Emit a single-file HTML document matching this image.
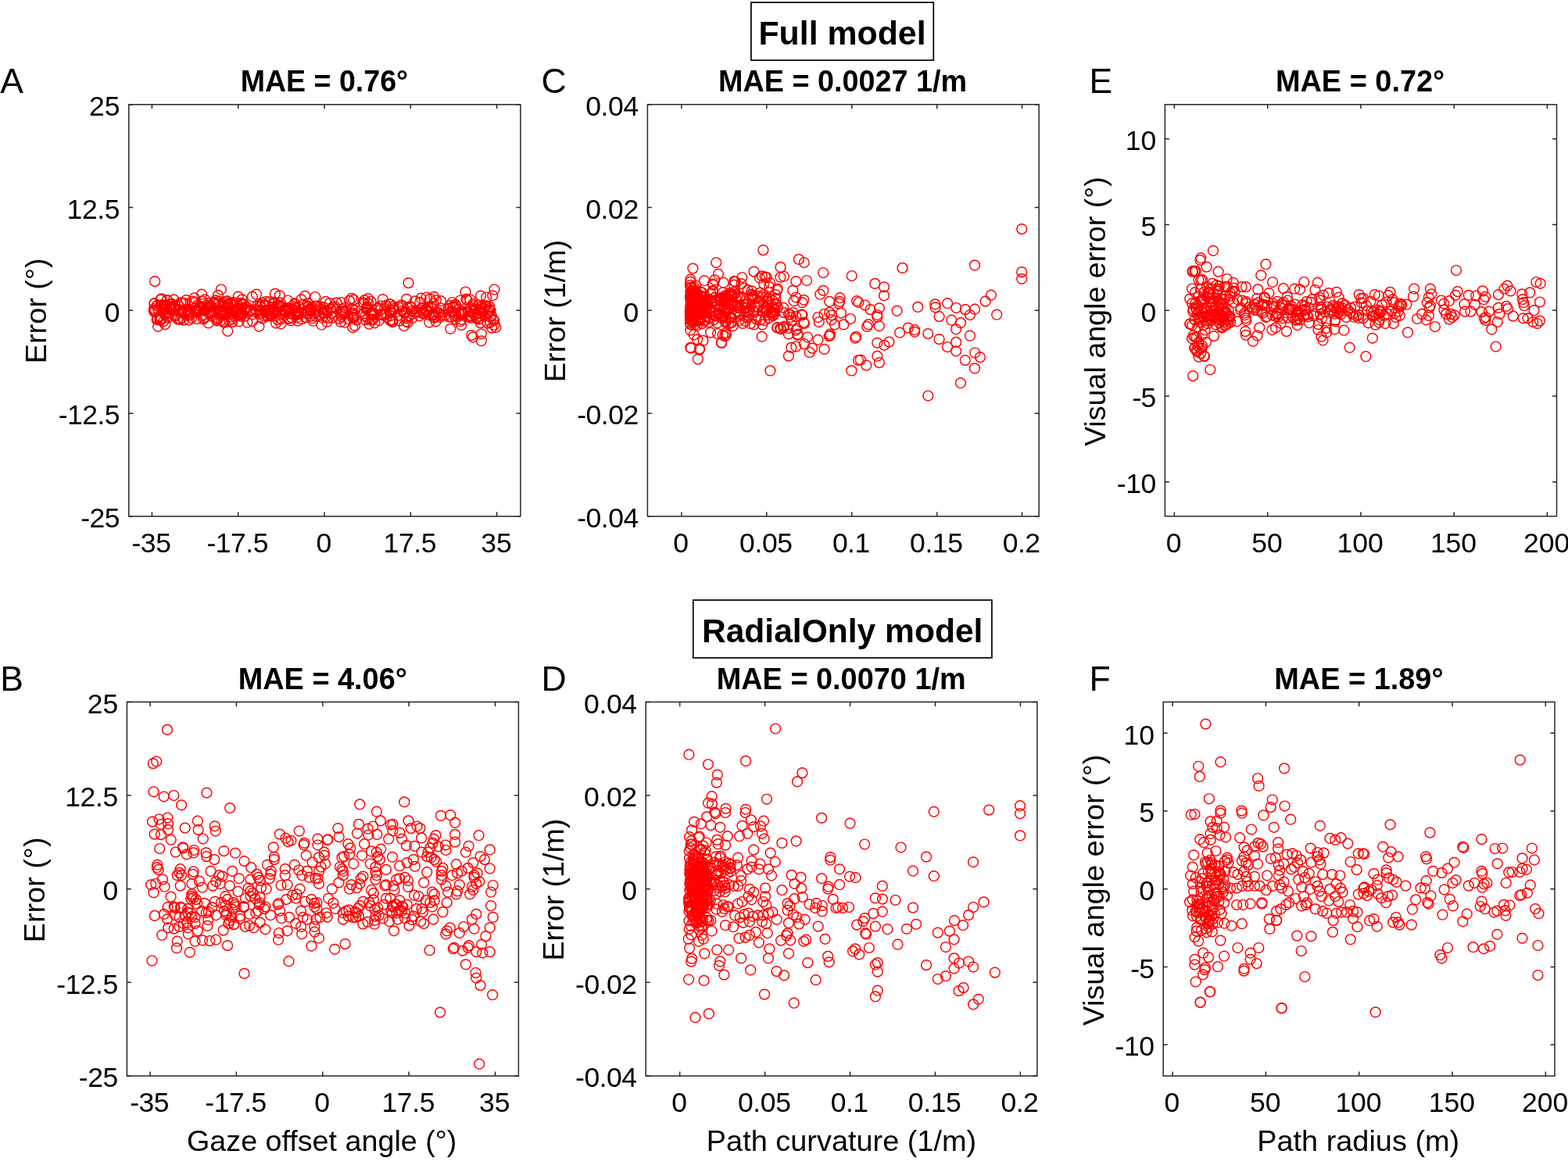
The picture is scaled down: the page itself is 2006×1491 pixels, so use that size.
<!DOCTYPE html><html><head><meta charset="utf-8"><title>Model error figure</title><style>html,body{margin:0;padding:0;background:#fff;overflow:hidden}svg{display:block}text{font-family:"Liberation Sans",Arial,Helvetica,sans-serif;fill:#000}</style></head><body>
<svg width="2006" height="1491" viewBox="0 0 2006 1491">
<rect width="2006" height="1491" fill="#fff"/>
<g fill="none" stroke="#f00" stroke-width="1.45">
<circle cx="337.8" cy="404.7" r="6.4"/>
<circle cx="227.7" cy="407.5" r="6.4"/>
<circle cx="430.7" cy="395.5" r="6.4"/>
<circle cx="418.3" cy="399.7" r="6.4"/>
<circle cx="212.4" cy="394.5" r="6.4"/>
<circle cx="235.7" cy="398.8" r="6.4"/>
<circle cx="381.9" cy="399.5" r="6.4"/>
<circle cx="293.8" cy="393.6" r="6.4"/>
<circle cx="470.8" cy="408.1" r="6.4"/>
<circle cx="369.7" cy="393.9" r="6.4"/>
<circle cx="623.6" cy="413.6" r="6.4"/>
<circle cx="322.8" cy="402.3" r="6.4"/>
<circle cx="259.2" cy="402.9" r="6.4"/>
<circle cx="553.5" cy="402.4" r="6.4"/>
<circle cx="275.2" cy="386.9" r="6.4"/>
<circle cx="359.1" cy="391.5" r="6.4"/>
<circle cx="435.9" cy="400.3" r="6.4"/>
<circle cx="286.2" cy="398.6" r="6.4"/>
<circle cx="494.0" cy="390.9" r="6.4"/>
<circle cx="452.5" cy="400.7" r="6.4"/>
<circle cx="394.5" cy="392.8" r="6.4"/>
<circle cx="502.2" cy="411.9" r="6.4"/>
<circle cx="302.9" cy="388.2" r="6.4"/>
<circle cx="579.3" cy="392.8" r="6.4"/>
<circle cx="515.5" cy="391.9" r="6.4"/>
<circle cx="379.1" cy="397.7" r="6.4"/>
<circle cx="410.2" cy="392.6" r="6.4"/>
<circle cx="213.2" cy="390.4" r="6.4"/>
<circle cx="447.0" cy="384.9" r="6.4"/>
<circle cx="579.5" cy="392.4" r="6.4"/>
<circle cx="456.3" cy="409.6" r="6.4"/>
<circle cx="450.0" cy="381.8" r="6.4"/>
<circle cx="609.8" cy="401.9" r="6.4"/>
<circle cx="403.7" cy="396.0" r="6.4"/>
<circle cx="503.3" cy="394.9" r="6.4"/>
<circle cx="479.4" cy="413.3" r="6.4"/>
<circle cx="320.7" cy="396.8" r="6.4"/>
<circle cx="365.0" cy="396.6" r="6.4"/>
<circle cx="398.2" cy="395.9" r="6.4"/>
<circle cx="269.6" cy="399.7" r="6.4"/>
<circle cx="532.5" cy="399.5" r="6.4"/>
<circle cx="252.7" cy="397.6" r="6.4"/>
<circle cx="577.7" cy="406.0" r="6.4"/>
<circle cx="231.3" cy="387.3" r="6.4"/>
<circle cx="582.9" cy="400.9" r="6.4"/>
<circle cx="554.8" cy="402.0" r="6.4"/>
<circle cx="377.9" cy="392.3" r="6.4"/>
<circle cx="353.1" cy="413.5" r="6.4"/>
<circle cx="262.1" cy="383.3" r="6.4"/>
<circle cx="273.2" cy="398.2" r="6.4"/>
<circle cx="408.4" cy="403.7" r="6.4"/>
<circle cx="454.0" cy="397.4" r="6.4"/>
<circle cx="379.5" cy="398.3" r="6.4"/>
<circle cx="357.7" cy="378.3" r="6.4"/>
<circle cx="498.4" cy="389.0" r="6.4"/>
<circle cx="421.8" cy="388.1" r="6.4"/>
<circle cx="219.6" cy="388.9" r="6.4"/>
<circle cx="590.0" cy="400.7" r="6.4"/>
<circle cx="545.5" cy="380.5" r="6.4"/>
<circle cx="367.9" cy="394.3" r="6.4"/>
<circle cx="473.8" cy="399.9" r="6.4"/>
<circle cx="223.3" cy="402.8" r="6.4"/>
<circle cx="267.1" cy="399.9" r="6.4"/>
<circle cx="344.9" cy="397.7" r="6.4"/>
<circle cx="262.3" cy="397.6" r="6.4"/>
<circle cx="240.4" cy="396.2" r="6.4"/>
<circle cx="579.0" cy="399.0" r="6.4"/>
<circle cx="465.0" cy="401.4" r="6.4"/>
<circle cx="348.2" cy="402.7" r="6.4"/>
<circle cx="355.5" cy="409.3" r="6.4"/>
<circle cx="631.0" cy="409.0" r="6.4"/>
<circle cx="400.1" cy="393.9" r="6.4"/>
<circle cx="240.8" cy="397.9" r="6.4"/>
<circle cx="346.1" cy="396.0" r="6.4"/>
<circle cx="266.7" cy="413.4" r="6.4"/>
<circle cx="206.1" cy="407.4" r="6.4"/>
<circle cx="260.2" cy="394.3" r="6.4"/>
<circle cx="433.9" cy="407.8" r="6.4"/>
<circle cx="624.6" cy="399.3" r="6.4"/>
<circle cx="574.1" cy="395.3" r="6.4"/>
<circle cx="356.6" cy="391.3" r="6.4"/>
<circle cx="269.2" cy="398.9" r="6.4"/>
<circle cx="537.2" cy="387.1" r="6.4"/>
<circle cx="340.4" cy="400.1" r="6.4"/>
<circle cx="627.4" cy="412.8" r="6.4"/>
<circle cx="569.5" cy="402.9" r="6.4"/>
<circle cx="520.1" cy="382.8" r="6.4"/>
<circle cx="295.3" cy="389.6" r="6.4"/>
<circle cx="208.7" cy="396.6" r="6.4"/>
<circle cx="208.2" cy="396.3" r="6.4"/>
<circle cx="499.3" cy="404.0" r="6.4"/>
<circle cx="615.0" cy="378.6" r="6.4"/>
<circle cx="628.8" cy="404.0" r="6.4"/>
<circle cx="614.3" cy="393.5" r="6.4"/>
<circle cx="295.4" cy="402.0" r="6.4"/>
<circle cx="282.2" cy="400.9" r="6.4"/>
<circle cx="590.3" cy="408.9" r="6.4"/>
<circle cx="564.1" cy="385.2" r="6.4"/>
<circle cx="546.2" cy="399.1" r="6.4"/>
<circle cx="233.1" cy="387.6" r="6.4"/>
<circle cx="538.6" cy="381.7" r="6.4"/>
<circle cx="524.6" cy="392.2" r="6.4"/>
<circle cx="541.6" cy="398.2" r="6.4"/>
<circle cx="341.6" cy="404.6" r="6.4"/>
<circle cx="371.8" cy="410.4" r="6.4"/>
<circle cx="270.5" cy="393.0" r="6.4"/>
<circle cx="251.6" cy="408.2" r="6.4"/>
<circle cx="549.2" cy="412.5" r="6.4"/>
<circle cx="260.0" cy="408.5" r="6.4"/>
<circle cx="349.5" cy="393.2" r="6.4"/>
<circle cx="202.2" cy="396.1" r="6.4"/>
<circle cx="621.2" cy="391.4" r="6.4"/>
<circle cx="604.9" cy="389.1" r="6.4"/>
<circle cx="386.0" cy="408.5" r="6.4"/>
<circle cx="288.4" cy="386.0" r="6.4"/>
<circle cx="306.3" cy="395.8" r="6.4"/>
<circle cx="452.9" cy="403.6" r="6.4"/>
<circle cx="309.6" cy="393.6" r="6.4"/>
<circle cx="594.6" cy="399.7" r="6.4"/>
<circle cx="351.0" cy="386.6" r="6.4"/>
<circle cx="592.1" cy="400.4" r="6.4"/>
<circle cx="380.2" cy="406.2" r="6.4"/>
<circle cx="428.9" cy="392.5" r="6.4"/>
<circle cx="425.3" cy="406.6" r="6.4"/>
<circle cx="276.2" cy="398.6" r="6.4"/>
<circle cx="197.7" cy="399.1" r="6.4"/>
<circle cx="403.4" cy="392.5" r="6.4"/>
<circle cx="513.6" cy="390.4" r="6.4"/>
<circle cx="423.0" cy="394.9" r="6.4"/>
<circle cx="439.3" cy="398.4" r="6.4"/>
<circle cx="441.4" cy="393.6" r="6.4"/>
<circle cx="304.8" cy="395.0" r="6.4"/>
<circle cx="418.4" cy="411.9" r="6.4"/>
<circle cx="442.0" cy="398.7" r="6.4"/>
<circle cx="390.1" cy="378.8" r="6.4"/>
<circle cx="464.3" cy="387.3" r="6.4"/>
<circle cx="499.4" cy="397.1" r="6.4"/>
<circle cx="394.1" cy="388.0" r="6.4"/>
<circle cx="608.4" cy="395.5" r="6.4"/>
<circle cx="502.3" cy="412.0" r="6.4"/>
<circle cx="309.7" cy="383.3" r="6.4"/>
<circle cx="441.1" cy="412.7" r="6.4"/>
<circle cx="256.1" cy="391.8" r="6.4"/>
<circle cx="249.3" cy="394.4" r="6.4"/>
<circle cx="301.4" cy="398.7" r="6.4"/>
<circle cx="228.0" cy="390.3" r="6.4"/>
<circle cx="588.9" cy="384.5" r="6.4"/>
<circle cx="263.6" cy="394.9" r="6.4"/>
<circle cx="258.6" cy="385.3" r="6.4"/>
<circle cx="582.7" cy="403.4" r="6.4"/>
<circle cx="613.2" cy="396.3" r="6.4"/>
<circle cx="560.6" cy="399.6" r="6.4"/>
<circle cx="266.7" cy="388.2" r="6.4"/>
<circle cx="344.5" cy="401.8" r="6.4"/>
<circle cx="281.7" cy="391.8" r="6.4"/>
<circle cx="204.5" cy="409.9" r="6.4"/>
<circle cx="438.7" cy="396.0" r="6.4"/>
<circle cx="341.2" cy="398.1" r="6.4"/>
<circle cx="469.3" cy="394.4" r="6.4"/>
<circle cx="627.5" cy="397.3" r="6.4"/>
<circle cx="541.3" cy="401.4" r="6.4"/>
<circle cx="312.3" cy="396.8" r="6.4"/>
<circle cx="213.3" cy="398.7" r="6.4"/>
<circle cx="252.7" cy="390.9" r="6.4"/>
<circle cx="380.9" cy="410.8" r="6.4"/>
<circle cx="309.3" cy="389.2" r="6.4"/>
<circle cx="261.4" cy="407.2" r="6.4"/>
<circle cx="502.8" cy="392.1" r="6.4"/>
<circle cx="235.2" cy="409.6" r="6.4"/>
<circle cx="382.3" cy="402.1" r="6.4"/>
<circle cx="227.7" cy="408.7" r="6.4"/>
<circle cx="547.1" cy="392.9" r="6.4"/>
<circle cx="232.7" cy="399.5" r="6.4"/>
<circle cx="573.9" cy="395.0" r="6.4"/>
<circle cx="394.8" cy="391.8" r="6.4"/>
<circle cx="601.9" cy="406.6" r="6.4"/>
<circle cx="313.3" cy="404.7" r="6.4"/>
<circle cx="300.4" cy="405.0" r="6.4"/>
<circle cx="243.9" cy="398.9" r="6.4"/>
<circle cx="284.4" cy="399.8" r="6.4"/>
<circle cx="332.7" cy="392.6" r="6.4"/>
<circle cx="323.0" cy="411.0" r="6.4"/>
<circle cx="415.0" cy="400.9" r="6.4"/>
<circle cx="204.0" cy="404.6" r="6.4"/>
<circle cx="305.7" cy="411.3" r="6.4"/>
<circle cx="437.4" cy="398.8" r="6.4"/>
<circle cx="279.0" cy="377.9" r="6.4"/>
<circle cx="242.6" cy="400.6" r="6.4"/>
<circle cx="554.7" cy="388.5" r="6.4"/>
<circle cx="561.6" cy="401.6" r="6.4"/>
<circle cx="368.2" cy="384.5" r="6.4"/>
<circle cx="626.3" cy="397.0" r="6.4"/>
<circle cx="346.1" cy="404.1" r="6.4"/>
<circle cx="474.6" cy="385.9" r="6.4"/>
<circle cx="373.3" cy="395.9" r="6.4"/>
<circle cx="252.9" cy="399.8" r="6.4"/>
<circle cx="227.0" cy="397.1" r="6.4"/>
<circle cx="267.5" cy="391.0" r="6.4"/>
<circle cx="233.0" cy="406.8" r="6.4"/>
<circle cx="489.7" cy="383.1" r="6.4"/>
<circle cx="319.5" cy="397.8" r="6.4"/>
<circle cx="397.2" cy="404.6" r="6.4"/>
<circle cx="265.0" cy="391.2" r="6.4"/>
<circle cx="617.3" cy="399.7" r="6.4"/>
<circle cx="622.0" cy="391.4" r="6.4"/>
<circle cx="619.0" cy="395.6" r="6.4"/>
<circle cx="331.6" cy="397.3" r="6.4"/>
<circle cx="363.2" cy="397.8" r="6.4"/>
<circle cx="403.9" cy="391.8" r="6.4"/>
<circle cx="417.1" cy="397.4" r="6.4"/>
<circle cx="198.2" cy="397.2" r="6.4"/>
<circle cx="371.0" cy="401.2" r="6.4"/>
<circle cx="214.3" cy="404.7" r="6.4"/>
<circle cx="298.0" cy="398.5" r="6.4"/>
<circle cx="452.5" cy="383.6" r="6.4"/>
<circle cx="484.0" cy="394.9" r="6.4"/>
<circle cx="509.6" cy="403.6" r="6.4"/>
<circle cx="338.8" cy="391.7" r="6.4"/>
<circle cx="627.3" cy="405.6" r="6.4"/>
<circle cx="477.7" cy="408.5" r="6.4"/>
<circle cx="215.2" cy="406.7" r="6.4"/>
<circle cx="470.8" cy="382.1" r="6.4"/>
<circle cx="517.4" cy="399.3" r="6.4"/>
<circle cx="425.4" cy="393.2" r="6.4"/>
<circle cx="416.9" cy="405.3" r="6.4"/>
<circle cx="558.0" cy="384.3" r="6.4"/>
<circle cx="451.8" cy="407.6" r="6.4"/>
<circle cx="499.7" cy="389.5" r="6.4"/>
<circle cx="296.7" cy="402.0" r="6.4"/>
<circle cx="354.0" cy="398.4" r="6.4"/>
<circle cx="242.0" cy="403.1" r="6.4"/>
<circle cx="471.0" cy="388.2" r="6.4"/>
<circle cx="470.3" cy="393.3" r="6.4"/>
<circle cx="197.5" cy="388.6" r="6.4"/>
<circle cx="545.4" cy="397.4" r="6.4"/>
<circle cx="430.4" cy="387.4" r="6.4"/>
<circle cx="484.8" cy="410.2" r="6.4"/>
<circle cx="306.5" cy="403.1" r="6.4"/>
<circle cx="228.6" cy="396.2" r="6.4"/>
<circle cx="285.9" cy="411.2" r="6.4"/>
<circle cx="520.0" cy="407.3" r="6.4"/>
<circle cx="363.6" cy="396.0" r="6.4"/>
<circle cx="405.8" cy="391.6" r="6.4"/>
<circle cx="466.2" cy="384.2" r="6.4"/>
<circle cx="477.5" cy="401.7" r="6.4"/>
<circle cx="307.2" cy="399.7" r="6.4"/>
<circle cx="521.5" cy="393.8" r="6.4"/>
<circle cx="201.5" cy="407.9" r="6.4"/>
<circle cx="222.6" cy="396.0" r="6.4"/>
<circle cx="499.2" cy="410.1" r="6.4"/>
<circle cx="492.0" cy="394.9" r="6.4"/>
<circle cx="399.5" cy="407.4" r="6.4"/>
<circle cx="400.3" cy="410.7" r="6.4"/>
<circle cx="283.3" cy="409.7" r="6.4"/>
<circle cx="624.4" cy="399.0" r="6.4"/>
<circle cx="397.0" cy="396.9" r="6.4"/>
<circle cx="555.1" cy="406.6" r="6.4"/>
<circle cx="313.7" cy="395.7" r="6.4"/>
<circle cx="287.9" cy="403.0" r="6.4"/>
<circle cx="450.7" cy="395.5" r="6.4"/>
<circle cx="258.1" cy="376.7" r="6.4"/>
<circle cx="254.1" cy="394.3" r="6.4"/>
<circle cx="555.3" cy="379.8" r="6.4"/>
<circle cx="504.1" cy="396.5" r="6.4"/>
<circle cx="297.3" cy="405.4" r="6.4"/>
<circle cx="206.9" cy="391.6" r="6.4"/>
<circle cx="197.6" cy="388.2" r="6.4"/>
<circle cx="328.3" cy="398.0" r="6.4"/>
<circle cx="257.6" cy="393.4" r="6.4"/>
<circle cx="564.0" cy="403.7" r="6.4"/>
<circle cx="196.8" cy="397.6" r="6.4"/>
<circle cx="248.6" cy="381.3" r="6.4"/>
<circle cx="601.8" cy="393.3" r="6.4"/>
<circle cx="322.9" cy="379.7" r="6.4"/>
<circle cx="454.1" cy="416.9" r="6.4"/>
<circle cx="354.0" cy="391.4" r="6.4"/>
<circle cx="217.1" cy="400.5" r="6.4"/>
<circle cx="240.5" cy="401.0" r="6.4"/>
<circle cx="605.8" cy="391.5" r="6.4"/>
<circle cx="305.2" cy="396.5" r="6.4"/>
<circle cx="279.2" cy="407.6" r="6.4"/>
<circle cx="359.5" cy="414.5" r="6.4"/>
<circle cx="551.6" cy="392.7" r="6.4"/>
<circle cx="472.3" cy="414.8" r="6.4"/>
<circle cx="436.6" cy="387.0" r="6.4"/>
<circle cx="511.2" cy="410.6" r="6.4"/>
<circle cx="393.5" cy="401.7" r="6.4"/>
<circle cx="525.7" cy="393.2" r="6.4"/>
<circle cx="217.5" cy="392.0" r="6.4"/>
<circle cx="601.9" cy="404.2" r="6.4"/>
<circle cx="346.5" cy="404.4" r="6.4"/>
<circle cx="326.4" cy="395.9" r="6.4"/>
<circle cx="483.3" cy="394.1" r="6.4"/>
<circle cx="368.7" cy="407.8" r="6.4"/>
<circle cx="269.3" cy="400.6" r="6.4"/>
<circle cx="592.8" cy="402.4" r="6.4"/>
<circle cx="413.7" cy="401.0" r="6.4"/>
<circle cx="632.5" cy="415.7" r="6.4"/>
<circle cx="393.1" cy="401.1" r="6.4"/>
<circle cx="235.7" cy="401.8" r="6.4"/>
<circle cx="345.8" cy="402.8" r="6.4"/>
<circle cx="309.2" cy="400.9" r="6.4"/>
<circle cx="445.5" cy="408.2" r="6.4"/>
<circle cx="376.8" cy="388.3" r="6.4"/>
<circle cx="377.3" cy="389.3" r="6.4"/>
<circle cx="344.1" cy="396.2" r="6.4"/>
<circle cx="223.2" cy="393.7" r="6.4"/>
<circle cx="416.5" cy="385.9" r="6.4"/>
<circle cx="290.6" cy="385.2" r="6.4"/>
<circle cx="314.7" cy="397.6" r="6.4"/>
<circle cx="391.3" cy="406.1" r="6.4"/>
<circle cx="613.8" cy="407.5" r="6.4"/>
<circle cx="205.6" cy="383.4" r="6.4"/>
<circle cx="210.1" cy="393.0" r="6.4"/>
<circle cx="403.3" cy="380.0" r="6.4"/>
<circle cx="453.2" cy="406.0" r="6.4"/>
<circle cx="602.0" cy="397.5" r="6.4"/>
<circle cx="557.6" cy="411.5" r="6.4"/>
<circle cx="304.8" cy="379.6" r="6.4"/>
<circle cx="243.8" cy="403.3" r="6.4"/>
<circle cx="494.7" cy="406.0" r="6.4"/>
<circle cx="608.4" cy="395.3" r="6.4"/>
<circle cx="531.0" cy="385.4" r="6.4"/>
<circle cx="396.3" cy="395.2" r="6.4"/>
<circle cx="538.6" cy="396.7" r="6.4"/>
<circle cx="297.9" cy="408.2" r="6.4"/>
<circle cx="329.1" cy="391.6" r="6.4"/>
<circle cx="252.0" cy="397.4" r="6.4"/>
<circle cx="502.0" cy="409.6" r="6.4"/>
<circle cx="245.1" cy="406.9" r="6.4"/>
<circle cx="451.3" cy="401.9" r="6.4"/>
<circle cx="366.0" cy="399.4" r="6.4"/>
<circle cx="200.6" cy="408.9" r="6.4"/>
<circle cx="328.1" cy="376.7" r="6.4"/>
<circle cx="478.3" cy="402.8" r="6.4"/>
<circle cx="583.1" cy="391.4" r="6.4"/>
<circle cx="304.2" cy="398.5" r="6.4"/>
<circle cx="616.7" cy="395.5" r="6.4"/>
<circle cx="205.5" cy="390.5" r="6.4"/>
<circle cx="414.3" cy="393.4" r="6.4"/>
<circle cx="308.7" cy="389.6" r="6.4"/>
<circle cx="488.3" cy="402.9" r="6.4"/>
<circle cx="210.9" cy="394.7" r="6.4"/>
<circle cx="344.1" cy="386.2" r="6.4"/>
<circle cx="282.8" cy="403.7" r="6.4"/>
<circle cx="545.1" cy="396.8" r="6.4"/>
<circle cx="285.9" cy="387.4" r="6.4"/>
<circle cx="620.8" cy="391.5" r="6.4"/>
<circle cx="297.1" cy="412.1" r="6.4"/>
<circle cx="293.0" cy="398.0" r="6.4"/>
<circle cx="612.9" cy="390.4" r="6.4"/>
<circle cx="413.1" cy="399.8" r="6.4"/>
<circle cx="378.7" cy="403.1" r="6.4"/>
<circle cx="487.4" cy="402.0" r="6.4"/>
<circle cx="368.3" cy="396.0" r="6.4"/>
<circle cx="289.3" cy="402.1" r="6.4"/>
<circle cx="218.7" cy="396.7" r="6.4"/>
<circle cx="222.3" cy="383.3" r="6.4"/>
<circle cx="583.0" cy="408.8" r="6.4"/>
<circle cx="516.9" cy="417.2" r="6.4"/>
<circle cx="340.2" cy="397.2" r="6.4"/>
<circle cx="277.3" cy="410.5" r="6.4"/>
<circle cx="210.0" cy="392.0" r="6.4"/>
<circle cx="487.0" cy="391.6" r="6.4"/>
<circle cx="341.3" cy="403.2" r="6.4"/>
<circle cx="270.1" cy="404.4" r="6.4"/>
<circle cx="349.9" cy="397.6" r="6.4"/>
<circle cx="614.5" cy="413.1" r="6.4"/>
<circle cx="286.8" cy="412.9" r="6.4"/>
<circle cx="352.2" cy="404.4" r="6.4"/>
<circle cx="385.4" cy="383.3" r="6.4"/>
<circle cx="217.6" cy="389.4" r="6.4"/>
<circle cx="598.7" cy="398.9" r="6.4"/>
<circle cx="280.5" cy="385.6" r="6.4"/>
<circle cx="209.3" cy="411.2" r="6.4"/>
<circle cx="375.9" cy="403.0" r="6.4"/>
<circle cx="213.8" cy="384.1" r="6.4"/>
<circle cx="211.3" cy="415.1" r="6.4"/>
<circle cx="308.6" cy="404.8" r="6.4"/>
<circle cx="523.3" cy="403.7" r="6.4"/>
<circle cx="315.3" cy="392.9" r="6.4"/>
<circle cx="615.5" cy="392.6" r="6.4"/>
<circle cx="509.9" cy="393.1" r="6.4"/>
<circle cx="334.6" cy="397.4" r="6.4"/>
<circle cx="527.0" cy="398.2" r="6.4"/>
<circle cx="597.4" cy="383.9" r="6.4"/>
<circle cx="206.6" cy="382.3" r="6.4"/>
<circle cx="613.8" cy="400.8" r="6.4"/>
<circle cx="365.3" cy="397.4" r="6.4"/>
<circle cx="412.1" cy="406.5" r="6.4"/>
<circle cx="602.5" cy="403.8" r="6.4"/>
<circle cx="519.5" cy="411.5" r="6.4"/>
<circle cx="556.4" cy="399.2" r="6.4"/>
<circle cx="339.6" cy="386.0" r="6.4"/>
<circle cx="336.0" cy="387.9" r="6.4"/>
<circle cx="230.6" cy="408.8" r="6.4"/>
<circle cx="282.4" cy="397.6" r="6.4"/>
<circle cx="224.4" cy="391.1" r="6.4"/>
<circle cx="210.8" cy="390.4" r="6.4"/>
<circle cx="625.4" cy="395.1" r="6.4"/>
<circle cx="583.0" cy="404.1" r="6.4"/>
<circle cx="232.8" cy="397.0" r="6.4"/>
<circle cx="238.2" cy="384.1" r="6.4"/>
<circle cx="391.8" cy="397.6" r="6.4"/>
<circle cx="298.6" cy="387.2" r="6.4"/>
<circle cx="491.3" cy="403.4" r="6.4"/>
<circle cx="523.6" cy="404.7" r="6.4"/>
<circle cx="249.1" cy="387.2" r="6.4"/>
<circle cx="564.3" cy="394.5" r="6.4"/>
<circle cx="359.4" cy="408.1" r="6.4"/>
<circle cx="519.3" cy="399.5" r="6.4"/>
<circle cx="303.5" cy="403.6" r="6.4"/>
<circle cx="263.2" cy="405.8" r="6.4"/>
<circle cx="338.9" cy="390.1" r="6.4"/>
<circle cx="369.5" cy="407.6" r="6.4"/>
<circle cx="297.3" cy="397.0" r="6.4"/>
<circle cx="550.1" cy="382.6" r="6.4"/>
<circle cx="403.9" cy="404.4" r="6.4"/>
<circle cx="596.5" cy="382.7" r="6.4"/>
<circle cx="213.7" cy="396.3" r="6.4"/>
<circle cx="279.0" cy="401.6" r="6.4"/>
<circle cx="622.2" cy="380.5" r="6.4"/>
<circle cx="359.0" cy="387.7" r="6.4"/>
<circle cx="575.4" cy="391.2" r="6.4"/>
<circle cx="536.7" cy="399.6" r="6.4"/>
<circle cx="610.2" cy="406.5" r="6.4"/>
<circle cx="467.5" cy="404.6" r="6.4"/>
<circle cx="291.3" cy="394.3" r="6.4"/>
<circle cx="285.3" cy="400.9" r="6.4"/>
<circle cx="307.7" cy="387.5" r="6.4"/>
<circle cx="285.1" cy="390.3" r="6.4"/>
<circle cx="201.0" cy="391.5" r="6.4"/>
<circle cx="277.1" cy="408.8" r="6.4"/>
<circle cx="332.7" cy="401.9" r="6.4"/>
<circle cx="436.0" cy="412.0" r="6.4"/>
<circle cx="223.7" cy="404.4" r="6.4"/>
<circle cx="437.0" cy="402.6" r="6.4"/>
<circle cx="476.0" cy="401.8" r="6.4"/>
<circle cx="500.6" cy="400.3" r="6.4"/>
<circle cx="375.5" cy="396.0" r="6.4"/>
<circle cx="613.5" cy="404.6" r="6.4"/>
<circle cx="332.8" cy="390.2" r="6.4"/>
<circle cx="378.4" cy="394.3" r="6.4"/>
<circle cx="574.5" cy="405.6" r="6.4"/>
<circle cx="282.4" cy="397.3" r="6.4"/>
<circle cx="514.9" cy="397.8" r="6.4"/>
<circle cx="590.9" cy="398.4" r="6.4"/>
<circle cx="381.6" cy="401.2" r="6.4"/>
<circle cx="582.7" cy="389.7" r="6.4"/>
<circle cx="397.9" cy="398.3" r="6.4"/>
<circle cx="437.6" cy="398.8" r="6.4"/>
<circle cx="476.6" cy="400.6" r="6.4"/>
<circle cx="468.5" cy="395.5" r="6.4"/>
<circle cx="358.4" cy="392.7" r="6.4"/>
<circle cx="320.1" cy="397.4" r="6.4"/>
<circle cx="424.3" cy="401.1" r="6.4"/>
<circle cx="410.8" cy="395.7" r="6.4"/>
<circle cx="548.5" cy="403.0" r="6.4"/>
<circle cx="251.5" cy="396.3" r="6.4"/>
<circle cx="609.1" cy="407.1" r="6.4"/>
<circle cx="219.4" cy="396.0" r="6.4"/>
<circle cx="601.7" cy="383.5" r="6.4"/>
<circle cx="467.7" cy="409.4" r="6.4"/>
<circle cx="557.2" cy="405.5" r="6.4"/>
<circle cx="293.3" cy="410.1" r="6.4"/>
<circle cx="373.2" cy="406.6" r="6.4"/>
<circle cx="276.1" cy="384.4" r="6.4"/>
<circle cx="291.5" cy="389.2" r="6.4"/>
<circle cx="364.0" cy="403.5" r="6.4"/>
<circle cx="249.9" cy="397.8" r="6.4"/>
<circle cx="589.0" cy="411.2" r="6.4"/>
<circle cx="214.0" cy="384.3" r="6.4"/>
<circle cx="212.7" cy="392.0" r="6.4"/>
<circle cx="563.1" cy="406.0" r="6.4"/>
<circle cx="436.9" cy="405.3" r="6.4"/>
<circle cx="470.6" cy="394.4" r="6.4"/>
<circle cx="451.2" cy="405.8" r="6.4"/>
<circle cx="382.5" cy="392.5" r="6.4"/>
<circle cx="388.0" cy="389.7" r="6.4"/>
<circle cx="206.2" cy="390.3" r="6.4"/>
<circle cx="299.0" cy="390.8" r="6.4"/>
<circle cx="530.4" cy="399.3" r="6.4"/>
<circle cx="274.7" cy="388.3" r="6.4"/>
<circle cx="403.3" cy="401.0" r="6.4"/>
<circle cx="384.6" cy="400.3" r="6.4"/>
<circle cx="236.2" cy="388.0" r="6.4"/>
<circle cx="213.9" cy="401.1" r="6.4"/>
<circle cx="474.8" cy="409.5" r="6.4"/>
<circle cx="536.6" cy="404.3" r="6.4"/>
<circle cx="420.0" cy="407.0" r="6.4"/>
<circle cx="361.5" cy="400.9" r="6.4"/>
<circle cx="612.5" cy="408.5" r="6.4"/>
<circle cx="632.3" cy="410.2" r="6.4"/>
<circle cx="516.7" cy="399.7" r="6.4"/>
<circle cx="626.0" cy="392.4" r="6.4"/>
<circle cx="411.4" cy="415.7" r="6.4"/>
<circle cx="268.3" cy="392.4" r="6.4"/>
<circle cx="541.3" cy="400.3" r="6.4"/>
<circle cx="349.7" cy="396.2" r="6.4"/>
<circle cx="527.2" cy="407.3" r="6.4"/>
<circle cx="316.4" cy="412.7" r="6.4"/>
<circle cx="553.2" cy="403.7" r="6.4"/>
<circle cx="598.9" cy="405.4" r="6.4"/>
<circle cx="287.2" cy="396.7" r="6.4"/>
<circle cx="335.8" cy="407.6" r="6.4"/>
<circle cx="212.1" cy="399.6" r="6.4"/>
<circle cx="606.1" cy="402.1" r="6.4"/>
<circle cx="493.7" cy="401.6" r="6.4"/>
<circle cx="539.8" cy="394.3" r="6.4"/>
<circle cx="246.4" cy="385.6" r="6.4"/>
<circle cx="353.6" cy="395.2" r="6.4"/>
<circle cx="578.4" cy="387.0" r="6.4"/>
<circle cx="582.6" cy="393.7" r="6.4"/>
<circle cx="241.8" cy="409.5" r="6.4"/>
<circle cx="368.7" cy="397.0" r="6.4"/>
<circle cx="545.4" cy="395.1" r="6.4"/>
<circle cx="353.8" cy="398.3" r="6.4"/>
<circle cx="273.4" cy="388.4" r="6.4"/>
<circle cx="521.7" cy="412.5" r="6.4"/>
<circle cx="307.1" cy="402.2" r="6.4"/>
<circle cx="476.0" cy="408.7" r="6.4"/>
<circle cx="486.7" cy="396.4" r="6.4"/>
<circle cx="332.9" cy="399.7" r="6.4"/>
<circle cx="261.4" cy="397.5" r="6.4"/>
<circle cx="465.8" cy="388.2" r="6.4"/>
<circle cx="588.2" cy="401.7" r="6.4"/>
<circle cx="253.8" cy="399.3" r="6.4"/>
<circle cx="205.8" cy="409.7" r="6.4"/>
<circle cx="197.1" cy="395.0" r="6.4"/>
<circle cx="352.4" cy="400.7" r="6.4"/>
<circle cx="294.2" cy="387.7" r="6.4"/>
<circle cx="285.4" cy="391.8" r="6.4"/>
<circle cx="469.3" cy="393.0" r="6.4"/>
<circle cx="606.2" cy="398.2" r="6.4"/>
<circle cx="302.7" cy="399.8" r="6.4"/>
<circle cx="475.5" cy="400.6" r="6.4"/>
<circle cx="577.6" cy="399.2" r="6.4"/>
<circle cx="311.7" cy="389.1" r="6.4"/>
<circle cx="201.0" cy="390.8" r="6.4"/>
<circle cx="349.4" cy="388.9" r="6.4"/>
<circle cx="198.2" cy="360.1" r="6.4"/>
<circle cx="282.9" cy="370.5" r="6.4"/>
<circle cx="351.9" cy="375.9" r="6.4"/>
<circle cx="291.3" cy="423.8" r="6.4"/>
<circle cx="202.1" cy="417.8" r="6.4"/>
<circle cx="331.4" cy="417.8" r="6.4"/>
<circle cx="522.5" cy="362.1" r="6.4"/>
<circle cx="451.3" cy="419.0" r="6.4"/>
<circle cx="603.2" cy="429.1" r="6.4"/>
<circle cx="615.8" cy="427.3" r="6.4"/>
<circle cx="615.8" cy="436.3" r="6.4"/>
<circle cx="605.0" cy="431.5" r="6.4"/>
<circle cx="632.5" cy="370.5" r="6.4"/>
<circle cx="630.2" cy="378.3" r="6.4"/>
<circle cx="634.3" cy="419.0" r="6.4"/>
<circle cx="629.0" cy="419.6" r="6.4"/>
<circle cx="595.5" cy="373.5" r="6.4"/>
<circle cx="576.3" cy="420.8" r="6.4"/>
<circle cx="590.1" cy="416.0" r="6.4"/>
</g>
<g fill="none" stroke="#f00" stroke-width="1.45">
<circle cx="976.4" cy="320.1" r="6.4"/>
<circle cx="916.3" cy="336.0" r="6.4"/>
<circle cx="886.4" cy="343.6" r="6.4"/>
<circle cx="919.0" cy="350.7" r="6.4"/>
<circle cx="964.6" cy="347.6" r="6.4"/>
<circle cx="998.6" cy="341.9" r="6.4"/>
<circle cx="1002.9" cy="353.7" r="6.4"/>
<circle cx="1021.9" cy="331.9" r="6.4"/>
<circle cx="1028.8" cy="336.0" r="6.4"/>
<circle cx="1053.2" cy="349.0" r="6.4"/>
<circle cx="1089.7" cy="353.0" r="6.4"/>
<circle cx="1018.3" cy="360.1" r="6.4"/>
<circle cx="1032.1" cy="359.0" r="6.4"/>
<circle cx="1014.3" cy="371.8" r="6.4"/>
<circle cx="1053.2" cy="371.8" r="6.4"/>
<circle cx="1049.2" cy="376.7" r="6.4"/>
<circle cx="1018.3" cy="380.5" r="6.4"/>
<circle cx="1028.4" cy="383.8" r="6.4"/>
<circle cx="1026.4" cy="387.2" r="6.4"/>
<circle cx="1015.6" cy="385.2" r="6.4"/>
<circle cx="1061.2" cy="385.9" r="6.4"/>
<circle cx="1074.6" cy="381.2" r="6.4"/>
<circle cx="1074.0" cy="385.9" r="6.4"/>
<circle cx="1073.3" cy="388.5" r="6.4"/>
<circle cx="1096.1" cy="385.2" r="6.4"/>
<circle cx="1076.0" cy="400.6" r="6.4"/>
<circle cx="1088.1" cy="408.0" r="6.4"/>
<circle cx="1061.2" cy="399.9" r="6.4"/>
<circle cx="1063.9" cy="403.3" r="6.4"/>
<circle cx="1054.5" cy="402.0" r="6.4"/>
<circle cx="1046.5" cy="406.0" r="6.4"/>
<circle cx="1047.8" cy="412.0" r="6.4"/>
<circle cx="1063.9" cy="409.3" r="6.4"/>
<circle cx="1067.9" cy="415.4" r="6.4"/>
<circle cx="1079.3" cy="415.4" r="6.4"/>
<circle cx="1026.4" cy="403.3" r="6.4"/>
<circle cx="1029.0" cy="414.0" r="6.4"/>
<circle cx="1002.2" cy="393.9" r="6.4"/>
<circle cx="1008.9" cy="402.0" r="6.4"/>
<circle cx="1011.6" cy="406.0" r="6.4"/>
<circle cx="994.2" cy="419.4" r="6.4"/>
<circle cx="1002.2" cy="419.4" r="6.4"/>
<circle cx="1008.9" cy="427.4" r="6.4"/>
<circle cx="1019.6" cy="420.7" r="6.4"/>
<circle cx="1020.3" cy="428.8" r="6.4"/>
<circle cx="1033.1" cy="431.5" r="6.4"/>
<circle cx="1046.5" cy="434.8" r="6.4"/>
<circle cx="1061.9" cy="429.5" r="6.4"/>
<circle cx="1094.1" cy="432.8" r="6.4"/>
<circle cx="1029.0" cy="440.2" r="6.4"/>
<circle cx="1039.1" cy="445.6" r="6.4"/>
<circle cx="1018.3" cy="443.5" r="6.4"/>
<circle cx="1012.3" cy="444.9" r="6.4"/>
<circle cx="1054.5" cy="446.9" r="6.4"/>
<circle cx="1035.7" cy="450.9" r="6.4"/>
<circle cx="1008.9" cy="455.6" r="6.4"/>
<circle cx="1098.1" cy="461.0" r="6.4"/>
<circle cx="985.4" cy="474.4" r="6.4"/>
<circle cx="1089.4" cy="474.4" r="6.4"/>
<circle cx="974.7" cy="430.8" r="6.4"/>
<circle cx="892.9" cy="459.6" r="6.4"/>
<circle cx="884.1" cy="445.6" r="6.4"/>
<circle cx="894.9" cy="447.6" r="6.4"/>
<circle cx="923.1" cy="438.2" r="6.4"/>
<circle cx="949.2" cy="355.0" r="6.4"/>
<circle cx="972.0" cy="355.7" r="6.4"/>
<circle cx="978.7" cy="354.3" r="6.4"/>
<circle cx="984.1" cy="367.1" r="6.4"/>
<circle cx="994.2" cy="371.1" r="6.4"/>
<circle cx="992.1" cy="377.1" r="6.4"/>
<circle cx="979.4" cy="380.5" r="6.4"/>
<circle cx="956.6" cy="371.1" r="6.4"/>
<circle cx="948.5" cy="363.1" r="6.4"/>
<circle cx="940.5" cy="360.4" r="6.4"/>
<circle cx="962.0" cy="383.2" r="6.4"/>
<circle cx="953.9" cy="393.9" r="6.4"/>
<circle cx="947.2" cy="402.0" r="6.4"/>
<circle cx="964.6" cy="399.3" r="6.4"/>
<circle cx="980.7" cy="396.6" r="6.4"/>
<circle cx="987.4" cy="393.9" r="6.4"/>
<circle cx="988.8" cy="403.3" r="6.4"/>
<circle cx="978.1" cy="410.0" r="6.4"/>
<circle cx="964.6" cy="415.4" r="6.4"/>
<circle cx="953.9" cy="411.3" r="6.4"/>
<circle cx="945.9" cy="410.0" r="6.4"/>
<circle cx="936.5" cy="412.7" r="6.4"/>
<circle cx="975.4" cy="415.4" r="6.4"/>
<circle cx="983.4" cy="407.3" r="6.4"/>
<circle cx="928.4" cy="426.1" r="6.4"/>
<circle cx="927.1" cy="430.1" r="6.4"/>
<circle cx="1307.2" cy="293.1" r="6.4"/>
<circle cx="1307.2" cy="348.1" r="6.4"/>
<circle cx="1307.2" cy="356.8" r="6.4"/>
<circle cx="1247.0" cy="339.4" r="6.4"/>
<circle cx="1154.5" cy="342.9" r="6.4"/>
<circle cx="1119.3" cy="362.9" r="6.4"/>
<circle cx="1131.0" cy="367.3" r="6.4"/>
<circle cx="1131.0" cy="378.3" r="6.4"/>
<circle cx="1098.4" cy="387.0" r="6.4"/>
<circle cx="1106.6" cy="390.5" r="6.4"/>
<circle cx="1113.5" cy="396.1" r="6.4"/>
<circle cx="1124.9" cy="394.3" r="6.4"/>
<circle cx="1122.3" cy="403.0" r="6.4"/>
<circle cx="1122.3" cy="405.6" r="6.4"/>
<circle cx="1147.6" cy="397.8" r="6.4"/>
<circle cx="1174.2" cy="392.9" r="6.4"/>
<circle cx="1196.4" cy="389.4" r="6.4"/>
<circle cx="1196.7" cy="393.4" r="6.4"/>
<circle cx="1212.1" cy="388.2" r="6.4"/>
<circle cx="1223.4" cy="394.0" r="6.4"/>
<circle cx="1234.8" cy="396.1" r="6.4"/>
<circle cx="1247.0" cy="395.7" r="6.4"/>
<circle cx="1240.9" cy="403.0" r="6.4"/>
<circle cx="1260.6" cy="385.6" r="6.4"/>
<circle cx="1267.9" cy="377.7" r="6.4"/>
<circle cx="1275.2" cy="402.7" r="6.4"/>
<circle cx="1201.6" cy="405.1" r="6.4"/>
<circle cx="1217.3" cy="409.7" r="6.4"/>
<circle cx="1229.0" cy="413.2" r="6.4"/>
<circle cx="1223.1" cy="421.3" r="6.4"/>
<circle cx="1240.9" cy="429.7" r="6.4"/>
<circle cx="1109.2" cy="417.9" r="6.4"/>
<circle cx="1110.9" cy="415.2" r="6.4"/>
<circle cx="1124.9" cy="417.3" r="6.4"/>
<circle cx="1095.2" cy="430.9" r="6.4"/>
<circle cx="1151.1" cy="425.7" r="6.4"/>
<circle cx="1161.9" cy="419.6" r="6.4"/>
<circle cx="1170.2" cy="422.2" r="6.4"/>
<circle cx="1170.2" cy="424.8" r="6.4"/>
<circle cx="1187.3" cy="427.1" r="6.4"/>
<circle cx="1122.3" cy="438.8" r="6.4"/>
<circle cx="1131.3" cy="441.8" r="6.4"/>
<circle cx="1137.4" cy="437.6" r="6.4"/>
<circle cx="1201.6" cy="434.1" r="6.4"/>
<circle cx="1223.1" cy="437.9" r="6.4"/>
<circle cx="1212.1" cy="444.0" r="6.4"/>
<circle cx="1223.1" cy="449.3" r="6.4"/>
<circle cx="1247.3" cy="451.5" r="6.4"/>
<circle cx="1254.0" cy="457.1" r="6.4"/>
<circle cx="1234.8" cy="461.1" r="6.4"/>
<circle cx="1247.0" cy="471.4" r="6.4"/>
<circle cx="1100.8" cy="460.6" r="6.4"/>
<circle cx="1108.3" cy="467.6" r="6.4"/>
<circle cx="1122.3" cy="455.7" r="6.4"/>
<circle cx="1124.9" cy="464.1" r="6.4"/>
<circle cx="1229.0" cy="490.2" r="6.4"/>
<circle cx="1187.3" cy="506.5" r="6.4"/>
<circle cx="883.3" cy="444.8" r="6.4"/>
<circle cx="895.1" cy="446.2" r="6.4"/>
<circle cx="923.1" cy="438.9" r="6.4"/>
<circle cx="924.6" cy="428.5" r="6.4"/>
<circle cx="929.0" cy="428.5" r="6.4"/>
<circle cx="918.0" cy="427.0" r="6.4"/>
<circle cx="909.1" cy="425.6" r="6.4"/>
<circle cx="883.3" cy="422.6" r="6.4"/>
<circle cx="887.7" cy="428.5" r="6.4"/>
<circle cx="892.1" cy="434.4" r="6.4"/>
<circle cx="899.5" cy="435.9" r="6.4"/>
<circle cx="994.7" cy="419.0" r="6.4"/>
<circle cx="999.1" cy="421.2" r="6.4"/>
<circle cx="974.8" cy="353.3" r="6.4"/>
<circle cx="980.7" cy="354.8" r="6.4"/>
<circle cx="883.3" cy="357.7" r="6.4"/>
<circle cx="883.3" cy="360.7" r="6.4"/>
<circle cx="901.0" cy="359.2" r="6.4"/>
<circle cx="914.3" cy="358.4" r="6.4"/>
<circle cx="939.4" cy="359.9" r="6.4"/>
<circle cx="985.1" cy="362.1" r="6.4"/>
<circle cx="994.7" cy="369.5" r="6.4"/>
<circle cx="998.4" cy="354.8" r="6.4"/>
<circle cx="890.1" cy="365.5" r="6.4"/>
<circle cx="892.1" cy="401.8" r="6.4"/>
<circle cx="884.8" cy="395.0" r="6.4"/>
<circle cx="888.1" cy="389.9" r="6.4"/>
<circle cx="886.4" cy="392.3" r="6.4"/>
<circle cx="893.4" cy="396.1" r="6.4"/>
<circle cx="882.9" cy="364.9" r="6.4"/>
<circle cx="883.9" cy="383.0" r="6.4"/>
<circle cx="884.4" cy="380.9" r="6.4"/>
<circle cx="890.0" cy="383.0" r="6.4"/>
<circle cx="894.6" cy="396.7" r="6.4"/>
<circle cx="885.3" cy="401.2" r="6.4"/>
<circle cx="883.1" cy="408.1" r="6.4"/>
<circle cx="891.6" cy="378.6" r="6.4"/>
<circle cx="882.8" cy="403.1" r="6.4"/>
<circle cx="887.2" cy="375.5" r="6.4"/>
<circle cx="892.3" cy="383.8" r="6.4"/>
<circle cx="883.6" cy="394.5" r="6.4"/>
<circle cx="884.7" cy="402.5" r="6.4"/>
<circle cx="892.5" cy="394.6" r="6.4"/>
<circle cx="891.1" cy="402.7" r="6.4"/>
<circle cx="885.0" cy="376.4" r="6.4"/>
<circle cx="888.4" cy="372.5" r="6.4"/>
<circle cx="888.0" cy="400.3" r="6.4"/>
<circle cx="885.0" cy="372.5" r="6.4"/>
<circle cx="884.5" cy="367.8" r="6.4"/>
<circle cx="897.6" cy="401.3" r="6.4"/>
<circle cx="884.7" cy="392.9" r="6.4"/>
<circle cx="892.3" cy="410.7" r="6.4"/>
<circle cx="885.6" cy="385.2" r="6.4"/>
<circle cx="897.7" cy="387.8" r="6.4"/>
<circle cx="899.5" cy="399.8" r="6.4"/>
<circle cx="889.8" cy="385.8" r="6.4"/>
<circle cx="887.2" cy="375.4" r="6.4"/>
<circle cx="895.6" cy="384.3" r="6.4"/>
<circle cx="886.8" cy="369.6" r="6.4"/>
<circle cx="891.8" cy="382.7" r="6.4"/>
<circle cx="884.5" cy="387.6" r="6.4"/>
<circle cx="889.6" cy="415.3" r="6.4"/>
<circle cx="883.9" cy="404.4" r="6.4"/>
<circle cx="883.0" cy="413.6" r="6.4"/>
<circle cx="885.8" cy="409.1" r="6.4"/>
<circle cx="883.9" cy="395.4" r="6.4"/>
<circle cx="891.1" cy="392.6" r="6.4"/>
<circle cx="889.8" cy="385.6" r="6.4"/>
<circle cx="883.3" cy="373.5" r="6.4"/>
<circle cx="889.0" cy="377.5" r="6.4"/>
<circle cx="894.8" cy="408.7" r="6.4"/>
<circle cx="898.3" cy="414.1" r="6.4"/>
<circle cx="900.0" cy="401.7" r="6.4"/>
<circle cx="903.0" cy="398.4" r="6.4"/>
<circle cx="883.6" cy="397.1" r="6.4"/>
<circle cx="883.0" cy="404.6" r="6.4"/>
<circle cx="889.8" cy="374.1" r="6.4"/>
<circle cx="895.0" cy="385.3" r="6.4"/>
<circle cx="883.5" cy="384.7" r="6.4"/>
<circle cx="883.5" cy="392.4" r="6.4"/>
<circle cx="885.5" cy="383.9" r="6.4"/>
<circle cx="886.7" cy="401.2" r="6.4"/>
<circle cx="885.1" cy="393.2" r="6.4"/>
<circle cx="891.6" cy="384.9" r="6.4"/>
<circle cx="887.7" cy="399.8" r="6.4"/>
<circle cx="896.1" cy="389.8" r="6.4"/>
<circle cx="886.5" cy="390.0" r="6.4"/>
<circle cx="886.8" cy="393.6" r="6.4"/>
<circle cx="891.3" cy="381.0" r="6.4"/>
<circle cx="888.2" cy="397.0" r="6.4"/>
<circle cx="883.5" cy="415.4" r="6.4"/>
<circle cx="894.8" cy="392.3" r="6.4"/>
<circle cx="884.4" cy="392.5" r="6.4"/>
<circle cx="892.9" cy="393.1" r="6.4"/>
<circle cx="887.5" cy="391.8" r="6.4"/>
<circle cx="887.5" cy="394.2" r="6.4"/>
<circle cx="887.6" cy="384.7" r="6.4"/>
<circle cx="885.8" cy="396.6" r="6.4"/>
<circle cx="903.0" cy="383.9" r="6.4"/>
<circle cx="885.1" cy="396.1" r="6.4"/>
<circle cx="887.6" cy="410.2" r="6.4"/>
<circle cx="883.6" cy="388.8" r="6.4"/>
<circle cx="893.7" cy="388.3" r="6.4"/>
<circle cx="891.2" cy="395.9" r="6.4"/>
<circle cx="885.9" cy="375.6" r="6.4"/>
<circle cx="886.4" cy="372.1" r="6.4"/>
<circle cx="883.4" cy="407.5" r="6.4"/>
<circle cx="898.2" cy="400.1" r="6.4"/>
<circle cx="884.9" cy="393.3" r="6.4"/>
<circle cx="899.0" cy="380.3" r="6.4"/>
<circle cx="897.9" cy="391.9" r="6.4"/>
<circle cx="884.7" cy="377.7" r="6.4"/>
<circle cx="892.6" cy="395.6" r="6.4"/>
<circle cx="892.6" cy="385.3" r="6.4"/>
<circle cx="885.6" cy="383.2" r="6.4"/>
<circle cx="884.0" cy="401.8" r="6.4"/>
<circle cx="892.3" cy="377.3" r="6.4"/>
<circle cx="884.1" cy="372.8" r="6.4"/>
<circle cx="888.9" cy="399.8" r="6.4"/>
<circle cx="883.7" cy="367.7" r="6.4"/>
<circle cx="884.7" cy="397.9" r="6.4"/>
<circle cx="884.3" cy="386.1" r="6.4"/>
<circle cx="895.8" cy="409.7" r="6.4"/>
<circle cx="884.0" cy="397.0" r="6.4"/>
<circle cx="885.6" cy="399.5" r="6.4"/>
<circle cx="888.0" cy="397.7" r="6.4"/>
<circle cx="884.3" cy="401.1" r="6.4"/>
<circle cx="891.9" cy="416.7" r="6.4"/>
<circle cx="883.6" cy="410.3" r="6.4"/>
<circle cx="886.2" cy="413.2" r="6.4"/>
<circle cx="892.1" cy="389.8" r="6.4"/>
<circle cx="886.8" cy="397.7" r="6.4"/>
<circle cx="883.6" cy="408.1" r="6.4"/>
<circle cx="884.4" cy="389.6" r="6.4"/>
<circle cx="886.4" cy="394.0" r="6.4"/>
<circle cx="893.8" cy="387.1" r="6.4"/>
<circle cx="889.8" cy="378.7" r="6.4"/>
<circle cx="887.2" cy="402.3" r="6.4"/>
<circle cx="886.4" cy="404.7" r="6.4"/>
<circle cx="892.3" cy="402.7" r="6.4"/>
<circle cx="888.8" cy="385.0" r="6.4"/>
<circle cx="892.5" cy="384.4" r="6.4"/>
<circle cx="891.8" cy="396.1" r="6.4"/>
<circle cx="897.6" cy="394.8" r="6.4"/>
<circle cx="896.2" cy="373.6" r="6.4"/>
<circle cx="890.8" cy="383.7" r="6.4"/>
<circle cx="885.4" cy="381.7" r="6.4"/>
<circle cx="889.7" cy="402.2" r="6.4"/>
<circle cx="893.5" cy="399.2" r="6.4"/>
<circle cx="891.5" cy="385.8" r="6.4"/>
<circle cx="886.7" cy="385.4" r="6.4"/>
<circle cx="887.1" cy="383.1" r="6.4"/>
<circle cx="890.7" cy="383.5" r="6.4"/>
<circle cx="901.4" cy="399.1" r="6.4"/>
<circle cx="893.3" cy="408.0" r="6.4"/>
<circle cx="883.1" cy="394.1" r="6.4"/>
<circle cx="888.3" cy="403.1" r="6.4"/>
<circle cx="902.6" cy="409.7" r="6.4"/>
<circle cx="887.9" cy="404.6" r="6.4"/>
<circle cx="888.3" cy="401.3" r="6.4"/>
<circle cx="891.6" cy="374.9" r="6.4"/>
<circle cx="895.2" cy="390.7" r="6.4"/>
<circle cx="888.0" cy="367.3" r="6.4"/>
<circle cx="884.5" cy="407.6" r="6.4"/>
<circle cx="890.9" cy="376.1" r="6.4"/>
<circle cx="883.7" cy="404.7" r="6.4"/>
<circle cx="885.9" cy="401.0" r="6.4"/>
<circle cx="886.4" cy="395.3" r="6.4"/>
<circle cx="882.9" cy="381.1" r="6.4"/>
<circle cx="891.2" cy="398.1" r="6.4"/>
<circle cx="885.8" cy="391.2" r="6.4"/>
<circle cx="892.3" cy="400.5" r="6.4"/>
<circle cx="902.5" cy="383.7" r="6.4"/>
<circle cx="894.1" cy="390.6" r="6.4"/>
<circle cx="886.3" cy="393.5" r="6.4"/>
<circle cx="893.3" cy="398.1" r="6.4"/>
<circle cx="894.4" cy="383.0" r="6.4"/>
<circle cx="888.6" cy="381.9" r="6.4"/>
<circle cx="884.6" cy="402.9" r="6.4"/>
<circle cx="889.9" cy="389.5" r="6.4"/>
<circle cx="894.8" cy="397.4" r="6.4"/>
<circle cx="885.2" cy="379.7" r="6.4"/>
<circle cx="888.4" cy="408.1" r="6.4"/>
<circle cx="885.9" cy="408.1" r="6.4"/>
<circle cx="896.1" cy="390.7" r="6.4"/>
<circle cx="884.8" cy="403.6" r="6.4"/>
<circle cx="886.7" cy="392.3" r="6.4"/>
<circle cx="891.8" cy="392.8" r="6.4"/>
<circle cx="885.1" cy="392.3" r="6.4"/>
<circle cx="887.4" cy="402.2" r="6.4"/>
<circle cx="886.7" cy="380.5" r="6.4"/>
<circle cx="886.0" cy="378.6" r="6.4"/>
<circle cx="901.3" cy="394.5" r="6.4"/>
<circle cx="895.1" cy="388.7" r="6.4"/>
<circle cx="899.3" cy="393.4" r="6.4"/>
<circle cx="895.3" cy="385.5" r="6.4"/>
<circle cx="889.8" cy="393.8" r="6.4"/>
<circle cx="904.0" cy="392.2" r="6.4"/>
<circle cx="890.3" cy="392.0" r="6.4"/>
<circle cx="883.9" cy="397.6" r="6.4"/>
<circle cx="884.7" cy="393.8" r="6.4"/>
<circle cx="884.0" cy="381.1" r="6.4"/>
<circle cx="899.2" cy="393.9" r="6.4"/>
<circle cx="898.3" cy="385.0" r="6.4"/>
<circle cx="889.4" cy="395.5" r="6.4"/>
<circle cx="898.5" cy="374.5" r="6.4"/>
<circle cx="893.7" cy="396.2" r="6.4"/>
<circle cx="891.1" cy="385.2" r="6.4"/>
<circle cx="888.1" cy="391.3" r="6.4"/>
<circle cx="897.8" cy="379.1" r="6.4"/>
<circle cx="888.5" cy="391.2" r="6.4"/>
<circle cx="883.9" cy="400.7" r="6.4"/>
<circle cx="887.6" cy="404.6" r="6.4"/>
<circle cx="883.9" cy="396.8" r="6.4"/>
<circle cx="887.5" cy="377.1" r="6.4"/>
<circle cx="896.7" cy="392.2" r="6.4"/>
<circle cx="882.8" cy="399.3" r="6.4"/>
<circle cx="888.6" cy="380.7" r="6.4"/>
<circle cx="890.5" cy="398.3" r="6.4"/>
<circle cx="886.6" cy="382.2" r="6.4"/>
<circle cx="883.3" cy="380.9" r="6.4"/>
<circle cx="883.0" cy="379.1" r="6.4"/>
<circle cx="889.4" cy="380.6" r="6.4"/>
<circle cx="911.9" cy="363.6" r="6.4"/>
<circle cx="935.3" cy="376.1" r="6.4"/>
<circle cx="932.3" cy="390.0" r="6.4"/>
<circle cx="901.2" cy="387.4" r="6.4"/>
<circle cx="912.2" cy="373.1" r="6.4"/>
<circle cx="931.0" cy="381.2" r="6.4"/>
<circle cx="918.9" cy="402.0" r="6.4"/>
<circle cx="927.7" cy="394.4" r="6.4"/>
<circle cx="915.2" cy="404.5" r="6.4"/>
<circle cx="919.9" cy="396.0" r="6.4"/>
<circle cx="929.8" cy="381.4" r="6.4"/>
<circle cx="914.5" cy="380.7" r="6.4"/>
<circle cx="918.2" cy="390.8" r="6.4"/>
<circle cx="935.1" cy="378.0" r="6.4"/>
<circle cx="911.9" cy="372.0" r="6.4"/>
<circle cx="911.4" cy="385.7" r="6.4"/>
<circle cx="922.9" cy="407.5" r="6.4"/>
<circle cx="928.2" cy="411.2" r="6.4"/>
<circle cx="931.9" cy="396.2" r="6.4"/>
<circle cx="919.6" cy="401.5" r="6.4"/>
<circle cx="900.2" cy="394.4" r="6.4"/>
<circle cx="906.8" cy="406.7" r="6.4"/>
<circle cx="923.7" cy="382.6" r="6.4"/>
<circle cx="928.4" cy="406.1" r="6.4"/>
<circle cx="922.2" cy="381.4" r="6.4"/>
<circle cx="922.6" cy="385.2" r="6.4"/>
<circle cx="924.5" cy="374.5" r="6.4"/>
<circle cx="907.7" cy="383.8" r="6.4"/>
<circle cx="927.5" cy="378.5" r="6.4"/>
<circle cx="903.6" cy="392.5" r="6.4"/>
<circle cx="927.9" cy="394.2" r="6.4"/>
<circle cx="932.9" cy="384.0" r="6.4"/>
<circle cx="929.6" cy="380.7" r="6.4"/>
<circle cx="928.3" cy="381.7" r="6.4"/>
<circle cx="910.9" cy="387.2" r="6.4"/>
<circle cx="915.2" cy="385.2" r="6.4"/>
<circle cx="923.1" cy="403.5" r="6.4"/>
<circle cx="933.6" cy="406.9" r="6.4"/>
<circle cx="901.4" cy="396.7" r="6.4"/>
<circle cx="904.3" cy="397.3" r="6.4"/>
<circle cx="933.1" cy="375.2" r="6.4"/>
<circle cx="916.1" cy="403.8" r="6.4"/>
<circle cx="921.3" cy="392.1" r="6.4"/>
<circle cx="933.8" cy="405.7" r="6.4"/>
<circle cx="914.8" cy="389.2" r="6.4"/>
<circle cx="903.7" cy="385.5" r="6.4"/>
<circle cx="905.5" cy="383.9" r="6.4"/>
<circle cx="900.6" cy="410.7" r="6.4"/>
<circle cx="904.4" cy="391.6" r="6.4"/>
<circle cx="934.8" cy="413.3" r="6.4"/>
<circle cx="904.6" cy="404.8" r="6.4"/>
<circle cx="900.6" cy="389.1" r="6.4"/>
<circle cx="926.4" cy="381.5" r="6.4"/>
<circle cx="906.7" cy="412.3" r="6.4"/>
<circle cx="925.7" cy="397.9" r="6.4"/>
<circle cx="930.8" cy="390.3" r="6.4"/>
<circle cx="922.6" cy="385.6" r="6.4"/>
<circle cx="925.5" cy="361.7" r="6.4"/>
<circle cx="909.1" cy="398.4" r="6.4"/>
<circle cx="934.7" cy="390.6" r="6.4"/>
<circle cx="900.5" cy="389.1" r="6.4"/>
<circle cx="923.4" cy="393.2" r="6.4"/>
<circle cx="911.2" cy="386.2" r="6.4"/>
<circle cx="926.3" cy="404.0" r="6.4"/>
<circle cx="917.5" cy="413.3" r="6.4"/>
<circle cx="902.2" cy="379.5" r="6.4"/>
<circle cx="915.8" cy="403.6" r="6.4"/>
<circle cx="924.4" cy="405.2" r="6.4"/>
<circle cx="913.1" cy="409.3" r="6.4"/>
<circle cx="923.2" cy="381.7" r="6.4"/>
<circle cx="913.9" cy="381.2" r="6.4"/>
<circle cx="928.3" cy="412.4" r="6.4"/>
<circle cx="920.4" cy="383.3" r="6.4"/>
<circle cx="925.3" cy="404.1" r="6.4"/>
<circle cx="929.8" cy="382.3" r="6.4"/>
<circle cx="935.2" cy="406.4" r="6.4"/>
<circle cx="929.9" cy="382.0" r="6.4"/>
<circle cx="915.4" cy="384.4" r="6.4"/>
<circle cx="932.0" cy="376.9" r="6.4"/>
<circle cx="921.7" cy="404.8" r="6.4"/>
<circle cx="932.3" cy="394.7" r="6.4"/>
<circle cx="900.1" cy="381.1" r="6.4"/>
<circle cx="909.5" cy="375.7" r="6.4"/>
<circle cx="929.4" cy="399.1" r="6.4"/>
<circle cx="931.9" cy="414.7" r="6.4"/>
<circle cx="929.2" cy="397.5" r="6.4"/>
<circle cx="931.2" cy="381.6" r="6.4"/>
<circle cx="930.6" cy="386.5" r="6.4"/>
<circle cx="929.1" cy="379.5" r="6.4"/>
<circle cx="912.5" cy="364.6" r="6.4"/>
<circle cx="939.2" cy="364.7" r="6.4"/>
<circle cx="946.2" cy="381.1" r="6.4"/>
<circle cx="979.8" cy="400.0" r="6.4"/>
<circle cx="971.0" cy="385.4" r="6.4"/>
<circle cx="975.3" cy="380.0" r="6.4"/>
<circle cx="949.5" cy="392.2" r="6.4"/>
<circle cx="979.8" cy="394.3" r="6.4"/>
<circle cx="939.3" cy="373.9" r="6.4"/>
<circle cx="983.2" cy="391.5" r="6.4"/>
<circle cx="969.4" cy="379.2" r="6.4"/>
<circle cx="988.7" cy="403.7" r="6.4"/>
<circle cx="963.1" cy="378.0" r="6.4"/>
<circle cx="969.9" cy="393.7" r="6.4"/>
<circle cx="945.0" cy="399.1" r="6.4"/>
<circle cx="976.8" cy="377.4" r="6.4"/>
<circle cx="958.6" cy="404.7" r="6.4"/>
<circle cx="965.6" cy="392.7" r="6.4"/>
<circle cx="994.8" cy="393.6" r="6.4"/>
<circle cx="956.8" cy="406.7" r="6.4"/>
<circle cx="982.0" cy="403.1" r="6.4"/>
<circle cx="943.5" cy="378.7" r="6.4"/>
<circle cx="965.7" cy="382.1" r="6.4"/>
<circle cx="986.8" cy="399.6" r="6.4"/>
<circle cx="963.7" cy="379.3" r="6.4"/>
<circle cx="981.5" cy="385.2" r="6.4"/>
<circle cx="960.0" cy="414.2" r="6.4"/>
<circle cx="983.9" cy="381.6" r="6.4"/>
<circle cx="992.8" cy="389.9" r="6.4"/>
<circle cx="946.3" cy="394.2" r="6.4"/>
<circle cx="945.0" cy="394.2" r="6.4"/>
<circle cx="968.0" cy="392.4" r="6.4"/>
<circle cx="989.5" cy="399.4" r="6.4"/>
<circle cx="937.9" cy="377.7" r="6.4"/>
<circle cx="941.3" cy="381.3" r="6.4"/>
<circle cx="992.5" cy="389.1" r="6.4"/>
<circle cx="973.1" cy="409.3" r="6.4"/>
<circle cx="992.3" cy="382.8" r="6.4"/>
<circle cx="961.3" cy="376.9" r="6.4"/>
<circle cx="947.5" cy="380.1" r="6.4"/>
<circle cx="936.4" cy="389.5" r="6.4"/>
<circle cx="989.1" cy="404.0" r="6.4"/>
<circle cx="989.2" cy="392.4" r="6.4"/>
<circle cx="982.0" cy="386.0" r="6.4"/>
<circle cx="977.3" cy="363.6" r="6.4"/>
<circle cx="942.8" cy="391.1" r="6.4"/>
<circle cx="952.2" cy="368.8" r="6.4"/>
<circle cx="940.4" cy="376.3" r="6.4"/>
<circle cx="953.8" cy="389.7" r="6.4"/>
<circle cx="963.4" cy="397.7" r="6.4"/>
<circle cx="944.3" cy="390.6" r="6.4"/>
<circle cx="975.3" cy="398.3" r="6.4"/>
<circle cx="934.8" cy="388.0" r="6.4"/>
<circle cx="936.2" cy="380.3" r="6.4"/>
<circle cx="990.6" cy="396.4" r="6.4"/>
<circle cx="988.2" cy="400.4" r="6.4"/>
<circle cx="939.9" cy="402.6" r="6.4"/>
<circle cx="990.7" cy="401.6" r="6.4"/>
<circle cx="961.6" cy="372.3" r="6.4"/>
<circle cx="954.7" cy="397.6" r="6.4"/>
<circle cx="972.3" cy="374.7" r="6.4"/>
<circle cx="942.7" cy="390.9" r="6.4"/>
<circle cx="977.5" cy="395.0" r="6.4"/>
<circle cx="967.8" cy="408.6" r="6.4"/>
<circle cx="950.3" cy="413.9" r="6.4"/>
<circle cx="959.1" cy="396.7" r="6.4"/>
<circle cx="985.2" cy="399.9" r="6.4"/>
<circle cx="954.4" cy="398.6" r="6.4"/>
<circle cx="953.4" cy="405.2" r="6.4"/>
<circle cx="937.5" cy="417.3" r="6.4"/>
<circle cx="988.6" cy="384.9" r="6.4"/>
<circle cx="963.1" cy="381.0" r="6.4"/>
<circle cx="951.5" cy="389.5" r="6.4"/>
<circle cx="956.2" cy="400.1" r="6.4"/>
<circle cx="940.0" cy="389.6" r="6.4"/>
<circle cx="951.7" cy="394.1" r="6.4"/>
<circle cx="1003.2" cy="400.1" r="6.4"/>
<circle cx="1010.7" cy="402.6" r="6.4"/>
<circle cx="1018.2" cy="405.1" r="6.4"/>
<circle cx="1013.2" cy="410.2" r="6.4"/>
<circle cx="1025.7" cy="402.6" r="6.4"/>
<circle cx="1008.2" cy="420.2" r="6.4"/>
<circle cx="1018.2" cy="422.7" r="6.4"/>
<circle cx="1020.7" cy="427.7" r="6.4"/>
<circle cx="1003.2" cy="417.7" r="6.4"/>
<circle cx="998.2" cy="420.2" r="6.4"/>
<circle cx="1014.4" cy="400.1" r="6.4"/>
<circle cx="1028.2" cy="412.7" r="6.4"/>
<circle cx="1060.7" cy="430.2" r="6.4"/>
<circle cx="1062.0" cy="427.7" r="6.4"/>
</g>
<g fill="none" stroke="#f00" stroke-width="1.45">
<circle cx="1552.0" cy="320.8" r="6.4"/>
<circle cx="1536.2" cy="330.2" r="6.4"/>
<circle cx="1535.5" cy="332.9" r="6.4"/>
<circle cx="1543.6" cy="341.6" r="6.4"/>
<circle cx="1528.2" cy="346.9" r="6.4"/>
<circle cx="1525.5" cy="347.6" r="6.4"/>
<circle cx="1619.4" cy="338.2" r="6.4"/>
<circle cx="1613.3" cy="352.3" r="6.4"/>
<circle cx="1558.6" cy="347.6" r="6.4"/>
<circle cx="1536.2" cy="358.3" r="6.4"/>
<circle cx="1628.1" cy="361.0" r="6.4"/>
<circle cx="1641.9" cy="369.1" r="6.4"/>
<circle cx="1656.2" cy="369.7" r="6.4"/>
<circle cx="1663.0" cy="370.4" r="6.4"/>
<circle cx="1668.3" cy="361.0" r="6.4"/>
<circle cx="1685.8" cy="361.7" r="6.4"/>
<circle cx="1682.4" cy="371.1" r="6.4"/>
<circle cx="1699.8" cy="375.1" r="6.4"/>
<circle cx="1709.9" cy="373.8" r="6.4"/>
<circle cx="1738.7" cy="377.1" r="6.4"/>
<circle cx="1609.3" cy="370.4" r="6.4"/>
<circle cx="1593.9" cy="367.1" r="6.4"/>
<circle cx="1588.5" cy="367.1" r="6.4"/>
<circle cx="1577.8" cy="361.7" r="6.4"/>
<circle cx="1569.7" cy="357.0" r="6.4"/>
<circle cx="1526.2" cy="481.1" r="6.4"/>
<circle cx="1548.3" cy="473.0" r="6.4"/>
<circle cx="1726.7" cy="444.8" r="6.4"/>
<circle cx="1540.2" cy="455.6" r="6.4"/>
<circle cx="1531.5" cy="450.2" r="6.4"/>
<circle cx="1537.6" cy="445.5" r="6.4"/>
<circle cx="1528.2" cy="445.5" r="6.4"/>
<circle cx="1553.0" cy="430.1" r="6.4"/>
<circle cx="1530.8" cy="432.1" r="6.4"/>
<circle cx="1602.9" cy="436.8" r="6.4"/>
<circle cx="1608.6" cy="429.4" r="6.4"/>
<circle cx="1593.9" cy="428.8" r="6.4"/>
<circle cx="1593.2" cy="424.1" r="6.4"/>
<circle cx="1611.3" cy="419.4" r="6.4"/>
<circle cx="1627.4" cy="422.0" r="6.4"/>
<circle cx="1632.1" cy="419.4" r="6.4"/>
<circle cx="1645.9" cy="424.1" r="6.4"/>
<circle cx="1659.6" cy="416.0" r="6.4"/>
<circle cx="1675.0" cy="413.3" r="6.4"/>
<circle cx="1686.4" cy="422.0" r="6.4"/>
<circle cx="1690.5" cy="430.8" r="6.4"/>
<circle cx="1692.5" cy="435.5" r="6.4"/>
<circle cx="1697.2" cy="425.4" r="6.4"/>
<circle cx="1707.2" cy="421.4" r="6.4"/>
<circle cx="1719.3" cy="422.7" r="6.4"/>
<circle cx="1696.5" cy="420.0" r="6.4"/>
<circle cx="1741.4" cy="381.8" r="6.4"/>
<circle cx="1583.2" cy="383.2" r="6.4"/>
<circle cx="1593.9" cy="385.8" r="6.4"/>
<circle cx="1599.2" cy="392.5" r="6.4"/>
<circle cx="1604.6" cy="396.6" r="6.4"/>
<circle cx="1587.2" cy="396.6" r="6.4"/>
<circle cx="1610.0" cy="387.2" r="6.4"/>
<circle cx="1618.0" cy="380.5" r="6.4"/>
<circle cx="1623.4" cy="375.1" r="6.4"/>
<circle cx="1620.7" cy="391.2" r="6.4"/>
<circle cx="1615.3" cy="400.6" r="6.4"/>
<circle cx="1619.4" cy="406.0" r="6.4"/>
<circle cx="1628.8" cy="388.5" r="6.4"/>
<circle cx="1634.1" cy="385.8" r="6.4"/>
<circle cx="1638.1" cy="393.9" r="6.4"/>
<circle cx="1642.2" cy="387.2" r="6.4"/>
<circle cx="1647.5" cy="384.5" r="6.4"/>
<circle cx="1634.1" cy="401.9" r="6.4"/>
<circle cx="1640.8" cy="407.3" r="6.4"/>
<circle cx="1650.2" cy="396.6" r="6.4"/>
<circle cx="1654.2" cy="406.0" r="6.4"/>
<circle cx="1660.9" cy="407.3" r="6.4"/>
<circle cx="1667.7" cy="404.6" r="6.4"/>
<circle cx="1671.7" cy="385.8" r="6.4"/>
<circle cx="1678.4" cy="383.2" r="6.4"/>
<circle cx="1674.4" cy="393.9" r="6.4"/>
<circle cx="1687.8" cy="380.5" r="6.4"/>
<circle cx="1693.1" cy="377.8" r="6.4"/>
<circle cx="1690.5" cy="393.9" r="6.4"/>
<circle cx="1689.1" cy="401.9" r="6.4"/>
<circle cx="1694.5" cy="399.2" r="6.4"/>
<circle cx="1698.5" cy="392.5" r="6.4"/>
<circle cx="1705.2" cy="391.2" r="6.4"/>
<circle cx="1711.9" cy="392.5" r="6.4"/>
<circle cx="1717.3" cy="388.5" r="6.4"/>
<circle cx="1728.0" cy="393.9" r="6.4"/>
<circle cx="1730.7" cy="401.9" r="6.4"/>
<circle cx="1582.5" cy="411.3" r="6.4"/>
<circle cx="1593.9" cy="407.3" r="6.4"/>
<circle cx="1707.9" cy="411.3" r="6.4"/>
<circle cx="1863.0" cy="346.0" r="6.4"/>
<circle cx="1809.1" cy="369.5" r="6.4"/>
<circle cx="1808.1" cy="379.5" r="6.4"/>
<circle cx="1965.3" cy="361.0" r="6.4"/>
<circle cx="1970.7" cy="362.8" r="6.4"/>
<circle cx="1778.5" cy="373.8" r="6.4"/>
<circle cx="1758.8" cy="377.1" r="6.4"/>
<circle cx="1763.9" cy="378.5" r="6.4"/>
<circle cx="1744.0" cy="381.8" r="6.4"/>
<circle cx="1753.4" cy="385.8" r="6.4"/>
<circle cx="1748.0" cy="391.2" r="6.4"/>
<circle cx="1773.5" cy="386.5" r="6.4"/>
<circle cx="1781.6" cy="383.2" r="6.4"/>
<circle cx="1782.9" cy="387.2" r="6.4"/>
<circle cx="1791.0" cy="388.5" r="6.4"/>
<circle cx="1792.3" cy="391.2" r="6.4"/>
<circle cx="1789.6" cy="392.5" r="6.4"/>
<circle cx="1793.0" cy="389.9" r="6.4"/>
<circle cx="1762.8" cy="396.6" r="6.4"/>
<circle cx="1766.8" cy="399.2" r="6.4"/>
<circle cx="1760.1" cy="403.3" r="6.4"/>
<circle cx="1770.8" cy="403.9" r="6.4"/>
<circle cx="1774.9" cy="401.9" r="6.4"/>
<circle cx="1780.2" cy="397.9" r="6.4"/>
<circle cx="1785.6" cy="406.0" r="6.4"/>
<circle cx="1744.0" cy="407.3" r="6.4"/>
<circle cx="1750.7" cy="413.3" r="6.4"/>
<circle cx="1764.1" cy="412.7" r="6.4"/>
<circle cx="1772.2" cy="414.0" r="6.4"/>
<circle cx="1782.9" cy="414.0" r="6.4"/>
<circle cx="1764.8" cy="409.3" r="6.4"/>
<circle cx="1756.1" cy="404.6" r="6.4"/>
<circle cx="1829.9" cy="369.7" r="6.4"/>
<circle cx="1831.2" cy="376.4" r="6.4"/>
<circle cx="1827.8" cy="380.5" r="6.4"/>
<circle cx="1825.8" cy="387.2" r="6.4"/>
<circle cx="1829.9" cy="391.2" r="6.4"/>
<circle cx="1828.5" cy="393.9" r="6.4"/>
<circle cx="1819.1" cy="401.9" r="6.4"/>
<circle cx="1813.1" cy="408.0" r="6.4"/>
<circle cx="1824.5" cy="409.3" r="6.4"/>
<circle cx="1827.8" cy="403.9" r="6.4"/>
<circle cx="1835.9" cy="418.0" r="6.4"/>
<circle cx="1801.0" cy="425.4" r="6.4"/>
<circle cx="1755.8" cy="432.8" r="6.4"/>
<circle cx="1747.4" cy="456.2" r="6.4"/>
<circle cx="1843.9" cy="384.5" r="6.4"/>
<circle cx="1847.3" cy="388.5" r="6.4"/>
<circle cx="1854.0" cy="385.2" r="6.4"/>
<circle cx="1847.3" cy="396.6" r="6.4"/>
<circle cx="1850.0" cy="401.9" r="6.4"/>
<circle cx="1856.0" cy="401.9" r="6.4"/>
<circle cx="1854.0" cy="408.6" r="6.4"/>
<circle cx="1858.0" cy="406.0" r="6.4"/>
<circle cx="1860.7" cy="403.3" r="6.4"/>
<circle cx="1864.7" cy="373.1" r="6.4"/>
<circle cx="1862.0" cy="377.8" r="6.4"/>
<circle cx="1873.4" cy="389.2" r="6.4"/>
<circle cx="1878.8" cy="377.8" r="6.4"/>
<circle cx="1888.2" cy="378.5" r="6.4"/>
<circle cx="1896.9" cy="372.4" r="6.4"/>
<circle cx="1900.3" cy="379.8" r="6.4"/>
<circle cx="1898.3" cy="383.2" r="6.4"/>
<circle cx="1886.9" cy="389.9" r="6.4"/>
<circle cx="1874.1" cy="398.6" r="6.4"/>
<circle cx="1881.5" cy="398.6" r="6.4"/>
<circle cx="1895.6" cy="399.2" r="6.4"/>
<circle cx="1905.0" cy="398.6" r="6.4"/>
<circle cx="1898.9" cy="407.3" r="6.4"/>
<circle cx="1900.3" cy="410.0" r="6.4"/>
<circle cx="1900.9" cy="406.0" r="6.4"/>
<circle cx="1908.3" cy="421.4" r="6.4"/>
<circle cx="1913.7" cy="443.5" r="6.4"/>
<circle cx="1915.7" cy="412.0" r="6.4"/>
<circle cx="1918.4" cy="401.9" r="6.4"/>
<circle cx="1917.0" cy="393.9" r="6.4"/>
<circle cx="1927.1" cy="391.9" r="6.4"/>
<circle cx="1929.1" cy="395.2" r="6.4"/>
<circle cx="1917.0" cy="377.1" r="6.4"/>
<circle cx="1924.4" cy="369.7" r="6.4"/>
<circle cx="1928.4" cy="365.7" r="6.4"/>
<circle cx="1932.5" cy="372.4" r="6.4"/>
<circle cx="1935.8" cy="404.6" r="6.4"/>
<circle cx="1947.2" cy="376.4" r="6.4"/>
<circle cx="1947.9" cy="383.2" r="6.4"/>
<circle cx="1949.2" cy="387.2" r="6.4"/>
<circle cx="1949.9" cy="391.2" r="6.4"/>
<circle cx="1957.3" cy="374.4" r="6.4"/>
<circle cx="1970.0" cy="386.5" r="6.4"/>
<circle cx="1962.6" cy="397.2" r="6.4"/>
<circle cx="1948.6" cy="407.3" r="6.4"/>
<circle cx="1954.6" cy="407.3" r="6.4"/>
<circle cx="1961.3" cy="412.0" r="6.4"/>
<circle cx="1966.7" cy="414.0" r="6.4"/>
<circle cx="1970.0" cy="410.6" r="6.4"/>
<circle cx="1560.5" cy="402.9" r="6.4"/>
<circle cx="1537.6" cy="406.8" r="6.4"/>
<circle cx="1564.8" cy="404.8" r="6.4"/>
<circle cx="1540.1" cy="405.4" r="6.4"/>
<circle cx="1566.1" cy="405.5" r="6.4"/>
<circle cx="1549.9" cy="409.2" r="6.4"/>
<circle cx="1570.3" cy="414.8" r="6.4"/>
<circle cx="1533.6" cy="400.1" r="6.4"/>
<circle cx="1531.5" cy="402.6" r="6.4"/>
<circle cx="1562.8" cy="403.4" r="6.4"/>
<circle cx="1526.2" cy="398.6" r="6.4"/>
<circle cx="1526.6" cy="395.9" r="6.4"/>
<circle cx="1536.5" cy="397.6" r="6.4"/>
<circle cx="1532.9" cy="393.1" r="6.4"/>
<circle cx="1565.0" cy="394.8" r="6.4"/>
<circle cx="1552.9" cy="406.1" r="6.4"/>
<circle cx="1560.8" cy="408.5" r="6.4"/>
<circle cx="1543.6" cy="404.4" r="6.4"/>
<circle cx="1565.0" cy="401.7" r="6.4"/>
<circle cx="1539.8" cy="415.9" r="6.4"/>
<circle cx="1548.1" cy="388.2" r="6.4"/>
<circle cx="1522.8" cy="414.6" r="6.4"/>
<circle cx="1568.2" cy="398.9" r="6.4"/>
<circle cx="1536.1" cy="412.4" r="6.4"/>
<circle cx="1541.5" cy="422.4" r="6.4"/>
<circle cx="1530.7" cy="395.7" r="6.4"/>
<circle cx="1522.2" cy="414.7" r="6.4"/>
<circle cx="1549.6" cy="393.7" r="6.4"/>
<circle cx="1528.4" cy="409.0" r="6.4"/>
<circle cx="1559.9" cy="413.1" r="6.4"/>
<circle cx="1539.0" cy="386.7" r="6.4"/>
<circle cx="1559.7" cy="392.7" r="6.4"/>
<circle cx="1525.2" cy="416.3" r="6.4"/>
<circle cx="1568.3" cy="416.2" r="6.4"/>
<circle cx="1549.2" cy="401.7" r="6.4"/>
<circle cx="1550.1" cy="403.0" r="6.4"/>
<circle cx="1573.3" cy="404.5" r="6.4"/>
<circle cx="1533.9" cy="406.9" r="6.4"/>
<circle cx="1535.3" cy="409.2" r="6.4"/>
<circle cx="1565.3" cy="409.4" r="6.4"/>
<circle cx="1559.0" cy="405.8" r="6.4"/>
<circle cx="1532.3" cy="418.4" r="6.4"/>
<circle cx="1552.6" cy="406.5" r="6.4"/>
<circle cx="1549.7" cy="403.6" r="6.4"/>
<circle cx="1568.1" cy="400.5" r="6.4"/>
<circle cx="1560.0" cy="409.9" r="6.4"/>
<circle cx="1548.2" cy="406.4" r="6.4"/>
<circle cx="1548.5" cy="404.1" r="6.4"/>
<circle cx="1543.5" cy="410.0" r="6.4"/>
<circle cx="1529.3" cy="388.3" r="6.4"/>
<circle cx="1529.8" cy="394.2" r="6.4"/>
<circle cx="1552.4" cy="404.9" r="6.4"/>
<circle cx="1565.8" cy="399.0" r="6.4"/>
<circle cx="1571.7" cy="397.0" r="6.4"/>
<circle cx="1566.5" cy="411.7" r="6.4"/>
<circle cx="1549.9" cy="386.1" r="6.4"/>
<circle cx="1563.2" cy="419.5" r="6.4"/>
<circle cx="1539.9" cy="405.5" r="6.4"/>
<circle cx="1545.1" cy="414.0" r="6.4"/>
<circle cx="1574.0" cy="412.4" r="6.4"/>
<circle cx="1566.9" cy="416.4" r="6.4"/>
<circle cx="1572.8" cy="409.0" r="6.4"/>
<circle cx="1571.5" cy="405.0" r="6.4"/>
<circle cx="1555.5" cy="415.5" r="6.4"/>
<circle cx="1541.3" cy="401.3" r="6.4"/>
<circle cx="1545.0" cy="404.3" r="6.4"/>
<circle cx="1548.8" cy="410.4" r="6.4"/>
<circle cx="1573.4" cy="405.7" r="6.4"/>
<circle cx="1563.2" cy="418.1" r="6.4"/>
<circle cx="1564.9" cy="399.5" r="6.4"/>
<circle cx="1568.9" cy="407.0" r="6.4"/>
<circle cx="1556.0" cy="403.2" r="6.4"/>
<circle cx="1545.5" cy="374.5" r="6.4"/>
<circle cx="1558.5" cy="370.8" r="6.4"/>
<circle cx="1576.4" cy="372.5" r="6.4"/>
<circle cx="1557.5" cy="372.8" r="6.4"/>
<circle cx="1553.4" cy="385.8" r="6.4"/>
<circle cx="1547.4" cy="375.5" r="6.4"/>
<circle cx="1563.4" cy="387.8" r="6.4"/>
<circle cx="1577.9" cy="387.2" r="6.4"/>
<circle cx="1557.1" cy="376.7" r="6.4"/>
<circle cx="1558.1" cy="389.1" r="6.4"/>
<circle cx="1540.0" cy="381.8" r="6.4"/>
<circle cx="1546.8" cy="381.7" r="6.4"/>
<circle cx="1552.1" cy="376.2" r="6.4"/>
<circle cx="1537.1" cy="385.3" r="6.4"/>
<circle cx="1558.7" cy="385.3" r="6.4"/>
<circle cx="1559.8" cy="366.4" r="6.4"/>
<circle cx="1563.6" cy="382.8" r="6.4"/>
<circle cx="1554.7" cy="393.0" r="6.4"/>
<circle cx="1558.8" cy="369.5" r="6.4"/>
<circle cx="1547.6" cy="370.7" r="6.4"/>
<circle cx="1544.4" cy="380.1" r="6.4"/>
<circle cx="1551.0" cy="389.8" r="6.4"/>
<circle cx="1560.5" cy="387.3" r="6.4"/>
<circle cx="1573.5" cy="378.7" r="6.4"/>
<circle cx="1544.2" cy="367.1" r="6.4"/>
<circle cx="1546.4" cy="373.9" r="6.4"/>
<circle cx="1579.4" cy="373.1" r="6.4"/>
<circle cx="1540.5" cy="394.5" r="6.4"/>
<circle cx="1536.1" cy="385.4" r="6.4"/>
<circle cx="1535.9" cy="370.2" r="6.4"/>
<circle cx="1551.2" cy="362.8" r="6.4"/>
<circle cx="1538.1" cy="384.0" r="6.4"/>
<circle cx="1543.6" cy="393.8" r="6.4"/>
<circle cx="1540.3" cy="373.9" r="6.4"/>
<circle cx="1548.8" cy="369.0" r="6.4"/>
<circle cx="1562.0" cy="390.0" r="6.4"/>
<circle cx="1572.9" cy="383.2" r="6.4"/>
<circle cx="1567.7" cy="367.1" r="6.4"/>
<circle cx="1567.9" cy="378.7" r="6.4"/>
<circle cx="1569.9" cy="366.7" r="6.4"/>
<circle cx="1566.3" cy="382.5" r="6.4"/>
<circle cx="1573.9" cy="375.3" r="6.4"/>
<circle cx="1533.2" cy="379.3" r="6.4"/>
<circle cx="1556.4" cy="364.8" r="6.4"/>
<circle cx="1578.2" cy="368.6" r="6.4"/>
<circle cx="1528.8" cy="431.5" r="6.4"/>
<circle cx="1533.5" cy="438.0" r="6.4"/>
<circle cx="1538.2" cy="442.7" r="6.4"/>
<circle cx="1530.7" cy="448.4" r="6.4"/>
<circle cx="1536.3" cy="452.1" r="6.4"/>
<circle cx="1541.0" cy="455.9" r="6.4"/>
<circle cx="1526.9" cy="429.6" r="6.4"/>
<circle cx="1532.5" cy="442.7" r="6.4"/>
<circle cx="1528.8" cy="445.6" r="6.4"/>
<circle cx="1535.4" cy="446.5" r="6.4"/>
<circle cx="1525.0" cy="433.3" r="6.4"/>
<circle cx="1538.2" cy="428.6" r="6.4"/>
<circle cx="1542.9" cy="438.0" r="6.4"/>
<circle cx="1533.5" cy="456.8" r="6.4"/>
<circle cx="1526.0" cy="346.9" r="6.4"/>
<circle cx="1529.7" cy="346.9" r="6.4"/>
<circle cx="1533.5" cy="358.2" r="6.4"/>
<circle cx="1538.2" cy="358.2" r="6.4"/>
<circle cx="1525.0" cy="369.5" r="6.4"/>
<circle cx="1528.8" cy="374.2" r="6.4"/>
<circle cx="1522.2" cy="382.6" r="6.4"/>
<circle cx="1525.0" cy="388.2" r="6.4"/>
<circle cx="1706.5" cy="393.4" r="6.4"/>
<circle cx="1721.1" cy="390.9" r="6.4"/>
<circle cx="1652.2" cy="392.1" r="6.4"/>
<circle cx="1653.1" cy="395.9" r="6.4"/>
<circle cx="1642.1" cy="390.4" r="6.4"/>
<circle cx="1669.1" cy="391.7" r="6.4"/>
<circle cx="1707.1" cy="401.7" r="6.4"/>
<circle cx="1717.3" cy="388.3" r="6.4"/>
<circle cx="1608.2" cy="397.0" r="6.4"/>
<circle cx="1627.9" cy="403.4" r="6.4"/>
<circle cx="1673.4" cy="405.3" r="6.4"/>
<circle cx="1592.4" cy="403.2" r="6.4"/>
<circle cx="1716.3" cy="393.6" r="6.4"/>
<circle cx="1715.5" cy="402.2" r="6.4"/>
<circle cx="1647.9" cy="395.6" r="6.4"/>
<circle cx="1727.3" cy="399.5" r="6.4"/>
<circle cx="1670.6" cy="397.2" r="6.4"/>
<circle cx="1659.6" cy="409.1" r="6.4"/>
<circle cx="1666.3" cy="390.4" r="6.4"/>
<circle cx="1741.7" cy="387.4" r="6.4"/>
<circle cx="1690.4" cy="395.9" r="6.4"/>
<circle cx="1641.9" cy="390.3" r="6.4"/>
<circle cx="1635.6" cy="405.4" r="6.4"/>
<circle cx="1733.5" cy="392.6" r="6.4"/>
<circle cx="1594.2" cy="388.3" r="6.4"/>
<circle cx="1639.4" cy="388.7" r="6.4"/>
<circle cx="1672.1" cy="403.0" r="6.4"/>
<circle cx="1722.3" cy="406.0" r="6.4"/>
<circle cx="1650.2" cy="395.0" r="6.4"/>
<circle cx="1680.4" cy="404.3" r="6.4"/>
<circle cx="1664.9" cy="396.8" r="6.4"/>
<circle cx="1711.8" cy="400.3" r="6.4"/>
<circle cx="1738.5" cy="403.1" r="6.4"/>
<circle cx="1713.5" cy="393.1" r="6.4"/>
<circle cx="1724.7" cy="396.7" r="6.4"/>
<circle cx="1691.1" cy="407.4" r="6.4"/>
<circle cx="1647.0" cy="400.7" r="6.4"/>
<circle cx="1661.9" cy="402.5" r="6.4"/>
<circle cx="1660.8" cy="398.9" r="6.4"/>
<circle cx="1681.3" cy="401.7" r="6.4"/>
<circle cx="1712.7" cy="380.7" r="6.4"/>
<circle cx="1589.3" cy="384.5" r="6.4"/>
<circle cx="1647.5" cy="406.4" r="6.4"/>
<circle cx="1732.0" cy="405.7" r="6.4"/>
<circle cx="1765.3" cy="398.2" r="6.4"/>
<circle cx="1709.0" cy="395.1" r="6.4"/>
<circle cx="1689.5" cy="392.8" r="6.4"/>
<circle cx="1701.7" cy="396.7" r="6.4"/>
<circle cx="1696.9" cy="410.9" r="6.4"/>
<circle cx="1799.4" cy="389.7" r="6.4"/>
<circle cx="1606.7" cy="393.8" r="6.4"/>
<circle cx="1614.5" cy="398.3" r="6.4"/>
<circle cx="1602.0" cy="393.7" r="6.4"/>
<circle cx="1617.5" cy="381.4" r="6.4"/>
<circle cx="1714.9" cy="395.6" r="6.4"/>
<circle cx="1757.5" cy="399.3" r="6.4"/>
<circle cx="1749.5" cy="398.5" r="6.4"/>
<circle cx="1651.0" cy="396.2" r="6.4"/>
<circle cx="1617.3" cy="389.8" r="6.4"/>
<circle cx="1638.7" cy="413.8" r="6.4"/>
<circle cx="1708.1" cy="409.4" r="6.4"/>
<circle cx="1656.8" cy="389.6" r="6.4"/>
<circle cx="1592.0" cy="400.8" r="6.4"/>
<circle cx="1775.9" cy="378.2" r="6.4"/>
<circle cx="1676.7" cy="386.7" r="6.4"/>
<circle cx="1716.4" cy="398.0" r="6.4"/>
<circle cx="1784.8" cy="400.7" r="6.4"/>
<circle cx="1768.0" cy="390.4" r="6.4"/>
<circle cx="1759.5" cy="415.7" r="6.4"/>
<circle cx="1646.8" cy="379.7" r="6.4"/>
<circle cx="1689.0" cy="384.3" r="6.4"/>
<circle cx="1788.9" cy="398.4" r="6.4"/>
<circle cx="1738.1" cy="406.9" r="6.4"/>
<circle cx="1628.7" cy="391.3" r="6.4"/>
<circle cx="1686.6" cy="415.1" r="6.4"/>
<circle cx="1754.4" cy="398.2" r="6.4"/>
<circle cx="1658.8" cy="403.6" r="6.4"/>
<circle cx="1621.0" cy="405.3" r="6.4"/>
<circle cx="1703.5" cy="396.7" r="6.4"/>
<circle cx="1605.3" cy="389.3" r="6.4"/>
<circle cx="1668.7" cy="396.1" r="6.4"/>
<circle cx="1594.4" cy="410.0" r="6.4"/>
<circle cx="1657.3" cy="409.8" r="6.4"/>
<circle cx="1633.9" cy="400.7" r="6.4"/>
<circle cx="1632.2" cy="404.9" r="6.4"/>
<circle cx="1587.7" cy="393.8" r="6.4"/>
<circle cx="1614.3" cy="390.9" r="6.4"/>
<circle cx="1735.3" cy="404.0" r="6.4"/>
<circle cx="1763.7" cy="401.9" r="6.4"/>
<circle cx="1608.1" cy="382.0" r="6.4"/>
<circle cx="1757.1" cy="404.0" r="6.4"/>
<circle cx="1615.0" cy="389.3" r="6.4"/>
<circle cx="1662.9" cy="409.5" r="6.4"/>
<circle cx="1790.8" cy="403.8" r="6.4"/>
<circle cx="1630.0" cy="393.4" r="6.4"/>
</g>
<g fill="none" stroke="#f00" stroke-width="1.45">
<circle cx="214.0" cy="933.9" r="6.4"/>
<circle cx="195.8" cy="977.1" r="6.4"/>
<circle cx="200.2" cy="974.5" r="6.4"/>
<circle cx="196.6" cy="1013.3" r="6.4"/>
<circle cx="209.7" cy="1019.5" r="6.4"/>
<circle cx="222.4" cy="1018.0" r="6.4"/>
<circle cx="232.1" cy="1030.3" r="6.4"/>
<circle cx="264.5" cy="1014.6" r="6.4"/>
<circle cx="294.2" cy="1034.2" r="6.4"/>
<circle cx="195.1" cy="1051.6" r="6.4"/>
<circle cx="203.6" cy="1048.5" r="6.4"/>
<circle cx="214.4" cy="1046.5" r="6.4"/>
<circle cx="215.1" cy="1054.2" r="6.4"/>
<circle cx="205.9" cy="1055.0" r="6.4"/>
<circle cx="215.1" cy="1061.9" r="6.4"/>
<circle cx="197.7" cy="1067.6" r="6.4"/>
<circle cx="205.9" cy="1068.1" r="6.4"/>
<circle cx="218.7" cy="1074.7" r="6.4"/>
<circle cx="236.7" cy="1059.6" r="6.4"/>
<circle cx="252.9" cy="1050.7" r="6.4"/>
<circle cx="253.7" cy="1061.9" r="6.4"/>
<circle cx="259.8" cy="1073.5" r="6.4"/>
<circle cx="274.8" cy="1057.3" r="6.4"/>
<circle cx="275.7" cy="1063.5" r="6.4"/>
<circle cx="234.1" cy="1084.3" r="6.4"/>
<circle cx="349.8" cy="1084.3" r="6.4"/>
<circle cx="357.8" cy="1067.6" r="6.4"/>
<circle cx="365.5" cy="1072.7" r="6.4"/>
<circle cx="368.6" cy="1077.3" r="6.4"/>
<circle cx="372.4" cy="1075.8" r="6.4"/>
<circle cx="382.8" cy="1063.5" r="6.4"/>
<circle cx="389.4" cy="1078.9" r="6.4"/>
<circle cx="388.6" cy="1081.2" r="6.4"/>
<circle cx="204.2" cy="1086.0" r="6.4"/>
<circle cx="224.7" cy="1090.5" r="6.4"/>
<circle cx="234.1" cy="1085.4" r="6.4"/>
<circle cx="238.8" cy="1093.4" r="6.4"/>
<circle cx="248.2" cy="1088.0" r="6.4"/>
<circle cx="247.5" cy="1091.4" r="6.4"/>
<circle cx="263.6" cy="1091.4" r="6.4"/>
<circle cx="264.2" cy="1096.1" r="6.4"/>
<circle cx="274.3" cy="1100.1" r="6.4"/>
<circle cx="286.4" cy="1089.1" r="6.4"/>
<circle cx="301.1" cy="1091.8" r="6.4"/>
<circle cx="312.5" cy="1102.1" r="6.4"/>
<circle cx="321.2" cy="1110.2" r="6.4"/>
<circle cx="350.8" cy="1096.8" r="6.4"/>
<circle cx="350.8" cy="1100.1" r="6.4"/>
<circle cx="342.0" cy="1106.8" r="6.4"/>
<circle cx="391.7" cy="1094.8" r="6.4"/>
<circle cx="399.7" cy="1103.5" r="6.4"/>
<circle cx="201.2" cy="1106.8" r="6.4"/>
<circle cx="200.9" cy="1110.2" r="6.4"/>
<circle cx="202.6" cy="1112.9" r="6.4"/>
<circle cx="230.7" cy="1112.2" r="6.4"/>
<circle cx="229.4" cy="1116.9" r="6.4"/>
<circle cx="226.7" cy="1120.2" r="6.4"/>
<circle cx="232.1" cy="1120.2" r="6.4"/>
<circle cx="247.5" cy="1115.5" r="6.4"/>
<circle cx="246.8" cy="1118.9" r="6.4"/>
<circle cx="269.6" cy="1114.9" r="6.4"/>
<circle cx="280.3" cy="1120.2" r="6.4"/>
<circle cx="284.4" cy="1121.6" r="6.4"/>
<circle cx="297.1" cy="1114.9" r="6.4"/>
<circle cx="305.8" cy="1124.3" r="6.4"/>
<circle cx="320.6" cy="1125.6" r="6.4"/>
<circle cx="328.6" cy="1118.9" r="6.4"/>
<circle cx="330.6" cy="1122.9" r="6.4"/>
<circle cx="332.7" cy="1126.9" r="6.4"/>
<circle cx="346.7" cy="1114.9" r="6.4"/>
<circle cx="346.1" cy="1118.9" r="6.4"/>
<circle cx="344.7" cy="1124.3" r="6.4"/>
<circle cx="364.8" cy="1112.2" r="6.4"/>
<circle cx="364.8" cy="1120.2" r="6.4"/>
<circle cx="376.9" cy="1106.8" r="6.4"/>
<circle cx="382.3" cy="1113.5" r="6.4"/>
<circle cx="386.3" cy="1120.2" r="6.4"/>
<circle cx="393.0" cy="1114.9" r="6.4"/>
<circle cx="395.7" cy="1122.9" r="6.4"/>
<circle cx="403.7" cy="1124.3" r="6.4"/>
<circle cx="193.2" cy="1132.3" r="6.4"/>
<circle cx="199.2" cy="1131.0" r="6.4"/>
<circle cx="207.9" cy="1125.6" r="6.4"/>
<circle cx="210.6" cy="1134.7" r="6.4"/>
<circle cx="196.5" cy="1142.4" r="6.4"/>
<circle cx="230.7" cy="1133.6" r="6.4"/>
<circle cx="245.5" cy="1131.0" r="6.4"/>
<circle cx="254.9" cy="1127.6" r="6.4"/>
<circle cx="258.9" cy="1135.7" r="6.4"/>
<circle cx="272.3" cy="1133.6" r="6.4"/>
<circle cx="276.3" cy="1128.3" r="6.4"/>
<circle cx="281.7" cy="1131.0" r="6.4"/>
<circle cx="293.8" cy="1133.6" r="6.4"/>
<circle cx="304.5" cy="1141.0" r="6.4"/>
<circle cx="317.9" cy="1136.3" r="6.4"/>
<circle cx="320.6" cy="1140.4" r="6.4"/>
<circle cx="323.3" cy="1143.0" r="6.4"/>
<circle cx="334.0" cy="1136.3" r="6.4"/>
<circle cx="340.7" cy="1137.7" r="6.4"/>
<circle cx="359.5" cy="1133.0" r="6.4"/>
<circle cx="367.5" cy="1132.3" r="6.4"/>
<circle cx="383.6" cy="1137.7" r="6.4"/>
<circle cx="379.6" cy="1144.4" r="6.4"/>
<circle cx="218.6" cy="1147.7" r="6.4"/>
<circle cx="245.5" cy="1144.4" r="6.4"/>
<circle cx="245.5" cy="1147.1" r="6.4"/>
<circle cx="250.8" cy="1151.1" r="6.4"/>
<circle cx="252.2" cy="1156.4" r="6.4"/>
<circle cx="261.6" cy="1155.8" r="6.4"/>
<circle cx="275.0" cy="1153.8" r="6.4"/>
<circle cx="283.0" cy="1155.1" r="6.4"/>
<circle cx="288.4" cy="1147.1" r="6.4"/>
<circle cx="291.1" cy="1151.1" r="6.4"/>
<circle cx="299.1" cy="1155.1" r="6.4"/>
<circle cx="300.5" cy="1157.8" r="6.4"/>
<circle cx="301.8" cy="1160.5" r="6.4"/>
<circle cx="313.9" cy="1149.7" r="6.4"/>
<circle cx="320.6" cy="1147.1" r="6.4"/>
<circle cx="332.7" cy="1148.4" r="6.4"/>
<circle cx="331.3" cy="1157.8" r="6.4"/>
<circle cx="339.4" cy="1160.5" r="6.4"/>
<circle cx="355.5" cy="1157.8" r="6.4"/>
<circle cx="358.1" cy="1165.8" r="6.4"/>
<circle cx="366.2" cy="1151.1" r="6.4"/>
<circle cx="374.2" cy="1145.7" r="6.4"/>
<circle cx="378.3" cy="1149.7" r="6.4"/>
<circle cx="390.3" cy="1153.8" r="6.4"/>
<circle cx="398.4" cy="1151.1" r="6.4"/>
<circle cx="402.4" cy="1160.5" r="6.4"/>
<circle cx="197.9" cy="1171.9" r="6.4"/>
<circle cx="209.9" cy="1169.9" r="6.4"/>
<circle cx="214.6" cy="1161.1" r="6.4"/>
<circle cx="222.7" cy="1160.5" r="6.4"/>
<circle cx="232.1" cy="1161.8" r="6.4"/>
<circle cx="240.1" cy="1163.2" r="6.4"/>
<circle cx="224.0" cy="1171.2" r="6.4"/>
<circle cx="229.4" cy="1173.9" r="6.4"/>
<circle cx="237.4" cy="1172.5" r="6.4"/>
<circle cx="244.1" cy="1168.5" r="6.4"/>
<circle cx="249.5" cy="1173.9" r="6.4"/>
<circle cx="266.9" cy="1167.2" r="6.4"/>
<circle cx="276.3" cy="1171.2" r="6.4"/>
<circle cx="287.0" cy="1165.8" r="6.4"/>
<circle cx="289.7" cy="1168.5" r="6.4"/>
<circle cx="296.4" cy="1173.9" r="6.4"/>
<circle cx="307.2" cy="1172.5" r="6.4"/>
<circle cx="319.2" cy="1169.9" r="6.4"/>
<circle cx="327.3" cy="1168.5" r="6.4"/>
<circle cx="330.0" cy="1165.8" r="6.4"/>
<circle cx="338.0" cy="1163.2" r="6.4"/>
<circle cx="346.1" cy="1171.2" r="6.4"/>
<circle cx="360.1" cy="1175.2" r="6.4"/>
<circle cx="370.2" cy="1173.9" r="6.4"/>
<circle cx="385.0" cy="1165.8" r="6.4"/>
<circle cx="387.6" cy="1173.9" r="6.4"/>
<circle cx="393.0" cy="1176.6" r="6.4"/>
<circle cx="215.3" cy="1187.3" r="6.4"/>
<circle cx="222.7" cy="1188.6" r="6.4"/>
<circle cx="229.4" cy="1186.0" r="6.4"/>
<circle cx="234.7" cy="1181.9" r="6.4"/>
<circle cx="240.1" cy="1187.3" r="6.4"/>
<circle cx="249.5" cy="1181.9" r="6.4"/>
<circle cx="252.8" cy="1191.3" r="6.4"/>
<circle cx="266.3" cy="1177.2" r="6.4"/>
<circle cx="285.7" cy="1190.6" r="6.4"/>
<circle cx="292.4" cy="1181.9" r="6.4"/>
<circle cx="299.1" cy="1183.3" r="6.4"/>
<circle cx="313.9" cy="1186.0" r="6.4"/>
<circle cx="319.2" cy="1184.6" r="6.4"/>
<circle cx="324.6" cy="1187.3" r="6.4"/>
<circle cx="332.7" cy="1180.6" r="6.4"/>
<circle cx="339.4" cy="1189.3" r="6.4"/>
<circle cx="378.3" cy="1181.9" r="6.4"/>
<circle cx="385.0" cy="1186.0" r="6.4"/>
<circle cx="386.3" cy="1195.3" r="6.4"/>
<circle cx="402.4" cy="1186.0" r="6.4"/>
<circle cx="402.4" cy="1192.7" r="6.4"/>
<circle cx="207.2" cy="1196.7" r="6.4"/>
<circle cx="226.7" cy="1204.7" r="6.4"/>
<circle cx="226.0" cy="1213.4" r="6.4"/>
<circle cx="242.8" cy="1218.8" r="6.4"/>
<circle cx="240.8" cy="1195.3" r="6.4"/>
<circle cx="249.5" cy="1204.7" r="6.4"/>
<circle cx="258.9" cy="1203.4" r="6.4"/>
<circle cx="268.3" cy="1204.1" r="6.4"/>
<circle cx="276.3" cy="1202.7" r="6.4"/>
<circle cx="291.1" cy="1210.1" r="6.4"/>
<circle cx="356.1" cy="1202.7" r="6.4"/>
<circle cx="356.8" cy="1194.0" r="6.4"/>
<circle cx="367.5" cy="1191.3" r="6.4"/>
<circle cx="398.4" cy="1210.8" r="6.4"/>
<circle cx="194.5" cy="1229.5" r="6.4"/>
<circle cx="369.5" cy="1230.2" r="6.4"/>
<circle cx="312.5" cy="1245.9" r="6.4"/>
<circle cx="460.3" cy="1029.4" r="6.4"/>
<circle cx="517.3" cy="1026.4" r="6.4"/>
<circle cx="481.9" cy="1038.7" r="6.4"/>
<circle cx="486.8" cy="1050.4" r="6.4"/>
<circle cx="564.0" cy="1043.9" r="6.4"/>
<circle cx="576.3" cy="1043.2" r="6.4"/>
<circle cx="582.1" cy="1052.9" r="6.4"/>
<circle cx="522.5" cy="1050.4" r="6.4"/>
<circle cx="499.8" cy="1055.5" r="6.4"/>
<circle cx="502.4" cy="1054.9" r="6.4"/>
<circle cx="459.0" cy="1054.9" r="6.4"/>
<circle cx="432.4" cy="1060.1" r="6.4"/>
<circle cx="433.7" cy="1071.1" r="6.4"/>
<circle cx="470.6" cy="1060.7" r="6.4"/>
<circle cx="477.1" cy="1057.5" r="6.4"/>
<circle cx="457.0" cy="1066.6" r="6.4"/>
<circle cx="471.3" cy="1068.5" r="6.4"/>
<circle cx="482.3" cy="1067.9" r="6.4"/>
<circle cx="497.2" cy="1073.7" r="6.4"/>
<circle cx="502.4" cy="1063.3" r="6.4"/>
<circle cx="511.5" cy="1065.9" r="6.4"/>
<circle cx="514.1" cy="1073.7" r="6.4"/>
<circle cx="525.7" cy="1060.1" r="6.4"/>
<circle cx="533.5" cy="1057.5" r="6.4"/>
<circle cx="537.4" cy="1060.1" r="6.4"/>
<circle cx="539.3" cy="1072.4" r="6.4"/>
<circle cx="557.5" cy="1069.2" r="6.4"/>
<circle cx="554.9" cy="1073.7" r="6.4"/>
<circle cx="553.6" cy="1078.9" r="6.4"/>
<circle cx="582.1" cy="1067.9" r="6.4"/>
<circle cx="582.1" cy="1077.6" r="6.4"/>
<circle cx="612.6" cy="1069.2" r="6.4"/>
<circle cx="599.6" cy="1082.8" r="6.4"/>
<circle cx="569.8" cy="1081.5" r="6.4"/>
<circle cx="530.3" cy="1082.8" r="6.4"/>
<circle cx="519.9" cy="1082.1" r="6.4"/>
<circle cx="466.1" cy="1080.2" r="6.4"/>
<circle cx="445.4" cy="1080.2" r="6.4"/>
<circle cx="406.5" cy="1073.7" r="6.4"/>
<circle cx="418.8" cy="1075.0" r="6.4"/>
<circle cx="419.4" cy="1074.3" r="6.4"/>
<circle cx="406.5" cy="1081.5" r="6.4"/>
<circle cx="560.7" cy="1083.4" r="6.4"/>
<circle cx="448.3" cy="1085.4" r="6.4"/>
<circle cx="487.2" cy="1086.7" r="6.4"/>
<circle cx="475.1" cy="1089.4" r="6.4"/>
<circle cx="481.8" cy="1090.7" r="6.4"/>
<circle cx="483.2" cy="1096.1" r="6.4"/>
<circle cx="485.9" cy="1100.1" r="6.4"/>
<circle cx="463.1" cy="1094.8" r="6.4"/>
<circle cx="440.2" cy="1096.1" r="6.4"/>
<circle cx="437.6" cy="1097.4" r="6.4"/>
<circle cx="447.0" cy="1093.4" r="6.4"/>
<circle cx="452.3" cy="1105.5" r="6.4"/>
<circle cx="414.8" cy="1090.7" r="6.4"/>
<circle cx="414.8" cy="1094.8" r="6.4"/>
<circle cx="408.0" cy="1097.4" r="6.4"/>
<circle cx="416.1" cy="1105.5" r="6.4"/>
<circle cx="410.7" cy="1109.5" r="6.4"/>
<circle cx="408.0" cy="1114.9" r="6.4"/>
<circle cx="434.9" cy="1109.5" r="6.4"/>
<circle cx="437.6" cy="1112.2" r="6.4"/>
<circle cx="438.9" cy="1114.9" r="6.4"/>
<circle cx="438.9" cy="1120.2" r="6.4"/>
<circle cx="473.8" cy="1105.5" r="6.4"/>
<circle cx="480.5" cy="1109.5" r="6.4"/>
<circle cx="480.5" cy="1116.2" r="6.4"/>
<circle cx="481.8" cy="1120.2" r="6.4"/>
<circle cx="493.9" cy="1112.9" r="6.4"/>
<circle cx="502.0" cy="1096.8" r="6.4"/>
<circle cx="511.3" cy="1108.2" r="6.4"/>
<circle cx="520.7" cy="1104.1" r="6.4"/>
<circle cx="528.8" cy="1100.1" r="6.4"/>
<circle cx="530.8" cy="1108.8" r="6.4"/>
<circle cx="539.5" cy="1090.7" r="6.4"/>
<circle cx="546.2" cy="1096.1" r="6.4"/>
<circle cx="551.6" cy="1097.4" r="6.4"/>
<circle cx="555.6" cy="1100.1" r="6.4"/>
<circle cx="558.3" cy="1102.8" r="6.4"/>
<circle cx="547.6" cy="1090.7" r="6.4"/>
<circle cx="550.3" cy="1085.4" r="6.4"/>
<circle cx="570.4" cy="1088.0" r="6.4"/>
<circle cx="595.9" cy="1090.7" r="6.4"/>
<circle cx="626.7" cy="1087.4" r="6.4"/>
<circle cx="614.6" cy="1096.1" r="6.4"/>
<circle cx="620.0" cy="1100.1" r="6.4"/>
<circle cx="605.3" cy="1104.1" r="6.4"/>
<circle cx="598.6" cy="1110.9" r="6.4"/>
<circle cx="583.8" cy="1106.2" r="6.4"/>
<circle cx="566.4" cy="1110.9" r="6.4"/>
<circle cx="565.0" cy="1114.9" r="6.4"/>
<circle cx="565.0" cy="1120.2" r="6.4"/>
<circle cx="546.2" cy="1116.2" r="6.4"/>
<circle cx="578.4" cy="1120.2" r="6.4"/>
<circle cx="585.1" cy="1117.6" r="6.4"/>
<circle cx="590.5" cy="1114.9" r="6.4"/>
<circle cx="610.6" cy="1117.6" r="6.4"/>
<circle cx="606.6" cy="1122.9" r="6.4"/>
<circle cx="626.7" cy="1111.5" r="6.4"/>
<circle cx="406.7" cy="1124.3" r="6.4"/>
<circle cx="408.0" cy="1131.0" r="6.4"/>
<circle cx="433.5" cy="1129.6" r="6.4"/>
<circle cx="424.8" cy="1137.7" r="6.4"/>
<circle cx="420.1" cy="1149.8" r="6.4"/>
<circle cx="405.4" cy="1155.1" r="6.4"/>
<circle cx="449.6" cy="1132.3" r="6.4"/>
<circle cx="447.0" cy="1137.7" r="6.4"/>
<circle cx="456.3" cy="1136.3" r="6.4"/>
<circle cx="461.7" cy="1124.3" r="6.4"/>
<circle cx="464.4" cy="1121.6" r="6.4"/>
<circle cx="460.4" cy="1131.0" r="6.4"/>
<circle cx="475.1" cy="1139.0" r="6.4"/>
<circle cx="477.8" cy="1143.1" r="6.4"/>
<circle cx="480.5" cy="1125.6" r="6.4"/>
<circle cx="493.9" cy="1132.3" r="6.4"/>
<circle cx="492.6" cy="1133.7" r="6.4"/>
<circle cx="503.3" cy="1133.7" r="6.4"/>
<circle cx="507.3" cy="1125.6" r="6.4"/>
<circle cx="511.3" cy="1124.3" r="6.4"/>
<circle cx="518.1" cy="1122.9" r="6.4"/>
<circle cx="522.1" cy="1127.0" r="6.4"/>
<circle cx="522.1" cy="1135.0" r="6.4"/>
<circle cx="504.6" cy="1139.0" r="6.4"/>
<circle cx="542.2" cy="1129.6" r="6.4"/>
<circle cx="552.9" cy="1141.7" r="6.4"/>
<circle cx="555.6" cy="1144.4" r="6.4"/>
<circle cx="565.0" cy="1125.6" r="6.4"/>
<circle cx="570.4" cy="1133.7" r="6.4"/>
<circle cx="573.1" cy="1141.7" r="6.4"/>
<circle cx="583.8" cy="1144.4" r="6.4"/>
<circle cx="585.1" cy="1140.4" r="6.4"/>
<circle cx="587.8" cy="1132.3" r="6.4"/>
<circle cx="601.2" cy="1144.4" r="6.4"/>
<circle cx="603.9" cy="1135.0" r="6.4"/>
<circle cx="605.3" cy="1139.0" r="6.4"/>
<circle cx="609.3" cy="1131.0" r="6.4"/>
<circle cx="613.3" cy="1128.3" r="6.4"/>
<circle cx="606.6" cy="1120.2" r="6.4"/>
<circle cx="630.7" cy="1133.0" r="6.4"/>
<circle cx="628.1" cy="1141.7" r="6.4"/>
<circle cx="530.1" cy="1145.7" r="6.4"/>
<circle cx="535.5" cy="1147.1" r="6.4"/>
<circle cx="544.9" cy="1152.4" r="6.4"/>
<circle cx="555.6" cy="1152.4" r="6.4"/>
<circle cx="409.4" cy="1173.9" r="6.4"/>
<circle cx="417.4" cy="1168.5" r="6.4"/>
<circle cx="428.8" cy="1163.2" r="6.4"/>
<circle cx="442.9" cy="1165.9" r="6.4"/>
<circle cx="438.9" cy="1176.6" r="6.4"/>
<circle cx="445.6" cy="1172.6" r="6.4"/>
<circle cx="455.0" cy="1173.9" r="6.4"/>
<circle cx="459.0" cy="1172.6" r="6.4"/>
<circle cx="460.4" cy="1159.2" r="6.4"/>
<circle cx="464.4" cy="1153.8" r="6.4"/>
<circle cx="473.8" cy="1159.2" r="6.4"/>
<circle cx="472.4" cy="1155.1" r="6.4"/>
<circle cx="480.5" cy="1172.6" r="6.4"/>
<circle cx="483.2" cy="1161.8" r="6.4"/>
<circle cx="491.2" cy="1157.8" r="6.4"/>
<circle cx="493.9" cy="1149.8" r="6.4"/>
<circle cx="499.3" cy="1149.8" r="6.4"/>
<circle cx="502.0" cy="1160.5" r="6.4"/>
<circle cx="507.3" cy="1157.8" r="6.4"/>
<circle cx="511.3" cy="1152.4" r="6.4"/>
<circle cx="515.4" cy="1160.5" r="6.4"/>
<circle cx="518.1" cy="1168.5" r="6.4"/>
<circle cx="520.7" cy="1157.8" r="6.4"/>
<circle cx="510.0" cy="1165.9" r="6.4"/>
<circle cx="514.0" cy="1165.9" r="6.4"/>
<circle cx="502.0" cy="1168.5" r="6.4"/>
<circle cx="489.9" cy="1175.3" r="6.4"/>
<circle cx="497.9" cy="1179.3" r="6.4"/>
<circle cx="508.7" cy="1176.6" r="6.4"/>
<circle cx="518.1" cy="1175.3" r="6.4"/>
<circle cx="523.4" cy="1184.6" r="6.4"/>
<circle cx="528.8" cy="1172.6" r="6.4"/>
<circle cx="532.8" cy="1163.2" r="6.4"/>
<circle cx="539.5" cy="1163.2" r="6.4"/>
<circle cx="540.9" cy="1167.2" r="6.4"/>
<circle cx="538.2" cy="1179.3" r="6.4"/>
<circle cx="542.2" cy="1182.0" r="6.4"/>
<circle cx="554.3" cy="1176.6" r="6.4"/>
<circle cx="552.9" cy="1160.5" r="6.4"/>
<circle cx="550.3" cy="1155.1" r="6.4"/>
<circle cx="566.4" cy="1167.2" r="6.4"/>
<circle cx="571.7" cy="1155.1" r="6.4"/>
<circle cx="603.9" cy="1176.6" r="6.4"/>
<circle cx="470.4" cy="1179.9" r="6.4"/>
<circle cx="479.2" cy="1177.9" r="6.4"/>
<circle cx="408.0" cy="1200.7" r="6.4"/>
<circle cx="504.0" cy="1191.3" r="6.4"/>
<circle cx="575.7" cy="1187.3" r="6.4"/>
<circle cx="571.7" cy="1191.3" r="6.4"/>
<circle cx="570.4" cy="1195.4" r="6.4"/>
<circle cx="587.8" cy="1194.0" r="6.4"/>
<circle cx="593.2" cy="1186.0" r="6.4"/>
<circle cx="606.6" cy="1188.7" r="6.4"/>
<circle cx="609.3" cy="1169.9" r="6.4"/>
<circle cx="628.1" cy="1159.2" r="6.4"/>
<circle cx="630.7" cy="1173.9" r="6.4"/>
<circle cx="626.7" cy="1187.3" r="6.4"/>
<circle cx="621.4" cy="1198.1" r="6.4"/>
<circle cx="616.0" cy="1208.8" r="6.4"/>
<circle cx="626.7" cy="1218.2" r="6.4"/>
<circle cx="617.3" cy="1219.5" r="6.4"/>
<circle cx="609.3" cy="1218.2" r="6.4"/>
<circle cx="599.9" cy="1210.1" r="6.4"/>
<circle cx="598.6" cy="1212.8" r="6.4"/>
<circle cx="591.8" cy="1216.8" r="6.4"/>
<circle cx="579.8" cy="1214.2" r="6.4"/>
<circle cx="581.1" cy="1212.8" r="6.4"/>
<circle cx="549.6" cy="1216.2" r="6.4"/>
<circle cx="441.6" cy="1208.1" r="6.4"/>
<circle cx="428.2" cy="1214.8" r="6.4"/>
<circle cx="595.9" cy="1234.3" r="6.4"/>
<circle cx="608.6" cy="1245.0" r="6.4"/>
<circle cx="609.3" cy="1251.7" r="6.4"/>
<circle cx="614.6" cy="1261.1" r="6.4"/>
<circle cx="630.1" cy="1273.2" r="6.4"/>
<circle cx="613.2" cy="1361.7" r="6.4"/>
<circle cx="563.1" cy="1295.6" r="6.4"/>
<circle cx="454.3" cy="1166.9" r="6.4"/>
<circle cx="293.9" cy="1177.9" r="6.4"/>
<circle cx="332.5" cy="1155.6" r="6.4"/>
<circle cx="288.7" cy="1158.5" r="6.4"/>
<circle cx="514.1" cy="1159.8" r="6.4"/>
<circle cx="244.2" cy="1150.0" r="6.4"/>
<circle cx="297.3" cy="1163.8" r="6.4"/>
<circle cx="477.8" cy="1151.8" r="6.4"/>
<circle cx="404.4" cy="1176.6" r="6.4"/>
<circle cx="311.9" cy="1161.1" r="6.4"/>
<circle cx="263.7" cy="1168.2" r="6.4"/>
<circle cx="506.4" cy="1157.4" r="6.4"/>
<circle cx="239.2" cy="1181.0" r="6.4"/>
<circle cx="402.3" cy="1155.9" r="6.4"/>
<circle cx="306.9" cy="1175.8" r="6.4"/>
<circle cx="223.7" cy="1161.8" r="6.4"/>
<circle cx="245.4" cy="1173.0" r="6.4"/>
<circle cx="458.0" cy="1162.5" r="6.4"/>
<circle cx="527.2" cy="1176.9" r="6.4"/>
<circle cx="479.0" cy="1182.7" r="6.4"/>
<circle cx="247.6" cy="1149.0" r="6.4"/>
<circle cx="299.5" cy="1182.8" r="6.4"/>
<circle cx="438.9" cy="1168.3" r="6.4"/>
<circle cx="326.5" cy="1150.0" r="6.4"/>
<circle cx="451.7" cy="1174.2" r="6.4"/>
<circle cx="289.4" cy="1171.4" r="6.4"/>
<circle cx="426.4" cy="1155.8" r="6.4"/>
<circle cx="265.4" cy="1184.9" r="6.4"/>
<circle cx="464.3" cy="1182.6" r="6.4"/>
<circle cx="456.5" cy="1168.3" r="6.4"/>
<circle cx="258.3" cy="1165.9" r="6.4"/>
<circle cx="271.3" cy="1161.2" r="6.4"/>
<circle cx="214.1" cy="1176.1" r="6.4"/>
<circle cx="311.9" cy="1160.1" r="6.4"/>
<circle cx="502.2" cy="1159.2" r="6.4"/>
<circle cx="405.3" cy="1163.1" r="6.4"/>
<circle cx="356.6" cy="1156.0" r="6.4"/>
<circle cx="446.4" cy="1164.7" r="6.4"/>
<circle cx="500.3" cy="1165.4" r="6.4"/>
<circle cx="479.5" cy="1164.2" r="6.4"/>
<circle cx="507.5" cy="1168.5" r="6.4"/>
<circle cx="418.7" cy="1173.6" r="6.4"/>
<circle cx="240.0" cy="1167.6" r="6.4"/>
<circle cx="484.9" cy="1171.6" r="6.4"/>
<circle cx="231.0" cy="1160.9" r="6.4"/>
</g>
<g fill="none" stroke="#f00" stroke-width="1.45">
<circle cx="992.1" cy="932.5" r="6.4"/>
<circle cx="881.4" cy="965.7" r="6.4"/>
<circle cx="906.0" cy="978.3" r="6.4"/>
<circle cx="954.1" cy="973.9" r="6.4"/>
<circle cx="917.8" cy="991.6" r="6.4"/>
<circle cx="916.8" cy="1001.6" r="6.4"/>
<circle cx="1026.4" cy="989.1" r="6.4"/>
<circle cx="1020.1" cy="1000.4" r="6.4"/>
<circle cx="981.0" cy="1022.8" r="6.4"/>
<circle cx="910.6" cy="1019.2" r="6.4"/>
<circle cx="906.0" cy="1027.7" r="6.4"/>
<circle cx="910.9" cy="1028.9" r="6.4"/>
<circle cx="914.3" cy="1039.5" r="6.4"/>
<circle cx="928.6" cy="1034.8" r="6.4"/>
<circle cx="954.1" cy="1035.8" r="6.4"/>
<circle cx="1051.1" cy="1046.9" r="6.4"/>
<circle cx="904.3" cy="1045.4" r="6.4"/>
<circle cx="888.0" cy="1051.8" r="6.4"/>
<circle cx="896.9" cy="1054.3" r="6.4"/>
<circle cx="885.1" cy="1062.4" r="6.4"/>
<circle cx="882.1" cy="1071.2" r="6.4"/>
<circle cx="894.7" cy="1070.5" r="6.4"/>
<circle cx="893.9" cy="1072.0" r="6.4"/>
<circle cx="1018.6" cy="1076.4" r="6.4"/>
<circle cx="1062.4" cy="1097.1" r="6.4"/>
<circle cx="1062.2" cy="1100.7" r="6.4"/>
<circle cx="1051.1" cy="1124.3" r="6.4"/>
<circle cx="1059.2" cy="1137.6" r="6.4"/>
<circle cx="1059.9" cy="1134.7" r="6.4"/>
<circle cx="1065.8" cy="1150.9" r="6.4"/>
<circle cx="1069.5" cy="1162.0" r="6.4"/>
<circle cx="1012.7" cy="1119.9" r="6.4"/>
<circle cx="1024.5" cy="1122.9" r="6.4"/>
<circle cx="1016.4" cy="1131.0" r="6.4"/>
<circle cx="1025.3" cy="1136.9" r="6.4"/>
<circle cx="1026.7" cy="1148.0" r="6.4"/>
<circle cx="1016.4" cy="1150.2" r="6.4"/>
<circle cx="1010.5" cy="1159.0" r="6.4"/>
<circle cx="1007.6" cy="1164.9" r="6.4"/>
<circle cx="1014.9" cy="1170.8" r="6.4"/>
<circle cx="1019.4" cy="1173.8" r="6.4"/>
<circle cx="1029.7" cy="1176.7" r="6.4"/>
<circle cx="1009.0" cy="1181.2" r="6.4"/>
<circle cx="1022.3" cy="1182.6" r="6.4"/>
<circle cx="1035.6" cy="1157.5" r="6.4"/>
<circle cx="1044.4" cy="1156.1" r="6.4"/>
<circle cx="1051.8" cy="1159.0" r="6.4"/>
<circle cx="1051.8" cy="1166.4" r="6.4"/>
<circle cx="1043.0" cy="1162.0" r="6.4"/>
<circle cx="1046.7" cy="1185.6" r="6.4"/>
<circle cx="1055.5" cy="1201.8" r="6.4"/>
<circle cx="1059.2" cy="1223.9" r="6.4"/>
<circle cx="1060.7" cy="1231.3" r="6.4"/>
<circle cx="1033.4" cy="1232.1" r="6.4"/>
<circle cx="1043.7" cy="1254.2" r="6.4"/>
<circle cx="1015.7" cy="1283.7" r="6.4"/>
<circle cx="978.0" cy="1272.6" r="6.4"/>
<circle cx="1003.1" cy="1248.3" r="6.4"/>
<circle cx="993.5" cy="1243.1" r="6.4"/>
<circle cx="960.3" cy="1241.4" r="6.4"/>
<circle cx="1009.0" cy="1220.3" r="6.4"/>
<circle cx="1028.2" cy="1204.8" r="6.4"/>
<circle cx="1031.2" cy="1202.6" r="6.4"/>
<circle cx="1011.2" cy="1203.3" r="6.4"/>
<circle cx="1007.6" cy="1194.4" r="6.4"/>
<circle cx="1006.1" cy="1197.4" r="6.4"/>
<circle cx="926.4" cy="1247.6" r="6.4"/>
<circle cx="900.6" cy="1254.9" r="6.4"/>
<circle cx="881.1" cy="1253.5" r="6.4"/>
<circle cx="901.3" cy="1220.3" r="6.4"/>
<circle cx="885.1" cy="1226.9" r="6.4"/>
<circle cx="884.3" cy="1230.6" r="6.4"/>
<circle cx="882.1" cy="1213.6" r="6.4"/>
<circle cx="880.7" cy="1201.8" r="6.4"/>
<circle cx="899.8" cy="1201.8" r="6.4"/>
<circle cx="893.9" cy="1204.8" r="6.4"/>
<circle cx="889.5" cy="1302.2" r="6.4"/>
<circle cx="906.9" cy="1297.4" r="6.4"/>
<circle cx="1007.6" cy="1156.1" r="6.4"/>
<circle cx="1194.8" cy="1038.8" r="6.4"/>
<circle cx="1265.2" cy="1036.6" r="6.4"/>
<circle cx="1305.1" cy="1031.2" r="6.4"/>
<circle cx="1305.1" cy="1041.3" r="6.4"/>
<circle cx="1305.1" cy="1069.4" r="6.4"/>
<circle cx="1087.5" cy="1053.7" r="6.4"/>
<circle cx="1106.2" cy="1080.5" r="6.4"/>
<circle cx="1152.5" cy="1084.5" r="6.4"/>
<circle cx="1185.1" cy="1096.6" r="6.4"/>
<circle cx="1245.1" cy="1103.3" r="6.4"/>
<circle cx="1168.0" cy="1114.7" r="6.4"/>
<circle cx="1194.8" cy="1121.2" r="6.4"/>
<circle cx="1074.0" cy="1112.3" r="6.4"/>
<circle cx="1087.1" cy="1121.8" r="6.4"/>
<circle cx="1094.6" cy="1123.2" r="6.4"/>
<circle cx="1074.0" cy="1132.2" r="6.4"/>
<circle cx="1128.8" cy="1133.9" r="6.4"/>
<circle cx="1119.9" cy="1149.4" r="6.4"/>
<circle cx="1129.0" cy="1150.6" r="6.4"/>
<circle cx="1145.5" cy="1152.0" r="6.4"/>
<circle cx="1072.0" cy="1161.0" r="6.4"/>
<circle cx="1078.1" cy="1162.0" r="6.4"/>
<circle cx="1086.1" cy="1161.0" r="6.4"/>
<circle cx="1168.0" cy="1161.6" r="6.4"/>
<circle cx="1117.3" cy="1169.1" r="6.4"/>
<circle cx="1128.8" cy="1166.7" r="6.4"/>
<circle cx="1106.2" cy="1175.1" r="6.4"/>
<circle cx="1104.2" cy="1179.1" r="6.4"/>
<circle cx="1096.2" cy="1183.6" r="6.4"/>
<circle cx="1119.9" cy="1185.6" r="6.4"/>
<circle cx="1135.4" cy="1189.2" r="6.4"/>
<circle cx="1160.0" cy="1188.8" r="6.4"/>
<circle cx="1172.1" cy="1182.8" r="6.4"/>
<circle cx="1107.2" cy="1194.2" r="6.4"/>
<circle cx="1108.2" cy="1195.7" r="6.4"/>
<circle cx="1148.5" cy="1208.7" r="6.4"/>
<circle cx="1199.8" cy="1193.6" r="6.4"/>
<circle cx="1214.9" cy="1191.6" r="6.4"/>
<circle cx="1221.0" cy="1178.1" r="6.4"/>
<circle cx="1232.0" cy="1184.2" r="6.4"/>
<circle cx="1239.1" cy="1171.1" r="6.4"/>
<circle cx="1245.1" cy="1161.0" r="6.4"/>
<circle cx="1258.6" cy="1154.4" r="6.4"/>
<circle cx="1220.6" cy="1202.3" r="6.4"/>
<circle cx="1209.9" cy="1212.0" r="6.4"/>
<circle cx="1094.2" cy="1214.4" r="6.4"/>
<circle cx="1091.1" cy="1217.4" r="6.4"/>
<circle cx="1099.2" cy="1221.4" r="6.4"/>
<circle cx="1111.9" cy="1213.0" r="6.4"/>
<circle cx="1122.7" cy="1232.1" r="6.4"/>
<circle cx="1119.9" cy="1234.5" r="6.4"/>
<circle cx="1122.7" cy="1243.6" r="6.4"/>
<circle cx="1185.1" cy="1235.1" r="6.4"/>
<circle cx="1220.6" cy="1226.4" r="6.4"/>
<circle cx="1227.0" cy="1232.5" r="6.4"/>
<circle cx="1239.1" cy="1230.5" r="6.4"/>
<circle cx="1245.1" cy="1237.5" r="6.4"/>
<circle cx="1220.6" cy="1239.5" r="6.4"/>
<circle cx="1209.9" cy="1249.2" r="6.4"/>
<circle cx="1199.8" cy="1253.0" r="6.4"/>
<circle cx="1272.9" cy="1244.6" r="6.4"/>
<circle cx="1232.6" cy="1264.1" r="6.4"/>
<circle cx="1226.6" cy="1268.1" r="6.4"/>
<circle cx="1251.8" cy="1278.8" r="6.4"/>
<circle cx="1245.1" cy="1285.4" r="6.4"/>
<circle cx="1122.7" cy="1267.7" r="6.4"/>
<circle cx="1119.9" cy="1275.4" r="6.4"/>
<circle cx="915.3" cy="1041.3" r="6.4"/>
<circle cx="928.0" cy="1040.0" r="6.4"/>
<circle cx="953.5" cy="1040.0" r="6.4"/>
<circle cx="909.3" cy="1056.1" r="6.4"/>
<circle cx="921.3" cy="1058.8" r="6.4"/>
<circle cx="949.5" cy="1056.8" r="6.4"/>
<circle cx="960.9" cy="1049.4" r="6.4"/>
<circle cx="977.0" cy="1050.7" r="6.4"/>
<circle cx="964.2" cy="1058.1" r="6.4"/>
<circle cx="973.0" cy="1057.4" r="6.4"/>
<circle cx="956.2" cy="1066.8" r="6.4"/>
<circle cx="946.1" cy="1070.2" r="6.4"/>
<circle cx="975.0" cy="1066.8" r="6.4"/>
<circle cx="977.6" cy="1073.5" r="6.4"/>
<circle cx="1000.4" cy="1078.9" r="6.4"/>
<circle cx="930.7" cy="1070.2" r="6.4"/>
<circle cx="917.3" cy="1074.9" r="6.4"/>
<circle cx="918.6" cy="1080.2" r="6.4"/>
<circle cx="928.0" cy="1081.6" r="6.4"/>
<circle cx="964.2" cy="1087.6" r="6.4"/>
<circle cx="985.7" cy="1091.6" r="6.4"/>
<circle cx="991.7" cy="1103.0" r="6.4"/>
<circle cx="944.1" cy="1097.7" r="6.4"/>
<circle cx="942.8" cy="1107.1" r="6.4"/>
<circle cx="961.6" cy="1101.7" r="6.4"/>
<circle cx="972.3" cy="1105.7" r="6.4"/>
<circle cx="961.6" cy="1109.7" r="6.4"/>
<circle cx="956.2" cy="1112.4" r="6.4"/>
<circle cx="970.9" cy="1112.4" r="6.4"/>
<circle cx="983.0" cy="1112.4" r="6.4"/>
<circle cx="987.0" cy="1120.5" r="6.4"/>
<circle cx="948.1" cy="1120.5" r="6.4"/>
<circle cx="930.7" cy="1117.8" r="6.4"/>
<circle cx="921.3" cy="1097.7" r="6.4"/>
<circle cx="928.0" cy="1103.0" r="6.4"/>
<circle cx="924.0" cy="1107.1" r="6.4"/>
<circle cx="916.0" cy="1096.3" r="6.4"/>
<circle cx="948.1" cy="1127.2" r="6.4"/>
<circle cx="938.8" cy="1133.9" r="6.4"/>
<circle cx="928.0" cy="1136.6" r="6.4"/>
<circle cx="921.3" cy="1128.5" r="6.4"/>
<circle cx="925.3" cy="1128.5" r="6.4"/>
<circle cx="944.1" cy="1133.9" r="6.4"/>
<circle cx="958.9" cy="1137.9" r="6.4"/>
<circle cx="964.2" cy="1141.9" r="6.4"/>
<circle cx="979.0" cy="1136.6" r="6.4"/>
<circle cx="979.0" cy="1147.3" r="6.4"/>
<circle cx="976.3" cy="1154.0" r="6.4"/>
<circle cx="980.3" cy="1158.0" r="6.4"/>
<circle cx="1000.4" cy="1139.2" r="6.4"/>
<circle cx="917.3" cy="1156.7" r="6.4"/>
<circle cx="925.3" cy="1158.0" r="6.4"/>
<circle cx="932.1" cy="1160.7" r="6.4"/>
<circle cx="944.1" cy="1156.7" r="6.4"/>
<circle cx="949.5" cy="1154.0" r="6.4"/>
<circle cx="957.5" cy="1147.3" r="6.4"/>
<circle cx="961.6" cy="1151.3" r="6.4"/>
<circle cx="940.1" cy="1171.4" r="6.4"/>
<circle cx="946.8" cy="1174.1" r="6.4"/>
<circle cx="952.2" cy="1170.1" r="6.4"/>
<circle cx="957.5" cy="1168.7" r="6.4"/>
<circle cx="962.9" cy="1172.8" r="6.4"/>
<circle cx="969.6" cy="1171.4" r="6.4"/>
<circle cx="976.3" cy="1171.4" r="6.4"/>
<circle cx="983.0" cy="1168.7" r="6.4"/>
<circle cx="988.4" cy="1167.4" r="6.4"/>
<circle cx="993.7" cy="1176.8" r="6.4"/>
<circle cx="950.8" cy="1180.8" r="6.4"/>
<circle cx="958.9" cy="1179.5" r="6.4"/>
<circle cx="975.0" cy="1179.5" r="6.4"/>
<circle cx="980.3" cy="1182.1" r="6.4"/>
<circle cx="928.0" cy="1184.2" r="6.4"/>
<circle cx="938.1" cy="1186.2" r="6.4"/>
<circle cx="945.5" cy="1200.9" r="6.4"/>
<circle cx="953.5" cy="1199.6" r="6.4"/>
<circle cx="958.9" cy="1196.9" r="6.4"/>
<circle cx="966.9" cy="1192.9" r="6.4"/>
<circle cx="970.9" cy="1206.3" r="6.4"/>
<circle cx="981.7" cy="1194.2" r="6.4"/>
<circle cx="984.4" cy="1214.3" r="6.4"/>
<circle cx="983.0" cy="1226.4" r="6.4"/>
<circle cx="999.1" cy="1203.6" r="6.4"/>
<circle cx="909.3" cy="1178.1" r="6.4"/>
<circle cx="910.6" cy="1191.5" r="6.4"/>
<circle cx="932.1" cy="1215.7" r="6.4"/>
<circle cx="921.3" cy="1230.4" r="6.4"/>
<circle cx="948.1" cy="1226.4" r="6.4"/>
<circle cx="920.0" cy="1235.8" r="6.4"/>
<circle cx="917.3" cy="1215.7" r="6.4"/>
<circle cx="898.9" cy="1108.8" r="6.4"/>
<circle cx="900.9" cy="1134.5" r="6.4"/>
<circle cx="903.7" cy="1149.8" r="6.4"/>
<circle cx="891.2" cy="1178.7" r="6.4"/>
<circle cx="898.7" cy="1117.5" r="6.4"/>
<circle cx="900.9" cy="1114.2" r="6.4"/>
<circle cx="882.3" cy="1113.3" r="6.4"/>
<circle cx="897.8" cy="1104.7" r="6.4"/>
<circle cx="903.3" cy="1152.6" r="6.4"/>
<circle cx="884.1" cy="1137.7" r="6.4"/>
<circle cx="897.9" cy="1128.1" r="6.4"/>
<circle cx="900.3" cy="1134.3" r="6.4"/>
<circle cx="904.3" cy="1174.6" r="6.4"/>
<circle cx="896.3" cy="1115.1" r="6.4"/>
<circle cx="882.4" cy="1130.8" r="6.4"/>
<circle cx="889.6" cy="1119.9" r="6.4"/>
<circle cx="888.5" cy="1147.6" r="6.4"/>
<circle cx="884.3" cy="1125.1" r="6.4"/>
<circle cx="886.7" cy="1093.9" r="6.4"/>
<circle cx="886.8" cy="1104.6" r="6.4"/>
<circle cx="903.5" cy="1133.9" r="6.4"/>
<circle cx="889.4" cy="1118.0" r="6.4"/>
<circle cx="884.4" cy="1196.4" r="6.4"/>
<circle cx="894.5" cy="1109.4" r="6.4"/>
<circle cx="894.2" cy="1184.7" r="6.4"/>
<circle cx="899.3" cy="1158.6" r="6.4"/>
<circle cx="895.4" cy="1175.9" r="6.4"/>
<circle cx="892.1" cy="1142.7" r="6.4"/>
<circle cx="883.7" cy="1080.7" r="6.4"/>
<circle cx="887.9" cy="1123.9" r="6.4"/>
<circle cx="882.4" cy="1152.7" r="6.4"/>
<circle cx="887.7" cy="1152.2" r="6.4"/>
<circle cx="891.8" cy="1181.1" r="6.4"/>
<circle cx="883.7" cy="1121.8" r="6.4"/>
<circle cx="889.7" cy="1167.1" r="6.4"/>
<circle cx="885.0" cy="1141.0" r="6.4"/>
<circle cx="904.8" cy="1138.9" r="6.4"/>
<circle cx="899.0" cy="1178.2" r="6.4"/>
<circle cx="904.5" cy="1161.0" r="6.4"/>
<circle cx="894.5" cy="1163.9" r="6.4"/>
<circle cx="891.4" cy="1159.0" r="6.4"/>
<circle cx="885.6" cy="1133.3" r="6.4"/>
<circle cx="903.1" cy="1136.0" r="6.4"/>
<circle cx="896.5" cy="1088.2" r="6.4"/>
<circle cx="896.7" cy="1086.5" r="6.4"/>
<circle cx="887.0" cy="1137.4" r="6.4"/>
<circle cx="881.7" cy="1153.4" r="6.4"/>
<circle cx="899.6" cy="1150.4" r="6.4"/>
<circle cx="885.5" cy="1115.7" r="6.4"/>
<circle cx="896.3" cy="1175.8" r="6.4"/>
<circle cx="885.0" cy="1080.5" r="6.4"/>
<circle cx="899.8" cy="1160.9" r="6.4"/>
<circle cx="888.8" cy="1093.8" r="6.4"/>
<circle cx="885.4" cy="1149.0" r="6.4"/>
<circle cx="889.8" cy="1113.5" r="6.4"/>
<circle cx="894.2" cy="1098.4" r="6.4"/>
<circle cx="886.7" cy="1178.4" r="6.4"/>
<circle cx="882.0" cy="1098.5" r="6.4"/>
<circle cx="900.7" cy="1119.8" r="6.4"/>
<circle cx="897.9" cy="1196.8" r="6.4"/>
<circle cx="892.9" cy="1096.5" r="6.4"/>
<circle cx="893.0" cy="1150.9" r="6.4"/>
<circle cx="894.9" cy="1158.2" r="6.4"/>
<circle cx="882.9" cy="1130.2" r="6.4"/>
<circle cx="891.6" cy="1120.4" r="6.4"/>
<circle cx="904.3" cy="1144.2" r="6.4"/>
<circle cx="891.5" cy="1141.6" r="6.4"/>
<circle cx="885.6" cy="1136.6" r="6.4"/>
<circle cx="901.2" cy="1134.8" r="6.4"/>
<circle cx="901.5" cy="1144.3" r="6.4"/>
<circle cx="887.8" cy="1106.3" r="6.4"/>
<circle cx="896.9" cy="1105.8" r="6.4"/>
<circle cx="889.1" cy="1134.1" r="6.4"/>
<circle cx="891.5" cy="1108.8" r="6.4"/>
<circle cx="902.7" cy="1088.5" r="6.4"/>
<circle cx="884.9" cy="1127.8" r="6.4"/>
<circle cx="894.5" cy="1168.1" r="6.4"/>
<circle cx="889.4" cy="1141.3" r="6.4"/>
<circle cx="888.8" cy="1148.9" r="6.4"/>
<circle cx="901.8" cy="1125.2" r="6.4"/>
<circle cx="904.4" cy="1177.5" r="6.4"/>
<circle cx="900.5" cy="1127.1" r="6.4"/>
<circle cx="882.4" cy="1118.7" r="6.4"/>
<circle cx="888.1" cy="1100.2" r="6.4"/>
<circle cx="894.7" cy="1169.8" r="6.4"/>
<circle cx="896.5" cy="1127.0" r="6.4"/>
<circle cx="888.2" cy="1102.4" r="6.4"/>
<circle cx="881.7" cy="1189.0" r="6.4"/>
<circle cx="885.5" cy="1122.8" r="6.4"/>
<circle cx="883.0" cy="1107.6" r="6.4"/>
<circle cx="896.9" cy="1109.6" r="6.4"/>
<circle cx="891.0" cy="1165.5" r="6.4"/>
<circle cx="893.7" cy="1109.3" r="6.4"/>
<circle cx="883.7" cy="1125.1" r="6.4"/>
<circle cx="885.3" cy="1166.1" r="6.4"/>
<circle cx="883.7" cy="1112.9" r="6.4"/>
<circle cx="901.7" cy="1136.7" r="6.4"/>
<circle cx="893.7" cy="1150.4" r="6.4"/>
<circle cx="887.0" cy="1099.0" r="6.4"/>
<circle cx="886.4" cy="1139.6" r="6.4"/>
<circle cx="894.7" cy="1164.3" r="6.4"/>
<circle cx="895.1" cy="1160.5" r="6.4"/>
<circle cx="882.9" cy="1127.2" r="6.4"/>
<circle cx="891.5" cy="1143.4" r="6.4"/>
<circle cx="901.7" cy="1091.9" r="6.4"/>
<circle cx="899.2" cy="1122.2" r="6.4"/>
<circle cx="883.8" cy="1184.9" r="6.4"/>
<circle cx="883.5" cy="1134.2" r="6.4"/>
<circle cx="900.9" cy="1122.7" r="6.4"/>
<circle cx="904.0" cy="1148.5" r="6.4"/>
<circle cx="894.5" cy="1139.5" r="6.4"/>
<circle cx="899.6" cy="1120.9" r="6.4"/>
<circle cx="882.4" cy="1139.4" r="6.4"/>
<circle cx="881.4" cy="1165.9" r="6.4"/>
<circle cx="895.3" cy="1142.8" r="6.4"/>
<circle cx="898.0" cy="1161.7" r="6.4"/>
<circle cx="891.2" cy="1169.0" r="6.4"/>
<circle cx="901.9" cy="1110.1" r="6.4"/>
<circle cx="894.5" cy="1189.7" r="6.4"/>
<circle cx="885.0" cy="1106.9" r="6.4"/>
<circle cx="898.9" cy="1109.3" r="6.4"/>
<circle cx="897.3" cy="1179.8" r="6.4"/>
<circle cx="900.8" cy="1157.8" r="6.4"/>
<circle cx="898.7" cy="1157.2" r="6.4"/>
<circle cx="903.8" cy="1135.4" r="6.4"/>
<circle cx="895.5" cy="1128.2" r="6.4"/>
<circle cx="883.4" cy="1085.4" r="6.4"/>
<circle cx="883.7" cy="1120.7" r="6.4"/>
<circle cx="903.2" cy="1126.6" r="6.4"/>
<circle cx="885.6" cy="1116.5" r="6.4"/>
<circle cx="891.7" cy="1157.8" r="6.4"/>
<circle cx="883.7" cy="1103.3" r="6.4"/>
<circle cx="881.5" cy="1178.4" r="6.4"/>
<circle cx="885.4" cy="1171.5" r="6.4"/>
<circle cx="894.3" cy="1125.6" r="6.4"/>
<circle cx="890.1" cy="1181.3" r="6.4"/>
<circle cx="884.5" cy="1163.4" r="6.4"/>
<circle cx="897.5" cy="1110.7" r="6.4"/>
<circle cx="900.4" cy="1141.7" r="6.4"/>
<circle cx="889.2" cy="1135.4" r="6.4"/>
<circle cx="884.6" cy="1076.1" r="6.4"/>
<circle cx="900.2" cy="1136.3" r="6.4"/>
<circle cx="881.9" cy="1159.9" r="6.4"/>
<circle cx="897.3" cy="1187.5" r="6.4"/>
<circle cx="890.4" cy="1119.6" r="6.4"/>
<circle cx="901.3" cy="1139.7" r="6.4"/>
<circle cx="890.4" cy="1165.8" r="6.4"/>
<circle cx="882.8" cy="1107.5" r="6.4"/>
<circle cx="888.9" cy="1150.4" r="6.4"/>
<circle cx="882.0" cy="1150.7" r="6.4"/>
<circle cx="892.2" cy="1161.9" r="6.4"/>
<circle cx="894.8" cy="1115.6" r="6.4"/>
<circle cx="881.1" cy="1155.2" r="6.4"/>
<circle cx="894.9" cy="1133.9" r="6.4"/>
<circle cx="892.0" cy="1142.3" r="6.4"/>
<circle cx="904.7" cy="1153.2" r="6.4"/>
<circle cx="897.1" cy="1141.7" r="6.4"/>
<circle cx="887.5" cy="1131.8" r="6.4"/>
<circle cx="887.3" cy="1171.9" r="6.4"/>
<circle cx="904.8" cy="1123.8" r="6.4"/>
<circle cx="881.8" cy="1089.2" r="6.4"/>
<circle cx="901.9" cy="1117.9" r="6.4"/>
<circle cx="899.6" cy="1108.5" r="6.4"/>
<circle cx="889.7" cy="1105.4" r="6.4"/>
<circle cx="887.8" cy="1154.1" r="6.4"/>
<circle cx="903.5" cy="1078.5" r="6.4"/>
<circle cx="897.4" cy="1120.1" r="6.4"/>
<circle cx="898.7" cy="1185.0" r="6.4"/>
<circle cx="893.2" cy="1118.6" r="6.4"/>
<circle cx="894.2" cy="1116.1" r="6.4"/>
<circle cx="890.7" cy="1162.3" r="6.4"/>
<circle cx="888.8" cy="1147.1" r="6.4"/>
<circle cx="904.7" cy="1108.5" r="6.4"/>
<circle cx="886.8" cy="1140.3" r="6.4"/>
<circle cx="886.6" cy="1127.5" r="6.4"/>
<circle cx="881.2" cy="1150.1" r="6.4"/>
<circle cx="901.9" cy="1105.8" r="6.4"/>
<circle cx="894.6" cy="1146.5" r="6.4"/>
<circle cx="888.3" cy="1142.4" r="6.4"/>
<circle cx="888.2" cy="1146.7" r="6.4"/>
<circle cx="888.4" cy="1131.4" r="6.4"/>
<circle cx="903.5" cy="1099.4" r="6.4"/>
<circle cx="889.2" cy="1171.9" r="6.4"/>
<circle cx="882.9" cy="1118.1" r="6.4"/>
<circle cx="889.6" cy="1094.0" r="6.4"/>
<circle cx="899.6" cy="1082.6" r="6.4"/>
<circle cx="882.6" cy="1163.3" r="6.4"/>
<circle cx="892.6" cy="1156.4" r="6.4"/>
<circle cx="887.2" cy="1122.7" r="6.4"/>
<circle cx="881.6" cy="1149.1" r="6.4"/>
<circle cx="897.9" cy="1157.4" r="6.4"/>
<circle cx="886.2" cy="1120.8" r="6.4"/>
<circle cx="895.5" cy="1148.8" r="6.4"/>
<circle cx="901.7" cy="1125.1" r="6.4"/>
<circle cx="898.6" cy="1121.1" r="6.4"/>
<circle cx="904.1" cy="1127.2" r="6.4"/>
<circle cx="900.4" cy="1129.8" r="6.4"/>
<circle cx="902.0" cy="1128.2" r="6.4"/>
<circle cx="885.5" cy="1150.7" r="6.4"/>
<circle cx="893.9" cy="1167.4" r="6.4"/>
<circle cx="932.5" cy="1104.8" r="6.4"/>
<circle cx="909.8" cy="1110.7" r="6.4"/>
<circle cx="923.8" cy="1166.8" r="6.4"/>
<circle cx="916.0" cy="1120.2" r="6.4"/>
<circle cx="904.8" cy="1109.5" r="6.4"/>
<circle cx="916.3" cy="1163.7" r="6.4"/>
<circle cx="913.7" cy="1139.9" r="6.4"/>
<circle cx="918.8" cy="1114.3" r="6.4"/>
<circle cx="917.8" cy="1118.9" r="6.4"/>
<circle cx="903.4" cy="1158.7" r="6.4"/>
<circle cx="934.6" cy="1115.4" r="6.4"/>
<circle cx="904.8" cy="1099.7" r="6.4"/>
<circle cx="913.5" cy="1103.7" r="6.4"/>
<circle cx="906.0" cy="1137.7" r="6.4"/>
<circle cx="927.6" cy="1141.5" r="6.4"/>
<circle cx="905.9" cy="1140.3" r="6.4"/>
<circle cx="920.2" cy="1105.9" r="6.4"/>
<circle cx="921.8" cy="1095.6" r="6.4"/>
<circle cx="922.3" cy="1117.6" r="6.4"/>
<circle cx="913.6" cy="1128.9" r="6.4"/>
<circle cx="925.8" cy="1110.7" r="6.4"/>
<circle cx="927.4" cy="1133.5" r="6.4"/>
<circle cx="927.7" cy="1108.8" r="6.4"/>
<circle cx="934.3" cy="1110.7" r="6.4"/>
<circle cx="919.7" cy="1135.9" r="6.4"/>
<circle cx="933.1" cy="1132.3" r="6.4"/>
<circle cx="918.2" cy="1132.5" r="6.4"/>
<circle cx="924.0" cy="1133.6" r="6.4"/>
<circle cx="934.7" cy="1106.6" r="6.4"/>
<circle cx="910.3" cy="1130.4" r="6.4"/>
<circle cx="903.9" cy="1119.2" r="6.4"/>
<circle cx="907.3" cy="1157.4" r="6.4"/>
<circle cx="920.8" cy="1140.9" r="6.4"/>
<circle cx="908.8" cy="1152.2" r="6.4"/>
<circle cx="907.8" cy="1121.2" r="6.4"/>
<circle cx="908.7" cy="1125.7" r="6.4"/>
<circle cx="903.9" cy="1133.3" r="6.4"/>
<circle cx="934.4" cy="1111.7" r="6.4"/>
<circle cx="919.0" cy="1114.9" r="6.4"/>
<circle cx="928.6" cy="1112.7" r="6.4"/>
<circle cx="917.7" cy="1105.8" r="6.4"/>
<circle cx="906.4" cy="1178.3" r="6.4"/>
<circle cx="926.5" cy="1163.0" r="6.4"/>
<circle cx="915.9" cy="1144.4" r="6.4"/>
<circle cx="930.6" cy="1160.0" r="6.4"/>
</g>
<g fill="none" stroke="#f00" stroke-width="1.45">
<circle cx="1542.5" cy="926.6" r="6.4"/>
<circle cx="1533.2" cy="980.8" r="6.4"/>
<circle cx="1534.8" cy="993.9" r="6.4"/>
<circle cx="1561.5" cy="975.2" r="6.4"/>
<circle cx="1643.1" cy="983.4" r="6.4"/>
<circle cx="1609.0" cy="996.3" r="6.4"/>
<circle cx="1610.6" cy="1005.9" r="6.4"/>
<circle cx="1546.8" cy="1022.3" r="6.4"/>
<circle cx="1627.8" cy="1023.5" r="6.4"/>
<circle cx="1625.7" cy="1033.1" r="6.4"/>
<circle cx="1643.6" cy="1031.5" r="6.4"/>
<circle cx="1561.5" cy="1037.3" r="6.4"/>
<circle cx="1588.4" cy="1037.6" r="6.4"/>
<circle cx="1669.3" cy="1250.0" r="6.4"/>
<circle cx="1639.7" cy="1290.1" r="6.4"/>
<circle cx="1591.4" cy="1242.6" r="6.4"/>
<circle cx="1541.3" cy="1241.1" r="6.4"/>
<circle cx="1539.0" cy="1247.3" r="6.4"/>
<circle cx="1529.7" cy="1256.5" r="6.4"/>
<circle cx="1548.2" cy="1269.2" r="6.4"/>
<circle cx="1535.6" cy="1282.7" r="6.4"/>
<circle cx="1944.7" cy="972.6" r="6.4"/>
<circle cx="1778.6" cy="1055.3" r="6.4"/>
<circle cx="1829.4" cy="1065.6" r="6.4"/>
<circle cx="1895.5" cy="1074.1" r="6.4"/>
<circle cx="1871.3" cy="1083.8" r="6.4"/>
<circle cx="1872.4" cy="1084.9" r="6.4"/>
<circle cx="1912.7" cy="1086.0" r="6.4"/>
<circle cx="1922.2" cy="1085.5" r="6.4"/>
<circle cx="1959.9" cy="1085.5" r="6.4"/>
<circle cx="1947.5" cy="1098.4" r="6.4"/>
<circle cx="1962.9" cy="1100.5" r="6.4"/>
<circle cx="1915.7" cy="1105.3" r="6.4"/>
<circle cx="1769.3" cy="1083.8" r="6.4"/>
<circle cx="1779.6" cy="1090.2" r="6.4"/>
<circle cx="1776.2" cy="1097.8" r="6.4"/>
<circle cx="1788.7" cy="1096.3" r="6.4"/>
<circle cx="1745.3" cy="1093.0" r="6.4"/>
<circle cx="1824.1" cy="1096.3" r="6.4"/>
<circle cx="1825.1" cy="1099.3" r="6.4"/>
<circle cx="1757.5" cy="1118.1" r="6.4"/>
<circle cx="1773.6" cy="1113.4" r="6.4"/>
<circle cx="1773.6" cy="1117.1" r="6.4"/>
<circle cx="1762.5" cy="1125.7" r="6.4"/>
<circle cx="1761.8" cy="1133.2" r="6.4"/>
<circle cx="1776.9" cy="1123.5" r="6.4"/>
<circle cx="1782.2" cy="1125.7" r="6.4"/>
<circle cx="1786.5" cy="1128.9" r="6.4"/>
<circle cx="1798.3" cy="1133.6" r="6.4"/>
<circle cx="1833.3" cy="1114.9" r="6.4"/>
<circle cx="1844.5" cy="1117.1" r="6.4"/>
<circle cx="1852.0" cy="1111.7" r="6.4"/>
<circle cx="1860.6" cy="1103.8" r="6.4"/>
<circle cx="1824.7" cy="1127.2" r="6.4"/>
<circle cx="1817.6" cy="1136.4" r="6.4"/>
<circle cx="1823.0" cy="1137.0" r="6.4"/>
<circle cx="1847.7" cy="1138.5" r="6.4"/>
<circle cx="1858.4" cy="1130.0" r="6.4"/>
<circle cx="1862.7" cy="1126.3" r="6.4"/>
<circle cx="1878.8" cy="1133.6" r="6.4"/>
<circle cx="1886.3" cy="1130.0" r="6.4"/>
<circle cx="1895.5" cy="1114.9" r="6.4"/>
<circle cx="1896.4" cy="1118.1" r="6.4"/>
<circle cx="1902.4" cy="1130.0" r="6.4"/>
<circle cx="1896.4" cy="1135.8" r="6.4"/>
<circle cx="1898.6" cy="1131.5" r="6.4"/>
<circle cx="1926.7" cy="1130.0" r="6.4"/>
<circle cx="1930.3" cy="1116.4" r="6.4"/>
<circle cx="1934.6" cy="1116.0" r="6.4"/>
<circle cx="1944.3" cy="1116.0" r="6.4"/>
<circle cx="1947.5" cy="1111.7" r="6.4"/>
<circle cx="1952.9" cy="1112.8" r="6.4"/>
<circle cx="1957.8" cy="1132.7" r="6.4"/>
<circle cx="1953.9" cy="1142.8" r="6.4"/>
<circle cx="1944.3" cy="1146.1" r="6.4"/>
<circle cx="1946.4" cy="1145.0" r="6.4"/>
<circle cx="1745.7" cy="1135.3" r="6.4"/>
<circle cx="1749.0" cy="1146.1" r="6.4"/>
<circle cx="1751.1" cy="1140.7" r="6.4"/>
<circle cx="1754.3" cy="1138.5" r="6.4"/>
<circle cx="1762.9" cy="1143.9" r="6.4"/>
<circle cx="1767.2" cy="1149.3" r="6.4"/>
<circle cx="1775.8" cy="1147.1" r="6.4"/>
<circle cx="1781.1" cy="1145.6" r="6.4"/>
<circle cx="1773.2" cy="1155.3" r="6.4"/>
<circle cx="1811.2" cy="1151.4" r="6.4"/>
<circle cx="1830.5" cy="1146.5" r="6.4"/>
<circle cx="1826.2" cy="1155.1" r="6.4"/>
<circle cx="1827.7" cy="1156.8" r="6.4"/>
<circle cx="1854.8" cy="1150.8" r="6.4"/>
<circle cx="1858.8" cy="1159.4" r="6.4"/>
<circle cx="1806.9" cy="1163.7" r="6.4"/>
<circle cx="1845.5" cy="1170.7" r="6.4"/>
<circle cx="1876.7" cy="1169.7" r="6.4"/>
<circle cx="1871.3" cy="1179.3" r="6.4"/>
<circle cx="1895.5" cy="1153.6" r="6.4"/>
<circle cx="1893.8" cy="1160.0" r="6.4"/>
<circle cx="1899.8" cy="1163.2" r="6.4"/>
<circle cx="1911.4" cy="1167.5" r="6.4"/>
<circle cx="1915.3" cy="1165.8" r="6.4"/>
<circle cx="1923.9" cy="1157.9" r="6.4"/>
<circle cx="1931.4" cy="1158.5" r="6.4"/>
<circle cx="1925.6" cy="1165.4" r="6.4"/>
<circle cx="1926.5" cy="1171.8" r="6.4"/>
<circle cx="1964.2" cy="1163.2" r="6.4"/>
<circle cx="1968.5" cy="1169.2" r="6.4"/>
<circle cx="1752.2" cy="1178.2" r="6.4"/>
<circle cx="1757.5" cy="1176.1" r="6.4"/>
<circle cx="1761.8" cy="1185.8" r="6.4"/>
<circle cx="1785.9" cy="1174.0" r="6.4"/>
<circle cx="1782.2" cy="1180.4" r="6.4"/>
<circle cx="1788.7" cy="1180.4" r="6.4"/>
<circle cx="1790.4" cy="1183.6" r="6.4"/>
<circle cx="1805.8" cy="1183.6" r="6.4"/>
<circle cx="1915.3" cy="1195.8" r="6.4"/>
<circle cx="1947.5" cy="1200.8" r="6.4"/>
<circle cx="1967.5" cy="1210.0" r="6.4"/>
<circle cx="1852.0" cy="1213.0" r="6.4"/>
<circle cx="1842.3" cy="1222.2" r="6.4"/>
<circle cx="1844.5" cy="1226.5" r="6.4"/>
<circle cx="1884.6" cy="1212.2" r="6.4"/>
<circle cx="1898.1" cy="1214.3" r="6.4"/>
<circle cx="1906.1" cy="1210.9" r="6.4"/>
<circle cx="1967.5" cy="1248.0" r="6.4"/>
<circle cx="1547.8" cy="1269.4" r="6.4"/>
<circle cx="1535.6" cy="1282.9" r="6.4"/>
<circle cx="1639.6" cy="1290.4" r="6.4"/>
<circle cx="1759.7" cy="1295.4" r="6.4"/>
<circle cx="1523.8" cy="1042.7" r="6.4"/>
<circle cx="1528.5" cy="1042.0" r="6.4"/>
<circle cx="1561.4" cy="1040.7" r="6.4"/>
<circle cx="1588.9" cy="1040.7" r="6.4"/>
<circle cx="1616.4" cy="1043.4" r="6.4"/>
<circle cx="1651.2" cy="1048.7" r="6.4"/>
<circle cx="1688.8" cy="1056.8" r="6.4"/>
<circle cx="1548.6" cy="1051.4" r="6.4"/>
<circle cx="1556.7" cy="1050.7" r="6.4"/>
<circle cx="1551.3" cy="1058.8" r="6.4"/>
<circle cx="1556.7" cy="1060.1" r="6.4"/>
<circle cx="1566.1" cy="1058.8" r="6.4"/>
<circle cx="1548.6" cy="1066.8" r="6.4"/>
<circle cx="1560.7" cy="1068.8" r="6.4"/>
<circle cx="1568.1" cy="1071.5" r="6.4"/>
<circle cx="1535.2" cy="1074.2" r="6.4"/>
<circle cx="1539.9" cy="1078.2" r="6.4"/>
<circle cx="1548.6" cy="1074.9" r="6.4"/>
<circle cx="1586.2" cy="1072.2" r="6.4"/>
<circle cx="1601.0" cy="1061.5" r="6.4"/>
<circle cx="1629.8" cy="1058.8" r="6.4"/>
<circle cx="1609.7" cy="1078.9" r="6.4"/>
<circle cx="1613.0" cy="1080.2" r="6.4"/>
<circle cx="1615.7" cy="1083.6" r="6.4"/>
<circle cx="1605.0" cy="1083.6" r="6.4"/>
<circle cx="1635.2" cy="1078.2" r="6.4"/>
<circle cx="1635.2" cy="1086.3" r="6.4"/>
<circle cx="1676.7" cy="1085.6" r="6.4"/>
<circle cx="1685.5" cy="1091.0" r="6.4"/>
<circle cx="1693.5" cy="1091.6" r="6.4"/>
<circle cx="1701.5" cy="1072.9" r="6.4"/>
<circle cx="1708.3" cy="1074.9" r="6.4"/>
<circle cx="1715.6" cy="1072.2" r="6.4"/>
<circle cx="1724.3" cy="1079.6" r="6.4"/>
<circle cx="1737.8" cy="1092.3" r="6.4"/>
<circle cx="1743.8" cy="1092.3" r="6.4"/>
<circle cx="1527.2" cy="1094.3" r="6.4"/>
<circle cx="1544.6" cy="1091.6" r="6.4"/>
<circle cx="1555.4" cy="1089.0" r="6.4"/>
<circle cx="1591.6" cy="1084.3" r="6.4"/>
<circle cx="1595.6" cy="1088.3" r="6.4"/>
<circle cx="1591.6" cy="1096.3" r="6.4"/>
<circle cx="1588.9" cy="1101.7" r="6.4"/>
<circle cx="1594.2" cy="1104.4" r="6.4"/>
<circle cx="1596.9" cy="1107.1" r="6.4"/>
<circle cx="1609.0" cy="1105.7" r="6.4"/>
<circle cx="1605.0" cy="1095.0" r="6.4"/>
<circle cx="1625.8" cy="1099.0" r="6.4"/>
<circle cx="1631.8" cy="1097.7" r="6.4"/>
<circle cx="1646.6" cy="1093.6" r="6.4"/>
<circle cx="1653.3" cy="1092.3" r="6.4"/>
<circle cx="1658.6" cy="1095.0" r="6.4"/>
<circle cx="1664.0" cy="1100.4" r="6.4"/>
<circle cx="1677.4" cy="1103.7" r="6.4"/>
<circle cx="1685.5" cy="1096.3" r="6.4"/>
<circle cx="1688.1" cy="1100.4" r="6.4"/>
<circle cx="1689.5" cy="1105.7" r="6.4"/>
<circle cx="1727.7" cy="1103.0" r="6.4"/>
<circle cx="1735.7" cy="1113.1" r="6.4"/>
<circle cx="1525.8" cy="1109.7" r="6.4"/>
<circle cx="1541.9" cy="1103.0" r="6.4"/>
<circle cx="1550.0" cy="1104.4" r="6.4"/>
<circle cx="1554.0" cy="1107.1" r="6.4"/>
<circle cx="1559.4" cy="1108.4" r="6.4"/>
<circle cx="1570.1" cy="1097.7" r="6.4"/>
<circle cx="1571.4" cy="1104.4" r="6.4"/>
<circle cx="1567.4" cy="1115.1" r="6.4"/>
<circle cx="1578.2" cy="1116.4" r="6.4"/>
<circle cx="1583.5" cy="1119.1" r="6.4"/>
<circle cx="1591.6" cy="1115.1" r="6.4"/>
<circle cx="1594.2" cy="1121.8" r="6.4"/>
<circle cx="1605.0" cy="1121.8" r="6.4"/>
<circle cx="1621.1" cy="1120.5" r="6.4"/>
<circle cx="1635.8" cy="1107.1" r="6.4"/>
<circle cx="1642.5" cy="1105.7" r="6.4"/>
<circle cx="1637.2" cy="1113.8" r="6.4"/>
<circle cx="1635.8" cy="1120.5" r="6.4"/>
<circle cx="1655.9" cy="1109.7" r="6.4"/>
<circle cx="1660.0" cy="1104.4" r="6.4"/>
<circle cx="1651.9" cy="1112.4" r="6.4"/>
<circle cx="1666.7" cy="1115.1" r="6.4"/>
<circle cx="1674.7" cy="1117.8" r="6.4"/>
<circle cx="1669.4" cy="1123.2" r="6.4"/>
<circle cx="1692.2" cy="1119.1" r="6.4"/>
<circle cx="1704.2" cy="1119.1" r="6.4"/>
<circle cx="1714.3" cy="1120.5" r="6.4"/>
<circle cx="1661.3" cy="1125.8" r="6.4"/>
<circle cx="1642.5" cy="1128.5" r="6.4"/>
<circle cx="1682.8" cy="1128.5" r="6.4"/>
<circle cx="1523.2" cy="1120.5" r="6.4"/>
<circle cx="1529.9" cy="1123.2" r="6.4"/>
<circle cx="1539.3" cy="1117.8" r="6.4"/>
<circle cx="1546.0" cy="1115.1" r="6.4"/>
<circle cx="1554.0" cy="1117.8" r="6.4"/>
<circle cx="1560.7" cy="1121.8" r="6.4"/>
<circle cx="1525.8" cy="1131.2" r="6.4"/>
<circle cx="1535.2" cy="1128.5" r="6.4"/>
<circle cx="1543.3" cy="1133.9" r="6.4"/>
<circle cx="1551.3" cy="1132.5" r="6.4"/>
<circle cx="1559.4" cy="1131.2" r="6.4"/>
<circle cx="1567.4" cy="1132.5" r="6.4"/>
<circle cx="1574.1" cy="1136.6" r="6.4"/>
<circle cx="1582.2" cy="1136.6" r="6.4"/>
<circle cx="1588.9" cy="1133.9" r="6.4"/>
<circle cx="1595.6" cy="1128.5" r="6.4"/>
<circle cx="1596.9" cy="1133.9" r="6.4"/>
<circle cx="1605.0" cy="1133.9" r="6.4"/>
<circle cx="1611.7" cy="1133.9" r="6.4"/>
<circle cx="1619.7" cy="1139.2" r="6.4"/>
<circle cx="1627.8" cy="1133.9" r="6.4"/>
<circle cx="1637.2" cy="1132.5" r="6.4"/>
<circle cx="1639.8" cy="1136.6" r="6.4"/>
<circle cx="1647.9" cy="1140.6" r="6.4"/>
<circle cx="1665.3" cy="1135.2" r="6.4"/>
<circle cx="1676.1" cy="1137.9" r="6.4"/>
<circle cx="1685.5" cy="1133.9" r="6.4"/>
<circle cx="1688.1" cy="1140.6" r="6.4"/>
<circle cx="1690.8" cy="1147.3" r="6.4"/>
<circle cx="1701.5" cy="1137.9" r="6.4"/>
<circle cx="1709.6" cy="1131.2" r="6.4"/>
<circle cx="1715.0" cy="1136.6" r="6.4"/>
<circle cx="1717.6" cy="1141.9" r="6.4"/>
<circle cx="1708.3" cy="1147.3" r="6.4"/>
<circle cx="1700.2" cy="1152.7" r="6.4"/>
<circle cx="1712.3" cy="1154.0" r="6.4"/>
<circle cx="1737.8" cy="1144.6" r="6.4"/>
<circle cx="1744.5" cy="1136.6" r="6.4"/>
<circle cx="1744.5" cy="1143.3" r="6.4"/>
<circle cx="1527.2" cy="1140.6" r="6.4"/>
<circle cx="1536.6" cy="1141.9" r="6.4"/>
<circle cx="1546.0" cy="1139.2" r="6.4"/>
<circle cx="1554.0" cy="1143.3" r="6.4"/>
<circle cx="1564.7" cy="1141.9" r="6.4"/>
<circle cx="1570.1" cy="1146.0" r="6.4"/>
<circle cx="1525.8" cy="1151.3" r="6.4"/>
<circle cx="1535.2" cy="1150.0" r="6.4"/>
<circle cx="1544.6" cy="1148.6" r="6.4"/>
<circle cx="1552.7" cy="1151.3" r="6.4"/>
<circle cx="1559.4" cy="1154.0" r="6.4"/>
<circle cx="1566.1" cy="1155.3" r="6.4"/>
<circle cx="1582.2" cy="1158.0" r="6.4"/>
<circle cx="1590.2" cy="1158.0" r="6.4"/>
<circle cx="1599.6" cy="1156.7" r="6.4"/>
<circle cx="1614.4" cy="1155.3" r="6.4"/>
<circle cx="1614.4" cy="1156.7" r="6.4"/>
<circle cx="1657.3" cy="1150.0" r="6.4"/>
<circle cx="1668.0" cy="1147.3" r="6.4"/>
<circle cx="1672.0" cy="1155.3" r="6.4"/>
<circle cx="1649.2" cy="1155.3" r="6.4"/>
<circle cx="1645.2" cy="1158.0" r="6.4"/>
<circle cx="1638.5" cy="1163.4" r="6.4"/>
<circle cx="1633.1" cy="1166.1" r="6.4"/>
<circle cx="1665.3" cy="1159.4" r="6.4"/>
<circle cx="1670.7" cy="1158.0" r="6.4"/>
<circle cx="1682.8" cy="1163.4" r="6.4"/>
<circle cx="1692.2" cy="1166.1" r="6.4"/>
<circle cx="1697.5" cy="1168.8" r="6.4"/>
<circle cx="1709.6" cy="1168.8" r="6.4"/>
<circle cx="1716.3" cy="1167.4" r="6.4"/>
<circle cx="1723.0" cy="1167.4" r="6.4"/>
<circle cx="1727.0" cy="1158.0" r="6.4"/>
<circle cx="1731.1" cy="1166.1" r="6.4"/>
<circle cx="1736.4" cy="1167.4" r="6.4"/>
<circle cx="1731.1" cy="1175.5" r="6.4"/>
<circle cx="1736.4" cy="1186.2" r="6.4"/>
<circle cx="1705.6" cy="1178.1" r="6.4"/>
<circle cx="1704.9" cy="1192.9" r="6.4"/>
<circle cx="1727.7" cy="1202.3" r="6.4"/>
<circle cx="1677.4" cy="1198.3" r="6.4"/>
<circle cx="1659.3" cy="1197.6" r="6.4"/>
<circle cx="1664.7" cy="1217.0" r="6.4"/>
<circle cx="1624.4" cy="1188.9" r="6.4"/>
<circle cx="1623.8" cy="1176.1" r="6.4"/>
<circle cx="1633.1" cy="1178.1" r="6.4"/>
<circle cx="1633.1" cy="1177.5" r="6.4"/>
<circle cx="1588.9" cy="1182.2" r="6.4"/>
<circle cx="1575.5" cy="1184.8" r="6.4"/>
<circle cx="1583.5" cy="1213.0" r="6.4"/>
<circle cx="1599.6" cy="1219.7" r="6.4"/>
<circle cx="1610.3" cy="1213.0" r="6.4"/>
<circle cx="1599.6" cy="1227.8" r="6.4"/>
<circle cx="1607.7" cy="1233.1" r="6.4"/>
<circle cx="1591.6" cy="1239.8" r="6.4"/>
<circle cx="1566.1" cy="1223.7" r="6.4"/>
<circle cx="1558.0" cy="1237.2" r="6.4"/>
<circle cx="1546.0" cy="1225.1" r="6.4"/>
<circle cx="1539.3" cy="1219.7" r="6.4"/>
<circle cx="1528.5" cy="1227.8" r="6.4"/>
<circle cx="1528.5" cy="1234.5" r="6.4"/>
<circle cx="1541.9" cy="1238.5" r="6.4"/>
<circle cx="1545.8" cy="1181.9" r="6.4"/>
<circle cx="1530.7" cy="1167.5" r="6.4"/>
<circle cx="1541.8" cy="1165.0" r="6.4"/>
<circle cx="1544.6" cy="1166.9" r="6.4"/>
<circle cx="1541.0" cy="1167.0" r="6.4"/>
<circle cx="1522.1" cy="1154.4" r="6.4"/>
<circle cx="1562.6" cy="1169.2" r="6.4"/>
<circle cx="1546.4" cy="1179.2" r="6.4"/>
<circle cx="1550.0" cy="1172.4" r="6.4"/>
<circle cx="1529.8" cy="1166.2" r="6.4"/>
<circle cx="1536.7" cy="1175.6" r="6.4"/>
<circle cx="1546.6" cy="1155.2" r="6.4"/>
<circle cx="1526.1" cy="1172.2" r="6.4"/>
<circle cx="1553.1" cy="1152.7" r="6.4"/>
<circle cx="1547.0" cy="1171.0" r="6.4"/>
<circle cx="1530.7" cy="1191.6" r="6.4"/>
<circle cx="1536.9" cy="1190.8" r="6.4"/>
<circle cx="1550.7" cy="1192.4" r="6.4"/>
<circle cx="1536.2" cy="1177.4" r="6.4"/>
<circle cx="1546.9" cy="1172.0" r="6.4"/>
<circle cx="1538.1" cy="1163.9" r="6.4"/>
<circle cx="1531.4" cy="1151.7" r="6.4"/>
<circle cx="1552.0" cy="1160.8" r="6.4"/>
<circle cx="1534.7" cy="1168.1" r="6.4"/>
<circle cx="1550.9" cy="1164.8" r="6.4"/>
<circle cx="1532.7" cy="1157.3" r="6.4"/>
<circle cx="1534.8" cy="1160.9" r="6.4"/>
<circle cx="1538.4" cy="1156.0" r="6.4"/>
<circle cx="1551.9" cy="1176.1" r="6.4"/>
<circle cx="1542.1" cy="1174.3" r="6.4"/>
<circle cx="1542.2" cy="1173.9" r="6.4"/>
<circle cx="1547.3" cy="1177.8" r="6.4"/>
<circle cx="1546.8" cy="1160.1" r="6.4"/>
<circle cx="1535.0" cy="1157.5" r="6.4"/>
<circle cx="1543.4" cy="1175.7" r="6.4"/>
<circle cx="1530.9" cy="1172.8" r="6.4"/>
<circle cx="1558.0" cy="1180.4" r="6.4"/>
<circle cx="1525.2" cy="1164.9" r="6.4"/>
<circle cx="1545.0" cy="1103.3" r="6.4"/>
<circle cx="1537.5" cy="1124.4" r="6.4"/>
<circle cx="1549.9" cy="1126.7" r="6.4"/>
<circle cx="1548.3" cy="1100.5" r="6.4"/>
<circle cx="1559.4" cy="1131.3" r="6.4"/>
<circle cx="1554.5" cy="1126.3" r="6.4"/>
<circle cx="1559.5" cy="1147.2" r="6.4"/>
<circle cx="1565.7" cy="1134.5" r="6.4"/>
<circle cx="1549.6" cy="1115.3" r="6.4"/>
<circle cx="1550.3" cy="1146.7" r="6.4"/>
<circle cx="1549.2" cy="1118.5" r="6.4"/>
<circle cx="1549.9" cy="1106.9" r="6.4"/>
<circle cx="1569.9" cy="1100.3" r="6.4"/>
<circle cx="1556.7" cy="1144.5" r="6.4"/>
<circle cx="1544.7" cy="1129.3" r="6.4"/>
<circle cx="1548.8" cy="1111.6" r="6.4"/>
<circle cx="1542.7" cy="1105.6" r="6.4"/>
<circle cx="1564.7" cy="1137.6" r="6.4"/>
<circle cx="1566.9" cy="1102.4" r="6.4"/>
<circle cx="1559.6" cy="1115.6" r="6.4"/>
<circle cx="1558.0" cy="1126.3" r="6.4"/>
<circle cx="1546.7" cy="1146.6" r="6.4"/>
<circle cx="1536.0" cy="1135.8" r="6.4"/>
<circle cx="1565.0" cy="1124.5" r="6.4"/>
<circle cx="1556.1" cy="1147.7" r="6.4"/>
<circle cx="1544.0" cy="1130.2" r="6.4"/>
<circle cx="1561.3" cy="1118.2" r="6.4"/>
<circle cx="1560.2" cy="1118.9" r="6.4"/>
<circle cx="1546.3" cy="1186.8" r="6.4"/>
<circle cx="1553.9" cy="1169.3" r="6.4"/>
<circle cx="1551.4" cy="1182.6" r="6.4"/>
<circle cx="1531.2" cy="1186.8" r="6.4"/>
<circle cx="1533.2" cy="1204.5" r="6.4"/>
<circle cx="1543.7" cy="1193.3" r="6.4"/>
<circle cx="1546.1" cy="1178.6" r="6.4"/>
<circle cx="1531.1" cy="1158.5" r="6.4"/>
<circle cx="1566.4" cy="1181.7" r="6.4"/>
<circle cx="1546.2" cy="1181.6" r="6.4"/>
<circle cx="1560.7" cy="1164.3" r="6.4"/>
<circle cx="1528.6" cy="1199.3" r="6.4"/>
<circle cx="1543.0" cy="1188.4" r="6.4"/>
<circle cx="1561.4" cy="1203.6" r="6.4"/>
</g>
<g stroke="#262626" stroke-width="1.5" fill="none">
<rect x="164.8" y="133.8" width="501.1" height="527.0"/>
<path d="M194.4 660.8v-5.5M194.4 133.8v5.5M304.7 660.8v-5.5M304.7 133.8v5.5M415.0 660.8v-5.5M415.0 133.8v5.5M525.3 660.8v-5.5M525.3 133.8v5.5M635.6 660.8v-5.5M635.6 133.8v5.5M164.8 133.80h5.5M665.9 133.80h-5.5M164.8 265.55h5.5M665.9 265.55h-5.5M164.8 397.30h5.5M665.9 397.30h-5.5M164.8 529.05h5.5M665.9 529.05h-5.5M164.8 660.80h5.5M665.9 660.80h-5.5"/>
</g>
<g font-size="35.5">
<text x="193.7" y="706.8" text-anchor="middle" textLength="50.41" lengthAdjust="spacing">-35</text>
<text x="304.0" y="706.8" text-anchor="middle" textLength="78.92" lengthAdjust="spacing">-17.5</text>
<text x="414.3" y="706.8" text-anchor="middle">0</text>
<text x="524.6" y="706.8" text-anchor="middle" textLength="67.99" lengthAdjust="spacing">17.5</text>
<text x="634.9" y="706.8" text-anchor="middle">35</text>
<text x="153.6" y="148.1" text-anchor="end">25</text>
<text x="153.6" y="279.9" text-anchor="end" textLength="67.99" lengthAdjust="spacing">12.5</text>
<text x="153.6" y="411.6" text-anchor="end">0</text>
<text x="153.6" y="543.3" text-anchor="end" textLength="78.92" lengthAdjust="spacing">-12.5</text>
<text x="153.6" y="675.1" text-anchor="end" textLength="50.41" lengthAdjust="spacing">-25</text>
</g>
<text id="tA" x="414.9" y="117.1" text-anchor="middle" font-size="39.5" font-weight="bold" textLength="214.35" lengthAdjust="spacingAndGlyphs">MAE = 0.76°</text>
<text id="yA" transform="translate(58.8,397.8) rotate(-90)" text-anchor="middle" font-size="37.8" textLength="134.90" lengthAdjust="spacingAndGlyphs">Error (°)</text>
<text x="0.3" y="118.9" font-size="44.5">A</text>
<g stroke="#262626" stroke-width="1.5" fill="none">
<rect x="828.4" y="133.7" width="500.8" height="527.1"/>
<path d="M871.9 660.8v-5.5M871.9 133.7v5.5M980.8 660.8v-5.5M980.8 133.7v5.5M1089.8 660.8v-5.5M1089.8 133.7v5.5M1198.7 660.8v-5.5M1198.7 133.7v5.5M1307.6 660.8v-5.5M1307.6 133.7v5.5M828.4 133.70h5.5M1329.2 133.70h-5.5M828.4 265.47h5.5M1329.2 265.47h-5.5M828.4 397.25h5.5M1329.2 397.25h-5.5M828.4 529.02h5.5M1329.2 529.02h-5.5M828.4 660.80h5.5M1329.2 660.80h-5.5"/>
</g>
<g font-size="35.5">
<text x="871.2" y="706.8" text-anchor="middle">0</text>
<text x="980.1" y="706.8" text-anchor="middle" textLength="67.99" lengthAdjust="spacing">0.05</text>
<text x="1089.0" y="706.8" text-anchor="middle" textLength="48.25" lengthAdjust="spacing">0.1</text>
<text x="1198.0" y="706.8" text-anchor="middle" textLength="67.99" lengthAdjust="spacing">0.15</text>
<text x="1306.9" y="706.8" text-anchor="middle" textLength="48.25" lengthAdjust="spacing">0.2</text>
<text x="817.2" y="148.0" text-anchor="end" textLength="67.99" lengthAdjust="spacing">0.04</text>
<text x="817.2" y="279.8" text-anchor="end" textLength="67.99" lengthAdjust="spacing">0.02</text>
<text x="817.2" y="411.5" text-anchor="end">0</text>
<text x="817.2" y="543.3" text-anchor="end" textLength="78.92" lengthAdjust="spacing">-0.02</text>
<text x="817.2" y="675.1" text-anchor="end" textLength="78.92" lengthAdjust="spacing">-0.04</text>
</g>
<text id="tC" x="1078.0" y="117.1" text-anchor="middle" font-size="39.5" font-weight="bold" textLength="318.06" lengthAdjust="spacingAndGlyphs">MAE = 0.0027 1/m</text>
<text id="yC" transform="translate(722.7,398.0) rotate(-90)" text-anchor="middle" font-size="37.8" textLength="182.07" lengthAdjust="spacingAndGlyphs">Error (1/m)</text>
<text x="692.6" y="118.9" font-size="44.5">C</text>
<g stroke="#262626" stroke-width="1.5" fill="none">
<rect x="1490.4" y="133.8" width="501.1" height="526.9"/>
<path d="M1502.4 660.7v-5.5M1502.4 133.8v5.5M1621.7 660.7v-5.5M1621.7 133.8v5.5M1740.9 660.7v-5.5M1740.9 133.8v5.5M1860.2 660.7v-5.5M1860.2 133.8v5.5M1979.4 660.7v-5.5M1979.4 133.8v5.5M1490.4 177.75h5.5M1991.5 177.75h-5.5M1490.4 287.50h5.5M1991.5 287.50h-5.5M1490.4 397.25h5.5M1991.5 397.25h-5.5M1490.4 507.00h5.5M1991.5 507.00h-5.5M1490.4 616.75h5.5M1991.5 616.75h-5.5"/>
</g>
<g font-size="35.5">
<text x="1501.7" y="706.7" text-anchor="middle">0</text>
<text x="1621.0" y="706.7" text-anchor="middle">50</text>
<text x="1740.2" y="706.7" text-anchor="middle">100</text>
<text x="1859.5" y="706.7" text-anchor="middle">150</text>
<text x="1978.7" y="706.7" text-anchor="middle">200</text>
<text x="1479.2" y="192.1" text-anchor="end">10</text>
<text x="1479.2" y="301.8" text-anchor="end">5</text>
<text x="1479.2" y="411.6" text-anchor="end">0</text>
<text x="1479.2" y="521.3" text-anchor="end" textLength="30.67" lengthAdjust="spacing">-5</text>
<text x="1479.2" y="631.0" text-anchor="end" textLength="50.41" lengthAdjust="spacing">-10</text>
</g>
<text id="tE" x="1740.1" y="117.1" text-anchor="middle" font-size="39.5" font-weight="bold" textLength="216.39" lengthAdjust="spacingAndGlyphs">MAE = 0.72°</text>
<text id="yE" transform="translate(1413.7,398.6) rotate(-90)" text-anchor="middle" font-size="37.8" textLength="344.93" lengthAdjust="spacingAndGlyphs">Visual angle error (°)</text>
<text x="1393.5" y="118.9" font-size="44.5">E</text>
<g stroke="#262626" stroke-width="1.5" fill="none">
<rect x="162.4" y="898.4" width="501.0" height="478.6"/>
<path d="M192.1 1377.0v-5.5M192.1 898.4v5.5M302.4 1377.0v-5.5M302.4 898.4v5.5M412.8 1377.0v-5.5M412.8 898.4v5.5M523.1 1377.0v-5.5M523.1 898.4v5.5M633.5 1377.0v-5.5M633.5 898.4v5.5M162.4 898.40h5.5M663.4 898.40h-5.5M162.4 1018.05h5.5M663.4 1018.05h-5.5M162.4 1137.70h5.5M663.4 1137.70h-5.5M162.4 1257.35h5.5M663.4 1257.35h-5.5M162.4 1377.00h5.5M663.4 1377.00h-5.5"/>
</g>
<g font-size="35.5">
<text x="191.4" y="1423.0" text-anchor="middle" textLength="50.41" lengthAdjust="spacing">-35</text>
<text x="301.8" y="1423.0" text-anchor="middle" textLength="78.92" lengthAdjust="spacing">-17.5</text>
<text x="412.1" y="1423.0" text-anchor="middle">0</text>
<text x="522.4" y="1423.0" text-anchor="middle" textLength="67.99" lengthAdjust="spacing">17.5</text>
<text x="632.8" y="1423.0" text-anchor="middle">35</text>
<text x="151.2" y="912.7" text-anchor="end">25</text>
<text x="151.2" y="1032.3" text-anchor="end" textLength="67.99" lengthAdjust="spacing">12.5</text>
<text x="151.2" y="1152.0" text-anchor="end">0</text>
<text x="151.2" y="1271.6" text-anchor="end" textLength="78.92" lengthAdjust="spacing">-12.5</text>
<text x="151.2" y="1391.3" text-anchor="end" textLength="50.41" lengthAdjust="spacing">-25</text>
</g>
<text id="tB" x="412.8" y="882.1" text-anchor="middle" font-size="39.5" font-weight="bold" textLength="216.19" lengthAdjust="spacingAndGlyphs">MAE = 4.06°</text>
<text id="yB" transform="translate(56.6,1138.9) rotate(-90)" text-anchor="middle" font-size="37.8" textLength="134.89" lengthAdjust="spacingAndGlyphs">Error (°)</text>
<text id="xB" x="411.7" y="1473" text-anchor="middle" font-size="37.8" textLength="345.36" lengthAdjust="spacingAndGlyphs">Gaze offset angle (°)</text>
<text x="0.3" y="883.9" font-size="44.5">B</text>
<g stroke="#262626" stroke-width="1.5" fill="none">
<rect x="826.2" y="898.4" width="500.7" height="478.6"/>
<path d="M869.7 1377.0v-5.5M869.7 898.4v5.5M978.6 1377.0v-5.5M978.6 898.4v5.5M1087.6 1377.0v-5.5M1087.6 898.4v5.5M1196.5 1377.0v-5.5M1196.5 898.4v5.5M1305.4 1377.0v-5.5M1305.4 898.4v5.5M826.2 898.40h5.5M1326.9 898.40h-5.5M826.2 1018.05h5.5M1326.9 1018.05h-5.5M826.2 1137.70h5.5M1326.9 1137.70h-5.5M826.2 1257.35h5.5M1326.9 1257.35h-5.5M826.2 1377.00h5.5M1326.9 1377.00h-5.5"/>
</g>
<g font-size="35.5">
<text x="869.0" y="1423.0" text-anchor="middle">0</text>
<text x="977.9" y="1423.0" text-anchor="middle" textLength="67.99" lengthAdjust="spacing">0.05</text>
<text x="1086.9" y="1423.0" text-anchor="middle" textLength="48.25" lengthAdjust="spacing">0.1</text>
<text x="1195.8" y="1423.0" text-anchor="middle" textLength="67.99" lengthAdjust="spacing">0.15</text>
<text x="1304.7" y="1423.0" text-anchor="middle" textLength="48.25" lengthAdjust="spacing">0.2</text>
<text x="815.0" y="912.7" text-anchor="end" textLength="67.99" lengthAdjust="spacing">0.04</text>
<text x="815.0" y="1032.3" text-anchor="end" textLength="67.99" lengthAdjust="spacing">0.02</text>
<text x="815.0" y="1152.0" text-anchor="end">0</text>
<text x="815.0" y="1271.6" text-anchor="end" textLength="78.92" lengthAdjust="spacing">-0.02</text>
<text x="815.0" y="1391.3" text-anchor="end" textLength="78.92" lengthAdjust="spacing">-0.04</text>
</g>
<text id="tD" x="1076.2" y="882.1" text-anchor="middle" font-size="39.5" font-weight="bold" textLength="319.03" lengthAdjust="spacingAndGlyphs">MAE = 0.0070 1/m</text>
<text id="yD" transform="translate(720.9,1138.6) rotate(-90)" text-anchor="middle" font-size="37.8" textLength="181.76" lengthAdjust="spacingAndGlyphs">Error (1/m)</text>
<text id="xD" x="1076.5" y="1473" text-anchor="middle" font-size="37.8" textLength="345.31" lengthAdjust="spacingAndGlyphs">Path curvature (1/m)</text>
<text x="692.6" y="883.9" font-size="44.5">D</text>
<g stroke="#262626" stroke-width="1.5" fill="none">
<rect x="1488.2" y="898.4" width="500.8" height="478.6"/>
<path d="M1500.1 1377.0v-5.5M1500.1 898.4v5.5M1619.4 1377.0v-5.5M1619.4 898.4v5.5M1738.7 1377.0v-5.5M1738.7 898.4v5.5M1858.0 1377.0v-5.5M1858.0 898.4v5.5M1977.3 1377.0v-5.5M1977.3 898.4v5.5M1488.2 938.30h5.5M1989.0 938.30h-5.5M1488.2 1038.00h5.5M1989.0 1038.00h-5.5M1488.2 1137.70h5.5M1989.0 1137.70h-5.5M1488.2 1237.40h5.5M1989.0 1237.40h-5.5M1488.2 1337.10h5.5M1989.0 1337.10h-5.5"/>
</g>
<g font-size="35.5">
<text x="1499.4" y="1423.0" text-anchor="middle">0</text>
<text x="1618.7" y="1423.0" text-anchor="middle">50</text>
<text x="1738.0" y="1423.0" text-anchor="middle">100</text>
<text x="1857.3" y="1423.0" text-anchor="middle">150</text>
<text x="1976.6" y="1423.0" text-anchor="middle">200</text>
<text x="1477.0" y="952.6" text-anchor="end">10</text>
<text x="1477.0" y="1052.3" text-anchor="end">5</text>
<text x="1477.0" y="1152.0" text-anchor="end">0</text>
<text x="1477.0" y="1251.7" text-anchor="end" textLength="30.67" lengthAdjust="spacing">-5</text>
<text x="1477.0" y="1351.4" text-anchor="end" textLength="50.41" lengthAdjust="spacing">-10</text>
</g>
<text id="tF" x="1738.4" y="882.1" text-anchor="middle" font-size="39.5" font-weight="bold" textLength="216.29" lengthAdjust="spacingAndGlyphs">MAE = 1.89°</text>
<text id="yF" transform="translate(1412.2,1139.1) rotate(-90)" text-anchor="middle" font-size="37.8" textLength="347.15" lengthAdjust="spacingAndGlyphs">Visual angle error (°)</text>
<text id="xF" x="1737.7" y="1473" text-anchor="middle" font-size="37.8" textLength="258.98" lengthAdjust="spacingAndGlyphs">Path radius (m)</text>
<text x="1393.5" y="883.9" font-size="44.5">F</text>
<rect x="960.9" y="3.1" width="233.4" height="74" fill="none" stroke="#000" stroke-width="1.7"/>
<text id="bFull" x="1077.5" y="57.2" text-anchor="middle" font-size="43" font-weight="bold" textLength="214.08" lengthAdjust="spacingAndGlyphs">Full model</text>
<rect x="886.8" y="768.0" width="382.1" height="73.9" fill="none" stroke="#000" stroke-width="1.7"/>
<text id="bRad" x="1077.7" y="822.4" text-anchor="middle" font-size="43" font-weight="bold" textLength="359.54" lengthAdjust="spacingAndGlyphs">RadialOnly model</text>
</svg></body></html>
